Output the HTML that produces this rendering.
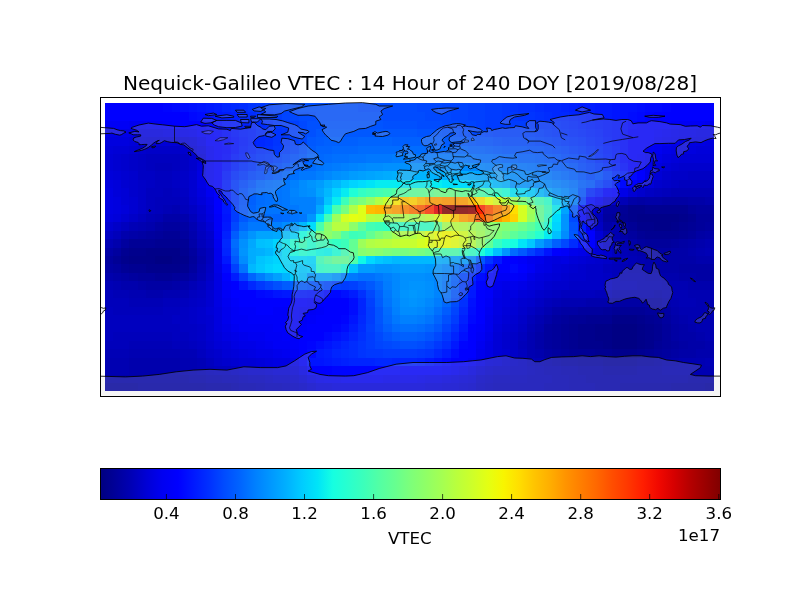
<!DOCTYPE html><html><head><meta charset="utf-8"><title>Nequick-Galileo VTEC</title>
<style>html,body{margin:0;padding:0;background:#fff}svg{display:block}text{font-family:"DejaVu Sans","Liberation Sans",sans-serif;fill:#000}</style></head><body>
<svg width="800" height="600" viewBox="0 0 800 600">
<rect width="800" height="600" fill="#fff"/>
<defs><clipPath id="ax"><rect x="100.5" y="97.5" width="620.0" height="299.0"/></clipPath></defs>
<g shape-rendering="crispEdges">
<rect x="105.00" y="103.00" width="58.00" height="9.00" fill="#0000ff"/>
<rect x="163.00" y="103.00" width="9.00" height="9.00" fill="#0004ff"/>
<rect x="172.00" y="103.00" width="8.00" height="9.00" fill="#0008ff"/>
<rect x="180.00" y="103.00" width="9.00" height="9.00" fill="#000cff"/>
<rect x="189.00" y="103.00" width="8.00" height="9.00" fill="#0010ff"/>
<rect x="197.00" y="103.00" width="9.00" height="9.00" fill="#0014ff"/>
<rect x="206.00" y="103.00" width="8.00" height="9.00" fill="#0018ff"/>
<rect x="214.00" y="103.00" width="8.00" height="9.00" fill="#001cff"/>
<rect x="222.00" y="103.00" width="9.00" height="9.00" fill="#0024ff"/>
<rect x="231.00" y="103.00" width="8.00" height="9.00" fill="#0028ff"/>
<rect x="239.00" y="103.00" width="9.00" height="9.00" fill="#002cff"/>
<rect x="248.00" y="103.00" width="8.00" height="9.00" fill="#0034ff"/>
<rect x="256.00" y="103.00" width="9.00" height="9.00" fill="#0038ff"/>
<rect x="265.00" y="103.00" width="8.00" height="9.00" fill="#0040ff"/>
<rect x="273.00" y="103.00" width="9.00" height="9.00" fill="#0044ff"/>
<rect x="282.00" y="103.00" width="8.00" height="9.00" fill="#0048ff"/>
<rect x="290.00" y="103.00" width="9.00" height="9.00" fill="#004cff"/>
<rect x="299.00" y="103.00" width="59.00" height="9.00" fill="#0050ff"/>
<rect x="358.00" y="103.00" width="59.00" height="9.00" fill="#004cff"/>
<rect x="417.00" y="103.00" width="25.00" height="9.00" fill="#0048ff"/>
<rect x="442.00" y="103.00" width="26.00" height="9.00" fill="#0044ff"/>
<rect x="468.00" y="103.00" width="17.00" height="9.00" fill="#0040ff"/>
<rect x="485.00" y="103.00" width="17.00" height="9.00" fill="#003cff"/>
<rect x="502.00" y="103.00" width="8.00" height="9.00" fill="#0038ff"/>
<rect x="510.00" y="103.00" width="8.00" height="9.00" fill="#0034ff"/>
<rect x="518.00" y="103.00" width="17.00" height="9.00" fill="#0030ff"/>
<rect x="535.00" y="103.00" width="9.00" height="9.00" fill="#002cff"/>
<rect x="544.00" y="103.00" width="17.00" height="9.00" fill="#0028ff"/>
<rect x="561.00" y="103.00" width="8.00" height="9.00" fill="#0024ff"/>
<rect x="569.00" y="103.00" width="9.00" height="9.00" fill="#0020ff"/>
<rect x="578.00" y="103.00" width="17.00" height="9.00" fill="#001cff"/>
<rect x="595.00" y="103.00" width="17.00" height="9.00" fill="#0018ff"/>
<rect x="612.00" y="103.00" width="8.00" height="9.00" fill="#0014ff"/>
<rect x="620.00" y="103.00" width="17.00" height="9.00" fill="#0010ff"/>
<rect x="637.00" y="103.00" width="8.00" height="9.00" fill="#000cff"/>
<rect x="645.00" y="103.00" width="17.00" height="9.00" fill="#0008ff"/>
<rect x="662.00" y="103.00" width="9.00" height="9.00" fill="#0004ff"/>
<rect x="671.00" y="103.00" width="43.00" height="9.00" fill="#0000ff"/>
<rect x="105.00" y="112.00" width="84.00" height="9.00" fill="#0000ff"/>
<rect x="189.00" y="112.00" width="8.00" height="9.00" fill="#0008ff"/>
<rect x="197.00" y="112.00" width="9.00" height="9.00" fill="#000cff"/>
<rect x="206.00" y="112.00" width="8.00" height="9.00" fill="#0010ff"/>
<rect x="214.00" y="112.00" width="8.00" height="9.00" fill="#0018ff"/>
<rect x="222.00" y="112.00" width="9.00" height="9.00" fill="#001cff"/>
<rect x="231.00" y="112.00" width="8.00" height="9.00" fill="#0020ff"/>
<rect x="239.00" y="112.00" width="9.00" height="9.00" fill="#0028ff"/>
<rect x="248.00" y="112.00" width="8.00" height="9.00" fill="#002cff"/>
<rect x="256.00" y="112.00" width="9.00" height="9.00" fill="#0034ff"/>
<rect x="265.00" y="112.00" width="8.00" height="9.00" fill="#0038ff"/>
<rect x="273.00" y="112.00" width="9.00" height="9.00" fill="#003cff"/>
<rect x="282.00" y="112.00" width="8.00" height="9.00" fill="#0044ff"/>
<rect x="290.00" y="112.00" width="9.00" height="9.00" fill="#0048ff"/>
<rect x="299.00" y="112.00" width="17.00" height="9.00" fill="#004cff"/>
<rect x="316.00" y="112.00" width="67.00" height="9.00" fill="#0050ff"/>
<rect x="383.00" y="112.00" width="42.00" height="9.00" fill="#004cff"/>
<rect x="425.00" y="112.00" width="26.00" height="9.00" fill="#0048ff"/>
<rect x="451.00" y="112.00" width="17.00" height="9.00" fill="#0044ff"/>
<rect x="468.00" y="112.00" width="17.00" height="9.00" fill="#0040ff"/>
<rect x="485.00" y="112.00" width="17.00" height="9.00" fill="#003cff"/>
<rect x="502.00" y="112.00" width="16.00" height="9.00" fill="#0038ff"/>
<rect x="518.00" y="112.00" width="17.00" height="9.00" fill="#0034ff"/>
<rect x="535.00" y="112.00" width="9.00" height="9.00" fill="#0030ff"/>
<rect x="544.00" y="112.00" width="8.00" height="9.00" fill="#002cff"/>
<rect x="552.00" y="112.00" width="17.00" height="9.00" fill="#0028ff"/>
<rect x="569.00" y="112.00" width="9.00" height="9.00" fill="#0024ff"/>
<rect x="578.00" y="112.00" width="8.00" height="9.00" fill="#0020ff"/>
<rect x="586.00" y="112.00" width="9.00" height="9.00" fill="#001cff"/>
<rect x="595.00" y="112.00" width="17.00" height="9.00" fill="#0018ff"/>
<rect x="612.00" y="112.00" width="8.00" height="9.00" fill="#0014ff"/>
<rect x="620.00" y="112.00" width="8.00" height="9.00" fill="#0010ff"/>
<rect x="628.00" y="112.00" width="9.00" height="9.00" fill="#000cff"/>
<rect x="637.00" y="112.00" width="8.00" height="9.00" fill="#0008ff"/>
<rect x="645.00" y="112.00" width="9.00" height="9.00" fill="#0004ff"/>
<rect x="654.00" y="112.00" width="60.00" height="9.00" fill="#0000ff"/>
<rect x="105.00" y="121.00" width="24.00" height="8.00" fill="#0000f6"/>
<rect x="129.00" y="121.00" width="17.00" height="8.00" fill="#0000f1"/>
<rect x="146.00" y="121.00" width="17.00" height="8.00" fill="#0000f6"/>
<rect x="163.00" y="121.00" width="9.00" height="8.00" fill="#0000fa"/>
<rect x="172.00" y="121.00" width="34.00" height="8.00" fill="#0000ff"/>
<rect x="206.00" y="121.00" width="8.00" height="8.00" fill="#0008ff"/>
<rect x="214.00" y="121.00" width="8.00" height="8.00" fill="#000cff"/>
<rect x="222.00" y="121.00" width="9.00" height="8.00" fill="#0014ff"/>
<rect x="231.00" y="121.00" width="8.00" height="8.00" fill="#0018ff"/>
<rect x="239.00" y="121.00" width="9.00" height="8.00" fill="#0020ff"/>
<rect x="248.00" y="121.00" width="8.00" height="8.00" fill="#0024ff"/>
<rect x="256.00" y="121.00" width="9.00" height="8.00" fill="#002cff"/>
<rect x="265.00" y="121.00" width="8.00" height="8.00" fill="#0030ff"/>
<rect x="273.00" y="121.00" width="9.00" height="8.00" fill="#0038ff"/>
<rect x="282.00" y="121.00" width="8.00" height="8.00" fill="#003cff"/>
<rect x="290.00" y="121.00" width="9.00" height="8.00" fill="#0040ff"/>
<rect x="299.00" y="121.00" width="8.00" height="8.00" fill="#0048ff"/>
<rect x="307.00" y="121.00" width="17.00" height="8.00" fill="#0050ff"/>
<rect x="324.00" y="121.00" width="59.00" height="8.00" fill="#0054ff"/>
<rect x="383.00" y="121.00" width="34.00" height="8.00" fill="#0050ff"/>
<rect x="417.00" y="121.00" width="25.00" height="8.00" fill="#004cff"/>
<rect x="442.00" y="121.00" width="17.00" height="8.00" fill="#0048ff"/>
<rect x="459.00" y="121.00" width="17.00" height="8.00" fill="#0044ff"/>
<rect x="476.00" y="121.00" width="9.00" height="8.00" fill="#0040ff"/>
<rect x="485.00" y="121.00" width="42.00" height="8.00" fill="#003cff"/>
<rect x="527.00" y="121.00" width="8.00" height="8.00" fill="#0038ff"/>
<rect x="535.00" y="121.00" width="17.00" height="8.00" fill="#0034ff"/>
<rect x="552.00" y="121.00" width="9.00" height="8.00" fill="#0030ff"/>
<rect x="561.00" y="121.00" width="8.00" height="8.00" fill="#002cff"/>
<rect x="569.00" y="121.00" width="9.00" height="8.00" fill="#0028ff"/>
<rect x="578.00" y="121.00" width="8.00" height="8.00" fill="#0024ff"/>
<rect x="586.00" y="121.00" width="9.00" height="8.00" fill="#0020ff"/>
<rect x="595.00" y="121.00" width="8.00" height="8.00" fill="#001cff"/>
<rect x="603.00" y="121.00" width="9.00" height="8.00" fill="#0018ff"/>
<rect x="612.00" y="121.00" width="8.00" height="8.00" fill="#0014ff"/>
<rect x="620.00" y="121.00" width="8.00" height="8.00" fill="#000cff"/>
<rect x="628.00" y="121.00" width="9.00" height="8.00" fill="#0004ff"/>
<rect x="637.00" y="121.00" width="34.00" height="8.00" fill="#0000ff"/>
<rect x="671.00" y="121.00" width="8.00" height="8.00" fill="#0000fa"/>
<rect x="679.00" y="121.00" width="26.00" height="8.00" fill="#0000f6"/>
<rect x="705.00" y="121.00" width="9.00" height="8.00" fill="#0000f1"/>
<rect x="105.00" y="129.00" width="33.00" height="8.00" fill="#0000e8"/>
<rect x="138.00" y="129.00" width="25.00" height="8.00" fill="#0000e3"/>
<rect x="163.00" y="129.00" width="17.00" height="8.00" fill="#0000e8"/>
<rect x="180.00" y="129.00" width="9.00" height="8.00" fill="#0000ed"/>
<rect x="189.00" y="129.00" width="8.00" height="8.00" fill="#0000f1"/>
<rect x="197.00" y="129.00" width="9.00" height="8.00" fill="#0000fa"/>
<rect x="206.00" y="129.00" width="8.00" height="8.00" fill="#0000ff"/>
<rect x="214.00" y="129.00" width="8.00" height="8.00" fill="#0004ff"/>
<rect x="222.00" y="129.00" width="9.00" height="8.00" fill="#000cff"/>
<rect x="231.00" y="129.00" width="8.00" height="8.00" fill="#0014ff"/>
<rect x="239.00" y="129.00" width="9.00" height="8.00" fill="#001cff"/>
<rect x="248.00" y="129.00" width="8.00" height="8.00" fill="#0020ff"/>
<rect x="256.00" y="129.00" width="9.00" height="8.00" fill="#0028ff"/>
<rect x="265.00" y="129.00" width="8.00" height="8.00" fill="#002cff"/>
<rect x="273.00" y="129.00" width="9.00" height="8.00" fill="#0034ff"/>
<rect x="282.00" y="129.00" width="8.00" height="8.00" fill="#0038ff"/>
<rect x="290.00" y="129.00" width="9.00" height="8.00" fill="#0040ff"/>
<rect x="299.00" y="129.00" width="8.00" height="8.00" fill="#0048ff"/>
<rect x="307.00" y="129.00" width="9.00" height="8.00" fill="#0050ff"/>
<rect x="316.00" y="129.00" width="101.00" height="8.00" fill="#0058ff"/>
<rect x="417.00" y="129.00" width="25.00" height="8.00" fill="#0054ff"/>
<rect x="442.00" y="129.00" width="17.00" height="8.00" fill="#0050ff"/>
<rect x="459.00" y="129.00" width="9.00" height="8.00" fill="#004cff"/>
<rect x="468.00" y="129.00" width="17.00" height="8.00" fill="#0048ff"/>
<rect x="485.00" y="129.00" width="8.00" height="8.00" fill="#0044ff"/>
<rect x="493.00" y="129.00" width="42.00" height="8.00" fill="#0040ff"/>
<rect x="535.00" y="129.00" width="9.00" height="8.00" fill="#003cff"/>
<rect x="544.00" y="129.00" width="8.00" height="8.00" fill="#0038ff"/>
<rect x="552.00" y="129.00" width="9.00" height="8.00" fill="#0034ff"/>
<rect x="561.00" y="129.00" width="8.00" height="8.00" fill="#0030ff"/>
<rect x="569.00" y="129.00" width="9.00" height="8.00" fill="#002cff"/>
<rect x="578.00" y="129.00" width="8.00" height="8.00" fill="#0028ff"/>
<rect x="586.00" y="129.00" width="9.00" height="8.00" fill="#0024ff"/>
<rect x="595.00" y="129.00" width="8.00" height="8.00" fill="#0020ff"/>
<rect x="603.00" y="129.00" width="9.00" height="8.00" fill="#0018ff"/>
<rect x="612.00" y="129.00" width="8.00" height="8.00" fill="#0014ff"/>
<rect x="620.00" y="129.00" width="8.00" height="8.00" fill="#000cff"/>
<rect x="628.00" y="129.00" width="26.00" height="8.00" fill="#0000ff"/>
<rect x="654.00" y="129.00" width="8.00" height="8.00" fill="#0000fa"/>
<rect x="662.00" y="129.00" width="9.00" height="8.00" fill="#0000f6"/>
<rect x="671.00" y="129.00" width="8.00" height="8.00" fill="#0000f1"/>
<rect x="679.00" y="129.00" width="17.00" height="8.00" fill="#0000ed"/>
<rect x="696.00" y="129.00" width="18.00" height="8.00" fill="#0000e8"/>
<rect x="105.00" y="137.00" width="24.00" height="9.00" fill="#0000df"/>
<rect x="129.00" y="137.00" width="17.00" height="9.00" fill="#0000da"/>
<rect x="146.00" y="137.00" width="34.00" height="9.00" fill="#0000d6"/>
<rect x="180.00" y="137.00" width="9.00" height="9.00" fill="#0000da"/>
<rect x="189.00" y="137.00" width="8.00" height="9.00" fill="#0000df"/>
<rect x="197.00" y="137.00" width="9.00" height="9.00" fill="#0000ed"/>
<rect x="206.00" y="137.00" width="16.00" height="9.00" fill="#0000ff"/>
<rect x="222.00" y="137.00" width="9.00" height="9.00" fill="#0008ff"/>
<rect x="231.00" y="137.00" width="8.00" height="9.00" fill="#0010ff"/>
<rect x="239.00" y="137.00" width="9.00" height="9.00" fill="#0018ff"/>
<rect x="248.00" y="137.00" width="8.00" height="9.00" fill="#0020ff"/>
<rect x="256.00" y="137.00" width="9.00" height="9.00" fill="#0028ff"/>
<rect x="265.00" y="137.00" width="8.00" height="9.00" fill="#002cff"/>
<rect x="273.00" y="137.00" width="9.00" height="9.00" fill="#0034ff"/>
<rect x="282.00" y="137.00" width="8.00" height="9.00" fill="#0038ff"/>
<rect x="290.00" y="137.00" width="9.00" height="9.00" fill="#0040ff"/>
<rect x="299.00" y="137.00" width="8.00" height="9.00" fill="#0048ff"/>
<rect x="307.00" y="137.00" width="9.00" height="9.00" fill="#0058ff"/>
<rect x="316.00" y="137.00" width="8.00" height="9.00" fill="#005cff"/>
<rect x="324.00" y="137.00" width="34.00" height="9.00" fill="#0060ff"/>
<rect x="358.00" y="137.00" width="34.00" height="9.00" fill="#0064ff"/>
<rect x="392.00" y="137.00" width="42.00" height="9.00" fill="#0060ff"/>
<rect x="434.00" y="137.00" width="17.00" height="9.00" fill="#005cff"/>
<rect x="451.00" y="137.00" width="17.00" height="9.00" fill="#0058ff"/>
<rect x="468.00" y="137.00" width="8.00" height="9.00" fill="#0054ff"/>
<rect x="476.00" y="137.00" width="17.00" height="9.00" fill="#0050ff"/>
<rect x="493.00" y="137.00" width="9.00" height="9.00" fill="#004cff"/>
<rect x="502.00" y="137.00" width="33.00" height="9.00" fill="#0048ff"/>
<rect x="535.00" y="137.00" width="9.00" height="9.00" fill="#0044ff"/>
<rect x="544.00" y="137.00" width="8.00" height="9.00" fill="#0040ff"/>
<rect x="552.00" y="137.00" width="9.00" height="9.00" fill="#003cff"/>
<rect x="561.00" y="137.00" width="8.00" height="9.00" fill="#0038ff"/>
<rect x="569.00" y="137.00" width="9.00" height="9.00" fill="#0034ff"/>
<rect x="578.00" y="137.00" width="8.00" height="9.00" fill="#0030ff"/>
<rect x="586.00" y="137.00" width="9.00" height="9.00" fill="#0028ff"/>
<rect x="595.00" y="137.00" width="8.00" height="9.00" fill="#0024ff"/>
<rect x="603.00" y="137.00" width="9.00" height="9.00" fill="#001cff"/>
<rect x="612.00" y="137.00" width="8.00" height="9.00" fill="#0014ff"/>
<rect x="620.00" y="137.00" width="8.00" height="9.00" fill="#000cff"/>
<rect x="628.00" y="137.00" width="26.00" height="9.00" fill="#0000ff"/>
<rect x="654.00" y="137.00" width="8.00" height="9.00" fill="#0000f6"/>
<rect x="662.00" y="137.00" width="9.00" height="9.00" fill="#0000f1"/>
<rect x="671.00" y="137.00" width="8.00" height="9.00" fill="#0000ed"/>
<rect x="679.00" y="137.00" width="9.00" height="9.00" fill="#0000e8"/>
<rect x="688.00" y="137.00" width="17.00" height="9.00" fill="#0000e3"/>
<rect x="705.00" y="137.00" width="9.00" height="9.00" fill="#0000df"/>
<rect x="105.00" y="146.00" width="8.00" height="8.00" fill="#0000da"/>
<rect x="113.00" y="146.00" width="16.00" height="8.00" fill="#0000d6"/>
<rect x="129.00" y="146.00" width="9.00" height="8.00" fill="#0000d1"/>
<rect x="138.00" y="146.00" width="8.00" height="8.00" fill="#0000cd"/>
<rect x="146.00" y="146.00" width="34.00" height="8.00" fill="#0000c8"/>
<rect x="180.00" y="146.00" width="9.00" height="8.00" fill="#0000cd"/>
<rect x="189.00" y="146.00" width="8.00" height="8.00" fill="#0000d6"/>
<rect x="197.00" y="146.00" width="9.00" height="8.00" fill="#0000e3"/>
<rect x="206.00" y="146.00" width="8.00" height="8.00" fill="#0000f6"/>
<rect x="214.00" y="146.00" width="8.00" height="8.00" fill="#0000ff"/>
<rect x="222.00" y="146.00" width="9.00" height="8.00" fill="#0004ff"/>
<rect x="231.00" y="146.00" width="8.00" height="8.00" fill="#0010ff"/>
<rect x="239.00" y="146.00" width="9.00" height="8.00" fill="#001cff"/>
<rect x="248.00" y="146.00" width="8.00" height="8.00" fill="#0024ff"/>
<rect x="256.00" y="146.00" width="9.00" height="8.00" fill="#002cff"/>
<rect x="265.00" y="146.00" width="8.00" height="8.00" fill="#0030ff"/>
<rect x="273.00" y="146.00" width="9.00" height="8.00" fill="#0038ff"/>
<rect x="282.00" y="146.00" width="8.00" height="8.00" fill="#003cff"/>
<rect x="290.00" y="146.00" width="9.00" height="8.00" fill="#0044ff"/>
<rect x="299.00" y="146.00" width="8.00" height="8.00" fill="#0050ff"/>
<rect x="307.00" y="146.00" width="9.00" height="8.00" fill="#005cff"/>
<rect x="316.00" y="146.00" width="16.00" height="8.00" fill="#0064ff"/>
<rect x="332.00" y="146.00" width="26.00" height="8.00" fill="#0068ff"/>
<rect x="358.00" y="146.00" width="67.00" height="8.00" fill="#006cff"/>
<rect x="425.00" y="146.00" width="26.00" height="8.00" fill="#0068ff"/>
<rect x="451.00" y="146.00" width="17.00" height="8.00" fill="#0064ff"/>
<rect x="468.00" y="146.00" width="17.00" height="8.00" fill="#0060ff"/>
<rect x="485.00" y="146.00" width="8.00" height="8.00" fill="#005cff"/>
<rect x="493.00" y="146.00" width="9.00" height="8.00" fill="#0058ff"/>
<rect x="502.00" y="146.00" width="25.00" height="8.00" fill="#0054ff"/>
<rect x="527.00" y="146.00" width="17.00" height="8.00" fill="#0050ff"/>
<rect x="544.00" y="146.00" width="8.00" height="8.00" fill="#004cff"/>
<rect x="552.00" y="146.00" width="9.00" height="8.00" fill="#0048ff"/>
<rect x="561.00" y="146.00" width="8.00" height="8.00" fill="#0044ff"/>
<rect x="569.00" y="146.00" width="9.00" height="8.00" fill="#003cff"/>
<rect x="578.00" y="146.00" width="8.00" height="8.00" fill="#0038ff"/>
<rect x="586.00" y="146.00" width="9.00" height="8.00" fill="#0030ff"/>
<rect x="595.00" y="146.00" width="8.00" height="8.00" fill="#0028ff"/>
<rect x="603.00" y="146.00" width="9.00" height="8.00" fill="#0020ff"/>
<rect x="612.00" y="146.00" width="8.00" height="8.00" fill="#0018ff"/>
<rect x="620.00" y="146.00" width="8.00" height="8.00" fill="#000cff"/>
<rect x="628.00" y="146.00" width="17.00" height="8.00" fill="#0000ff"/>
<rect x="645.00" y="146.00" width="9.00" height="8.00" fill="#0000f6"/>
<rect x="654.00" y="146.00" width="8.00" height="8.00" fill="#0000f1"/>
<rect x="662.00" y="146.00" width="9.00" height="8.00" fill="#0000e8"/>
<rect x="671.00" y="146.00" width="8.00" height="8.00" fill="#0000e3"/>
<rect x="679.00" y="146.00" width="17.00" height="8.00" fill="#0000df"/>
<rect x="696.00" y="146.00" width="18.00" height="8.00" fill="#0000da"/>
<rect x="105.00" y="154.00" width="8.00" height="9.00" fill="#0000d6"/>
<rect x="113.00" y="154.00" width="8.00" height="9.00" fill="#0000d1"/>
<rect x="121.00" y="154.00" width="8.00" height="9.00" fill="#0000cd"/>
<rect x="129.00" y="154.00" width="9.00" height="9.00" fill="#0000c8"/>
<rect x="138.00" y="154.00" width="8.00" height="9.00" fill="#0000c4"/>
<rect x="146.00" y="154.00" width="34.00" height="9.00" fill="#0000bf"/>
<rect x="180.00" y="154.00" width="9.00" height="9.00" fill="#0000c4"/>
<rect x="189.00" y="154.00" width="8.00" height="9.00" fill="#0000cd"/>
<rect x="197.00" y="154.00" width="9.00" height="9.00" fill="#0000da"/>
<rect x="206.00" y="154.00" width="8.00" height="9.00" fill="#0000f6"/>
<rect x="214.00" y="154.00" width="8.00" height="9.00" fill="#0000ff"/>
<rect x="222.00" y="154.00" width="9.00" height="9.00" fill="#0008ff"/>
<rect x="231.00" y="154.00" width="8.00" height="9.00" fill="#0018ff"/>
<rect x="239.00" y="154.00" width="9.00" height="9.00" fill="#0020ff"/>
<rect x="248.00" y="154.00" width="8.00" height="9.00" fill="#002cff"/>
<rect x="256.00" y="154.00" width="9.00" height="9.00" fill="#0034ff"/>
<rect x="265.00" y="154.00" width="8.00" height="9.00" fill="#0038ff"/>
<rect x="273.00" y="154.00" width="9.00" height="9.00" fill="#0040ff"/>
<rect x="282.00" y="154.00" width="8.00" height="9.00" fill="#0048ff"/>
<rect x="290.00" y="154.00" width="9.00" height="9.00" fill="#0050ff"/>
<rect x="299.00" y="154.00" width="8.00" height="9.00" fill="#0058ff"/>
<rect x="307.00" y="154.00" width="9.00" height="9.00" fill="#0064ff"/>
<rect x="316.00" y="154.00" width="8.00" height="9.00" fill="#0068ff"/>
<rect x="324.00" y="154.00" width="8.00" height="9.00" fill="#006cff"/>
<rect x="332.00" y="154.00" width="17.00" height="9.00" fill="#0070ff"/>
<rect x="349.00" y="154.00" width="17.00" height="9.00" fill="#0074ff"/>
<rect x="366.00" y="154.00" width="26.00" height="9.00" fill="#0078ff"/>
<rect x="392.00" y="154.00" width="25.00" height="9.00" fill="#007cff"/>
<rect x="417.00" y="154.00" width="34.00" height="9.00" fill="#0078ff"/>
<rect x="451.00" y="154.00" width="17.00" height="9.00" fill="#0074ff"/>
<rect x="468.00" y="154.00" width="8.00" height="9.00" fill="#0070ff"/>
<rect x="476.00" y="154.00" width="17.00" height="9.00" fill="#006cff"/>
<rect x="493.00" y="154.00" width="9.00" height="9.00" fill="#0068ff"/>
<rect x="502.00" y="154.00" width="16.00" height="9.00" fill="#0064ff"/>
<rect x="518.00" y="154.00" width="17.00" height="9.00" fill="#0060ff"/>
<rect x="535.00" y="154.00" width="9.00" height="9.00" fill="#005cff"/>
<rect x="544.00" y="154.00" width="8.00" height="9.00" fill="#0058ff"/>
<rect x="552.00" y="154.00" width="9.00" height="9.00" fill="#0054ff"/>
<rect x="561.00" y="154.00" width="8.00" height="9.00" fill="#004cff"/>
<rect x="569.00" y="154.00" width="9.00" height="9.00" fill="#0048ff"/>
<rect x="578.00" y="154.00" width="8.00" height="9.00" fill="#0040ff"/>
<rect x="586.00" y="154.00" width="9.00" height="9.00" fill="#0038ff"/>
<rect x="595.00" y="154.00" width="8.00" height="9.00" fill="#002cff"/>
<rect x="603.00" y="154.00" width="9.00" height="9.00" fill="#0024ff"/>
<rect x="612.00" y="154.00" width="8.00" height="9.00" fill="#0018ff"/>
<rect x="620.00" y="154.00" width="8.00" height="9.00" fill="#0008ff"/>
<rect x="628.00" y="154.00" width="9.00" height="9.00" fill="#0000ff"/>
<rect x="637.00" y="154.00" width="8.00" height="9.00" fill="#0000fa"/>
<rect x="645.00" y="154.00" width="9.00" height="9.00" fill="#0000f1"/>
<rect x="654.00" y="154.00" width="8.00" height="9.00" fill="#0000e8"/>
<rect x="662.00" y="154.00" width="9.00" height="9.00" fill="#0000df"/>
<rect x="671.00" y="154.00" width="8.00" height="9.00" fill="#0000da"/>
<rect x="679.00" y="154.00" width="35.00" height="9.00" fill="#0000d6"/>
<rect x="105.00" y="163.00" width="8.00" height="8.00" fill="#0000d6"/>
<rect x="113.00" y="163.00" width="8.00" height="8.00" fill="#0000d1"/>
<rect x="121.00" y="163.00" width="8.00" height="8.00" fill="#0000cd"/>
<rect x="129.00" y="163.00" width="9.00" height="8.00" fill="#0000c8"/>
<rect x="138.00" y="163.00" width="8.00" height="8.00" fill="#0000c4"/>
<rect x="146.00" y="163.00" width="9.00" height="8.00" fill="#0000bf"/>
<rect x="155.00" y="163.00" width="17.00" height="8.00" fill="#0000bb"/>
<rect x="172.00" y="163.00" width="8.00" height="8.00" fill="#0000bf"/>
<rect x="180.00" y="163.00" width="9.00" height="8.00" fill="#0000c4"/>
<rect x="189.00" y="163.00" width="8.00" height="8.00" fill="#0000cd"/>
<rect x="197.00" y="163.00" width="9.00" height="8.00" fill="#0000df"/>
<rect x="206.00" y="163.00" width="8.00" height="8.00" fill="#0000f6"/>
<rect x="214.00" y="163.00" width="8.00" height="8.00" fill="#0000ff"/>
<rect x="222.00" y="163.00" width="9.00" height="8.00" fill="#0010ff"/>
<rect x="231.00" y="163.00" width="8.00" height="8.00" fill="#0020ff"/>
<rect x="239.00" y="163.00" width="9.00" height="8.00" fill="#002cff"/>
<rect x="248.00" y="163.00" width="8.00" height="8.00" fill="#0034ff"/>
<rect x="256.00" y="163.00" width="9.00" height="8.00" fill="#0040ff"/>
<rect x="265.00" y="163.00" width="8.00" height="8.00" fill="#0044ff"/>
<rect x="273.00" y="163.00" width="9.00" height="8.00" fill="#004cff"/>
<rect x="282.00" y="163.00" width="8.00" height="8.00" fill="#0054ff"/>
<rect x="290.00" y="163.00" width="9.00" height="8.00" fill="#005cff"/>
<rect x="299.00" y="163.00" width="8.00" height="8.00" fill="#0064ff"/>
<rect x="307.00" y="163.00" width="9.00" height="8.00" fill="#006cff"/>
<rect x="316.00" y="163.00" width="8.00" height="8.00" fill="#0074ff"/>
<rect x="324.00" y="163.00" width="8.00" height="8.00" fill="#0078ff"/>
<rect x="332.00" y="163.00" width="9.00" height="8.00" fill="#007cff"/>
<rect x="341.00" y="163.00" width="8.00" height="8.00" fill="#0080ff"/>
<rect x="349.00" y="163.00" width="9.00" height="8.00" fill="#0084ff"/>
<rect x="358.00" y="163.00" width="8.00" height="8.00" fill="#0088ff"/>
<rect x="366.00" y="163.00" width="17.00" height="8.00" fill="#008cff"/>
<rect x="383.00" y="163.00" width="68.00" height="8.00" fill="#0090ff"/>
<rect x="451.00" y="163.00" width="17.00" height="8.00" fill="#008cff"/>
<rect x="468.00" y="163.00" width="8.00" height="8.00" fill="#0088ff"/>
<rect x="476.00" y="163.00" width="9.00" height="8.00" fill="#0084ff"/>
<rect x="485.00" y="163.00" width="8.00" height="8.00" fill="#0080ff"/>
<rect x="493.00" y="163.00" width="9.00" height="8.00" fill="#007cff"/>
<rect x="502.00" y="163.00" width="8.00" height="8.00" fill="#0078ff"/>
<rect x="510.00" y="163.00" width="17.00" height="8.00" fill="#0074ff"/>
<rect x="527.00" y="163.00" width="8.00" height="8.00" fill="#0070ff"/>
<rect x="535.00" y="163.00" width="9.00" height="8.00" fill="#006cff"/>
<rect x="544.00" y="163.00" width="8.00" height="8.00" fill="#0068ff"/>
<rect x="552.00" y="163.00" width="9.00" height="8.00" fill="#0060ff"/>
<rect x="561.00" y="163.00" width="8.00" height="8.00" fill="#005cff"/>
<rect x="569.00" y="163.00" width="9.00" height="8.00" fill="#0054ff"/>
<rect x="578.00" y="163.00" width="8.00" height="8.00" fill="#0048ff"/>
<rect x="586.00" y="163.00" width="9.00" height="8.00" fill="#0040ff"/>
<rect x="595.00" y="163.00" width="8.00" height="8.00" fill="#0038ff"/>
<rect x="603.00" y="163.00" width="9.00" height="8.00" fill="#002cff"/>
<rect x="612.00" y="163.00" width="8.00" height="8.00" fill="#0020ff"/>
<rect x="620.00" y="163.00" width="8.00" height="8.00" fill="#0010ff"/>
<rect x="628.00" y="163.00" width="9.00" height="8.00" fill="#0000ff"/>
<rect x="637.00" y="163.00" width="8.00" height="8.00" fill="#0000fa"/>
<rect x="645.00" y="163.00" width="9.00" height="8.00" fill="#0000e8"/>
<rect x="654.00" y="163.00" width="8.00" height="8.00" fill="#0000df"/>
<rect x="662.00" y="163.00" width="9.00" height="8.00" fill="#0000d6"/>
<rect x="671.00" y="163.00" width="8.00" height="8.00" fill="#0000d1"/>
<rect x="679.00" y="163.00" width="35.00" height="8.00" fill="#0000cd"/>
<rect x="105.00" y="171.00" width="8.00" height="9.00" fill="#0000da"/>
<rect x="113.00" y="171.00" width="8.00" height="9.00" fill="#0000d6"/>
<rect x="121.00" y="171.00" width="8.00" height="9.00" fill="#0000d1"/>
<rect x="129.00" y="171.00" width="9.00" height="9.00" fill="#0000cd"/>
<rect x="138.00" y="171.00" width="17.00" height="9.00" fill="#0000c4"/>
<rect x="155.00" y="171.00" width="17.00" height="9.00" fill="#0000bf"/>
<rect x="172.00" y="171.00" width="8.00" height="9.00" fill="#0000c4"/>
<rect x="180.00" y="171.00" width="9.00" height="9.00" fill="#0000c8"/>
<rect x="189.00" y="171.00" width="8.00" height="9.00" fill="#0000d1"/>
<rect x="197.00" y="171.00" width="9.00" height="9.00" fill="#0000e3"/>
<rect x="206.00" y="171.00" width="8.00" height="9.00" fill="#0000f6"/>
<rect x="214.00" y="171.00" width="8.00" height="9.00" fill="#0000ff"/>
<rect x="222.00" y="171.00" width="9.00" height="9.00" fill="#0018ff"/>
<rect x="231.00" y="171.00" width="8.00" height="9.00" fill="#002cff"/>
<rect x="239.00" y="171.00" width="9.00" height="9.00" fill="#0038ff"/>
<rect x="248.00" y="171.00" width="8.00" height="9.00" fill="#0044ff"/>
<rect x="256.00" y="171.00" width="9.00" height="9.00" fill="#004cff"/>
<rect x="265.00" y="171.00" width="8.00" height="9.00" fill="#0054ff"/>
<rect x="273.00" y="171.00" width="9.00" height="9.00" fill="#005cff"/>
<rect x="282.00" y="171.00" width="8.00" height="9.00" fill="#0064ff"/>
<rect x="290.00" y="171.00" width="9.00" height="9.00" fill="#0070ff"/>
<rect x="299.00" y="171.00" width="17.00" height="9.00" fill="#0078ff"/>
<rect x="316.00" y="171.00" width="8.00" height="9.00" fill="#0080ff"/>
<rect x="324.00" y="171.00" width="8.00" height="9.00" fill="#0088ff"/>
<rect x="332.00" y="171.00" width="9.00" height="9.00" fill="#0090ff"/>
<rect x="341.00" y="171.00" width="8.00" height="9.00" fill="#0094ff"/>
<rect x="349.00" y="171.00" width="9.00" height="9.00" fill="#009cff"/>
<rect x="358.00" y="171.00" width="8.00" height="9.00" fill="#00a0ff"/>
<rect x="366.00" y="171.00" width="9.00" height="9.00" fill="#00a4ff"/>
<rect x="375.00" y="171.00" width="8.00" height="9.00" fill="#00a8ff"/>
<rect x="383.00" y="171.00" width="9.00" height="9.00" fill="#00acff"/>
<rect x="392.00" y="171.00" width="25.00" height="9.00" fill="#00b0ff"/>
<rect x="417.00" y="171.00" width="17.00" height="9.00" fill="#00b4ff"/>
<rect x="434.00" y="171.00" width="25.00" height="9.00" fill="#00b0ff"/>
<rect x="459.00" y="171.00" width="9.00" height="9.00" fill="#00acff"/>
<rect x="468.00" y="171.00" width="8.00" height="9.00" fill="#00a8ff"/>
<rect x="476.00" y="171.00" width="9.00" height="9.00" fill="#00a4ff"/>
<rect x="485.00" y="171.00" width="8.00" height="9.00" fill="#00a0ff"/>
<rect x="493.00" y="171.00" width="9.00" height="9.00" fill="#009cff"/>
<rect x="502.00" y="171.00" width="8.00" height="9.00" fill="#0094ff"/>
<rect x="510.00" y="171.00" width="8.00" height="9.00" fill="#008cff"/>
<rect x="518.00" y="171.00" width="9.00" height="9.00" fill="#0088ff"/>
<rect x="527.00" y="171.00" width="8.00" height="9.00" fill="#0084ff"/>
<rect x="535.00" y="171.00" width="9.00" height="9.00" fill="#007cff"/>
<rect x="544.00" y="171.00" width="8.00" height="9.00" fill="#0078ff"/>
<rect x="552.00" y="171.00" width="9.00" height="9.00" fill="#0070ff"/>
<rect x="561.00" y="171.00" width="8.00" height="9.00" fill="#0068ff"/>
<rect x="569.00" y="171.00" width="9.00" height="9.00" fill="#0060ff"/>
<rect x="578.00" y="171.00" width="8.00" height="9.00" fill="#0054ff"/>
<rect x="586.00" y="171.00" width="9.00" height="9.00" fill="#0048ff"/>
<rect x="595.00" y="171.00" width="8.00" height="9.00" fill="#0050ff"/>
<rect x="603.00" y="171.00" width="9.00" height="9.00" fill="#0040ff"/>
<rect x="612.00" y="171.00" width="8.00" height="9.00" fill="#002cff"/>
<rect x="620.00" y="171.00" width="8.00" height="9.00" fill="#001cff"/>
<rect x="628.00" y="171.00" width="9.00" height="9.00" fill="#0008ff"/>
<rect x="637.00" y="171.00" width="8.00" height="9.00" fill="#0000ff"/>
<rect x="645.00" y="171.00" width="9.00" height="9.00" fill="#0000e8"/>
<rect x="654.00" y="171.00" width="8.00" height="9.00" fill="#0000d6"/>
<rect x="662.00" y="171.00" width="9.00" height="9.00" fill="#0000cd"/>
<rect x="671.00" y="171.00" width="17.00" height="9.00" fill="#0000c8"/>
<rect x="688.00" y="171.00" width="26.00" height="9.00" fill="#0000c4"/>
<rect x="105.00" y="180.00" width="8.00" height="8.00" fill="#0000df"/>
<rect x="113.00" y="180.00" width="8.00" height="8.00" fill="#0000da"/>
<rect x="121.00" y="180.00" width="8.00" height="8.00" fill="#0000d1"/>
<rect x="129.00" y="180.00" width="9.00" height="8.00" fill="#0000cd"/>
<rect x="138.00" y="180.00" width="8.00" height="8.00" fill="#0000c8"/>
<rect x="146.00" y="180.00" width="9.00" height="8.00" fill="#0000c4"/>
<rect x="155.00" y="180.00" width="17.00" height="8.00" fill="#0000bf"/>
<rect x="172.00" y="180.00" width="8.00" height="8.00" fill="#0000c4"/>
<rect x="180.00" y="180.00" width="9.00" height="8.00" fill="#0000c8"/>
<rect x="189.00" y="180.00" width="8.00" height="8.00" fill="#0000d1"/>
<rect x="197.00" y="180.00" width="9.00" height="8.00" fill="#0000e3"/>
<rect x="206.00" y="180.00" width="8.00" height="8.00" fill="#0000f6"/>
<rect x="214.00" y="180.00" width="8.00" height="8.00" fill="#0000ff"/>
<rect x="222.00" y="180.00" width="9.00" height="8.00" fill="#001cff"/>
<rect x="231.00" y="180.00" width="8.00" height="8.00" fill="#0038ff"/>
<rect x="239.00" y="180.00" width="9.00" height="8.00" fill="#0048ff"/>
<rect x="248.00" y="180.00" width="8.00" height="8.00" fill="#0054ff"/>
<rect x="256.00" y="180.00" width="9.00" height="8.00" fill="#0064ff"/>
<rect x="265.00" y="180.00" width="8.00" height="8.00" fill="#006cff"/>
<rect x="273.00" y="180.00" width="9.00" height="8.00" fill="#0070ff"/>
<rect x="282.00" y="180.00" width="8.00" height="8.00" fill="#0078ff"/>
<rect x="290.00" y="180.00" width="9.00" height="8.00" fill="#0080ff"/>
<rect x="299.00" y="180.00" width="8.00" height="8.00" fill="#008cff"/>
<rect x="307.00" y="180.00" width="9.00" height="8.00" fill="#0094ff"/>
<rect x="316.00" y="180.00" width="8.00" height="8.00" fill="#009cff"/>
<rect x="324.00" y="180.00" width="8.00" height="8.00" fill="#00acff"/>
<rect x="332.00" y="180.00" width="9.00" height="8.00" fill="#00b8ff"/>
<rect x="341.00" y="180.00" width="8.00" height="8.00" fill="#00c8ff"/>
<rect x="349.00" y="180.00" width="9.00" height="8.00" fill="#00d4ff"/>
<rect x="358.00" y="180.00" width="8.00" height="8.00" fill="#00dcfe"/>
<rect x="366.00" y="180.00" width="9.00" height="8.00" fill="#00e4f8"/>
<rect x="375.00" y="180.00" width="67.00" height="8.00" fill="#06ecf1"/>
<rect x="442.00" y="180.00" width="9.00" height="8.00" fill="#00e4f8"/>
<rect x="451.00" y="180.00" width="8.00" height="8.00" fill="#00e0fb"/>
<rect x="459.00" y="180.00" width="9.00" height="8.00" fill="#00dcfe"/>
<rect x="468.00" y="180.00" width="8.00" height="8.00" fill="#00d4ff"/>
<rect x="476.00" y="180.00" width="9.00" height="8.00" fill="#00ccff"/>
<rect x="485.00" y="180.00" width="8.00" height="8.00" fill="#00c4ff"/>
<rect x="493.00" y="180.00" width="9.00" height="8.00" fill="#00b8ff"/>
<rect x="502.00" y="180.00" width="8.00" height="8.00" fill="#00b0ff"/>
<rect x="510.00" y="180.00" width="17.00" height="8.00" fill="#0094ff"/>
<rect x="527.00" y="180.00" width="8.00" height="8.00" fill="#0090ff"/>
<rect x="535.00" y="180.00" width="9.00" height="8.00" fill="#008cff"/>
<rect x="544.00" y="180.00" width="8.00" height="8.00" fill="#0088ff"/>
<rect x="552.00" y="180.00" width="9.00" height="8.00" fill="#0080ff"/>
<rect x="561.00" y="180.00" width="8.00" height="8.00" fill="#0078ff"/>
<rect x="569.00" y="180.00" width="9.00" height="8.00" fill="#0070ff"/>
<rect x="578.00" y="180.00" width="8.00" height="8.00" fill="#0060ff"/>
<rect x="586.00" y="180.00" width="9.00" height="8.00" fill="#0058ff"/>
<rect x="595.00" y="180.00" width="8.00" height="8.00" fill="#0040ff"/>
<rect x="603.00" y="180.00" width="9.00" height="8.00" fill="#0030ff"/>
<rect x="612.00" y="180.00" width="8.00" height="8.00" fill="#001cff"/>
<rect x="620.00" y="180.00" width="8.00" height="8.00" fill="#0008ff"/>
<rect x="628.00" y="180.00" width="9.00" height="8.00" fill="#0000ff"/>
<rect x="637.00" y="180.00" width="8.00" height="8.00" fill="#0000f1"/>
<rect x="645.00" y="180.00" width="9.00" height="8.00" fill="#0000da"/>
<rect x="654.00" y="180.00" width="8.00" height="8.00" fill="#0000cd"/>
<rect x="662.00" y="180.00" width="9.00" height="8.00" fill="#0000c8"/>
<rect x="671.00" y="180.00" width="8.00" height="8.00" fill="#0000c4"/>
<rect x="679.00" y="180.00" width="35.00" height="8.00" fill="#0000bf"/>
<rect x="105.00" y="188.00" width="8.00" height="9.00" fill="#0000e3"/>
<rect x="113.00" y="188.00" width="8.00" height="9.00" fill="#0000da"/>
<rect x="121.00" y="188.00" width="8.00" height="9.00" fill="#0000d6"/>
<rect x="129.00" y="188.00" width="9.00" height="9.00" fill="#0000cd"/>
<rect x="138.00" y="188.00" width="8.00" height="9.00" fill="#0000c8"/>
<rect x="146.00" y="188.00" width="17.00" height="9.00" fill="#0000bf"/>
<rect x="163.00" y="188.00" width="9.00" height="9.00" fill="#0000bb"/>
<rect x="172.00" y="188.00" width="8.00" height="9.00" fill="#0000bf"/>
<rect x="180.00" y="188.00" width="9.00" height="9.00" fill="#0000c4"/>
<rect x="189.00" y="188.00" width="8.00" height="9.00" fill="#0000d1"/>
<rect x="197.00" y="188.00" width="9.00" height="9.00" fill="#0000df"/>
<rect x="206.00" y="188.00" width="8.00" height="9.00" fill="#0000f1"/>
<rect x="214.00" y="188.00" width="8.00" height="9.00" fill="#0000ff"/>
<rect x="222.00" y="188.00" width="9.00" height="9.00" fill="#001cff"/>
<rect x="231.00" y="188.00" width="8.00" height="9.00" fill="#0038ff"/>
<rect x="239.00" y="188.00" width="9.00" height="9.00" fill="#0050ff"/>
<rect x="248.00" y="188.00" width="8.00" height="9.00" fill="#0060ff"/>
<rect x="256.00" y="188.00" width="9.00" height="9.00" fill="#006cff"/>
<rect x="265.00" y="188.00" width="8.00" height="9.00" fill="#0070ff"/>
<rect x="273.00" y="188.00" width="9.00" height="9.00" fill="#0074ff"/>
<rect x="282.00" y="188.00" width="8.00" height="9.00" fill="#0078ff"/>
<rect x="290.00" y="188.00" width="9.00" height="9.00" fill="#0084ff"/>
<rect x="299.00" y="188.00" width="8.00" height="9.00" fill="#008cff"/>
<rect x="307.00" y="188.00" width="9.00" height="9.00" fill="#0090ff"/>
<rect x="316.00" y="188.00" width="8.00" height="9.00" fill="#00a4ff"/>
<rect x="324.00" y="188.00" width="8.00" height="9.00" fill="#00b8ff"/>
<rect x="332.00" y="188.00" width="9.00" height="9.00" fill="#00d4ff"/>
<rect x="341.00" y="188.00" width="8.00" height="9.00" fill="#06ecf1"/>
<rect x="349.00" y="188.00" width="9.00" height="9.00" fill="#1fffd7"/>
<rect x="358.00" y="188.00" width="8.00" height="9.00" fill="#33ffc4"/>
<rect x="366.00" y="188.00" width="9.00" height="9.00" fill="#3cffba"/>
<rect x="375.00" y="188.00" width="8.00" height="9.00" fill="#43ffb4"/>
<rect x="383.00" y="188.00" width="9.00" height="9.00" fill="#49ffad"/>
<rect x="392.00" y="188.00" width="17.00" height="9.00" fill="#53ffa4"/>
<rect x="409.00" y="188.00" width="8.00" height="9.00" fill="#5dff9a"/>
<rect x="417.00" y="188.00" width="8.00" height="9.00" fill="#60ff97"/>
<rect x="425.00" y="188.00" width="9.00" height="9.00" fill="#63ff94"/>
<rect x="434.00" y="188.00" width="25.00" height="9.00" fill="#6dff8a"/>
<rect x="459.00" y="188.00" width="9.00" height="9.00" fill="#63ff94"/>
<rect x="468.00" y="188.00" width="8.00" height="9.00" fill="#5dff9a"/>
<rect x="476.00" y="188.00" width="9.00" height="9.00" fill="#4dffaa"/>
<rect x="485.00" y="188.00" width="8.00" height="9.00" fill="#3cffba"/>
<rect x="493.00" y="188.00" width="9.00" height="9.00" fill="#2cffca"/>
<rect x="502.00" y="188.00" width="8.00" height="9.00" fill="#1fffd7"/>
<rect x="510.00" y="188.00" width="8.00" height="9.00" fill="#00e4f8"/>
<rect x="518.00" y="188.00" width="9.00" height="9.00" fill="#00dcfe"/>
<rect x="527.00" y="188.00" width="8.00" height="9.00" fill="#00ccff"/>
<rect x="535.00" y="188.00" width="9.00" height="9.00" fill="#00b8ff"/>
<rect x="544.00" y="188.00" width="8.00" height="9.00" fill="#00a4ff"/>
<rect x="552.00" y="188.00" width="9.00" height="9.00" fill="#0094ff"/>
<rect x="561.00" y="188.00" width="8.00" height="9.00" fill="#0088ff"/>
<rect x="569.00" y="188.00" width="9.00" height="9.00" fill="#0078ff"/>
<rect x="578.00" y="188.00" width="8.00" height="9.00" fill="#0054ff"/>
<rect x="586.00" y="188.00" width="9.00" height="9.00" fill="#0028ff"/>
<rect x="595.00" y="188.00" width="8.00" height="9.00" fill="#0018ff"/>
<rect x="603.00" y="188.00" width="9.00" height="9.00" fill="#0004ff"/>
<rect x="612.00" y="188.00" width="8.00" height="9.00" fill="#0000ff"/>
<rect x="620.00" y="188.00" width="8.00" height="9.00" fill="#0000e8"/>
<rect x="628.00" y="188.00" width="9.00" height="9.00" fill="#0000d6"/>
<rect x="637.00" y="188.00" width="8.00" height="9.00" fill="#0000cd"/>
<rect x="645.00" y="188.00" width="9.00" height="9.00" fill="#0000c4"/>
<rect x="654.00" y="188.00" width="8.00" height="9.00" fill="#0000bf"/>
<rect x="662.00" y="188.00" width="9.00" height="9.00" fill="#0000bb"/>
<rect x="671.00" y="188.00" width="43.00" height="9.00" fill="#0000b6"/>
<rect x="105.00" y="197.00" width="8.00" height="8.00" fill="#0000e3"/>
<rect x="113.00" y="197.00" width="8.00" height="8.00" fill="#0000df"/>
<rect x="121.00" y="197.00" width="8.00" height="8.00" fill="#0000d6"/>
<rect x="129.00" y="197.00" width="9.00" height="8.00" fill="#0000d1"/>
<rect x="138.00" y="197.00" width="8.00" height="8.00" fill="#0000c8"/>
<rect x="146.00" y="197.00" width="9.00" height="8.00" fill="#0000bf"/>
<rect x="155.00" y="197.00" width="25.00" height="8.00" fill="#0000bb"/>
<rect x="180.00" y="197.00" width="9.00" height="8.00" fill="#0000bf"/>
<rect x="189.00" y="197.00" width="8.00" height="8.00" fill="#0000cd"/>
<rect x="197.00" y="197.00" width="9.00" height="8.00" fill="#0000da"/>
<rect x="206.00" y="197.00" width="8.00" height="8.00" fill="#0000e8"/>
<rect x="214.00" y="197.00" width="8.00" height="8.00" fill="#0000ff"/>
<rect x="222.00" y="197.00" width="9.00" height="8.00" fill="#0018ff"/>
<rect x="231.00" y="197.00" width="8.00" height="8.00" fill="#0038ff"/>
<rect x="239.00" y="197.00" width="9.00" height="8.00" fill="#0050ff"/>
<rect x="248.00" y="197.00" width="8.00" height="8.00" fill="#0060ff"/>
<rect x="256.00" y="197.00" width="9.00" height="8.00" fill="#006cff"/>
<rect x="265.00" y="197.00" width="8.00" height="8.00" fill="#0070ff"/>
<rect x="273.00" y="197.00" width="9.00" height="8.00" fill="#0074ff"/>
<rect x="282.00" y="197.00" width="8.00" height="8.00" fill="#0078ff"/>
<rect x="290.00" y="197.00" width="26.00" height="8.00" fill="#0080ff"/>
<rect x="316.00" y="197.00" width="8.00" height="8.00" fill="#0094ff"/>
<rect x="324.00" y="197.00" width="8.00" height="8.00" fill="#00c4ff"/>
<rect x="332.00" y="197.00" width="9.00" height="8.00" fill="#06ecf1"/>
<rect x="341.00" y="197.00" width="8.00" height="8.00" fill="#3cffba"/>
<rect x="349.00" y="197.00" width="9.00" height="8.00" fill="#6dff8a"/>
<rect x="358.00" y="197.00" width="8.00" height="8.00" fill="#7dff7a"/>
<rect x="366.00" y="197.00" width="9.00" height="8.00" fill="#94ff63"/>
<rect x="375.00" y="197.00" width="8.00" height="8.00" fill="#b1ff46"/>
<rect x="383.00" y="197.00" width="9.00" height="8.00" fill="#c7ff30"/>
<rect x="392.00" y="197.00" width="8.00" height="8.00" fill="#ffea00"/>
<rect x="400.00" y="197.00" width="9.00" height="8.00" fill="#ffc400"/>
<rect x="409.00" y="197.00" width="8.00" height="8.00" fill="#ffd000"/>
<rect x="417.00" y="197.00" width="8.00" height="8.00" fill="#ffb600"/>
<rect x="425.00" y="197.00" width="9.00" height="8.00" fill="#ff9f00"/>
<rect x="434.00" y="197.00" width="8.00" height="8.00" fill="#ff9c00"/>
<rect x="442.00" y="197.00" width="17.00" height="8.00" fill="#ff9400"/>
<rect x="459.00" y="197.00" width="9.00" height="8.00" fill="#ff9c00"/>
<rect x="468.00" y="197.00" width="8.00" height="8.00" fill="#ffb600"/>
<rect x="476.00" y="197.00" width="9.00" height="8.00" fill="#ffde00"/>
<rect x="485.00" y="197.00" width="8.00" height="8.00" fill="#ebff0c"/>
<rect x="493.00" y="197.00" width="9.00" height="8.00" fill="#d4ff23"/>
<rect x="502.00" y="197.00" width="8.00" height="8.00" fill="#baff3c"/>
<rect x="510.00" y="197.00" width="8.00" height="8.00" fill="#a0ff56"/>
<rect x="518.00" y="197.00" width="9.00" height="8.00" fill="#7dff7a"/>
<rect x="527.00" y="197.00" width="8.00" height="8.00" fill="#5dff9a"/>
<rect x="535.00" y="197.00" width="9.00" height="8.00" fill="#43ffb4"/>
<rect x="544.00" y="197.00" width="8.00" height="8.00" fill="#2cffca"/>
<rect x="552.00" y="197.00" width="9.00" height="8.00" fill="#00ccff"/>
<rect x="561.00" y="197.00" width="8.00" height="8.00" fill="#00acff"/>
<rect x="569.00" y="197.00" width="9.00" height="8.00" fill="#0080ff"/>
<rect x="578.00" y="197.00" width="8.00" height="8.00" fill="#0040ff"/>
<rect x="586.00" y="197.00" width="9.00" height="8.00" fill="#0008ff"/>
<rect x="595.00" y="197.00" width="8.00" height="8.00" fill="#0000f6"/>
<rect x="603.00" y="197.00" width="9.00" height="8.00" fill="#0000df"/>
<rect x="612.00" y="197.00" width="8.00" height="8.00" fill="#0000cd"/>
<rect x="620.00" y="197.00" width="8.00" height="8.00" fill="#0000b6"/>
<rect x="628.00" y="197.00" width="9.00" height="8.00" fill="#0000a8"/>
<rect x="637.00" y="197.00" width="8.00" height="8.00" fill="#0000a4"/>
<rect x="645.00" y="197.00" width="17.00" height="8.00" fill="#0000a8"/>
<rect x="662.00" y="197.00" width="26.00" height="8.00" fill="#0000a4"/>
<rect x="688.00" y="197.00" width="17.00" height="8.00" fill="#0000a8"/>
<rect x="705.00" y="197.00" width="9.00" height="8.00" fill="#0000ad"/>
<rect x="105.00" y="205.00" width="8.00" height="9.00" fill="#0000e3"/>
<rect x="113.00" y="205.00" width="8.00" height="9.00" fill="#0000df"/>
<rect x="121.00" y="205.00" width="8.00" height="9.00" fill="#0000da"/>
<rect x="129.00" y="205.00" width="9.00" height="9.00" fill="#0000d1"/>
<rect x="138.00" y="205.00" width="8.00" height="9.00" fill="#0000c8"/>
<rect x="146.00" y="205.00" width="9.00" height="9.00" fill="#0000bf"/>
<rect x="155.00" y="205.00" width="8.00" height="9.00" fill="#0000bb"/>
<rect x="163.00" y="205.00" width="9.00" height="9.00" fill="#0000b6"/>
<rect x="172.00" y="205.00" width="8.00" height="9.00" fill="#0000b2"/>
<rect x="180.00" y="205.00" width="9.00" height="9.00" fill="#0000bb"/>
<rect x="189.00" y="205.00" width="8.00" height="9.00" fill="#0000c4"/>
<rect x="197.00" y="205.00" width="9.00" height="9.00" fill="#0000d1"/>
<rect x="206.00" y="205.00" width="8.00" height="9.00" fill="#0000e3"/>
<rect x="214.00" y="205.00" width="8.00" height="9.00" fill="#0000ff"/>
<rect x="222.00" y="205.00" width="9.00" height="9.00" fill="#0018ff"/>
<rect x="231.00" y="205.00" width="8.00" height="9.00" fill="#003cff"/>
<rect x="239.00" y="205.00" width="9.00" height="9.00" fill="#0054ff"/>
<rect x="248.00" y="205.00" width="8.00" height="9.00" fill="#0064ff"/>
<rect x="256.00" y="205.00" width="9.00" height="9.00" fill="#0070ff"/>
<rect x="265.00" y="205.00" width="17.00" height="9.00" fill="#0074ff"/>
<rect x="282.00" y="205.00" width="17.00" height="9.00" fill="#0078ff"/>
<rect x="299.00" y="205.00" width="17.00" height="9.00" fill="#0080ff"/>
<rect x="316.00" y="205.00" width="8.00" height="9.00" fill="#00a8ff"/>
<rect x="324.00" y="205.00" width="8.00" height="9.00" fill="#00e4f8"/>
<rect x="332.00" y="205.00" width="9.00" height="9.00" fill="#49ffad"/>
<rect x="341.00" y="205.00" width="8.00" height="9.00" fill="#77ff80"/>
<rect x="349.00" y="205.00" width="9.00" height="9.00" fill="#b1ff46"/>
<rect x="358.00" y="205.00" width="8.00" height="9.00" fill="#deff19"/>
<rect x="366.00" y="205.00" width="9.00" height="9.00" fill="#ffbd00"/>
<rect x="375.00" y="205.00" width="8.00" height="9.00" fill="#ffb600"/>
<rect x="383.00" y="205.00" width="9.00" height="9.00" fill="#ffa700"/>
<rect x="392.00" y="205.00" width="8.00" height="9.00" fill="#ff9c00"/>
<rect x="400.00" y="205.00" width="9.00" height="9.00" fill="#ff8200"/>
<rect x="409.00" y="205.00" width="8.00" height="9.00" fill="#ff6f00"/>
<rect x="417.00" y="205.00" width="8.00" height="9.00" fill="#ff5900"/>
<rect x="425.00" y="205.00" width="9.00" height="9.00" fill="#ff3000"/>
<rect x="434.00" y="205.00" width="8.00" height="9.00" fill="#e40000"/>
<rect x="442.00" y="205.00" width="9.00" height="9.00" fill="#840000"/>
<rect x="451.00" y="205.00" width="8.00" height="9.00" fill="#800000"/>
<rect x="459.00" y="205.00" width="9.00" height="9.00" fill="#840000"/>
<rect x="468.00" y="205.00" width="8.00" height="9.00" fill="#920000"/>
<rect x="476.00" y="205.00" width="9.00" height="9.00" fill="#ff2500"/>
<rect x="485.00" y="205.00" width="8.00" height="9.00" fill="#ff5200"/>
<rect x="493.00" y="205.00" width="9.00" height="9.00" fill="#ff7a00"/>
<rect x="502.00" y="205.00" width="8.00" height="9.00" fill="#ff9f00"/>
<rect x="510.00" y="205.00" width="8.00" height="9.00" fill="#ffde00"/>
<rect x="518.00" y="205.00" width="9.00" height="9.00" fill="#d4ff23"/>
<rect x="527.00" y="205.00" width="8.00" height="9.00" fill="#a0ff56"/>
<rect x="535.00" y="205.00" width="9.00" height="9.00" fill="#63ff94"/>
<rect x="544.00" y="205.00" width="8.00" height="9.00" fill="#3cffba"/>
<rect x="552.00" y="205.00" width="9.00" height="9.00" fill="#06ecf1"/>
<rect x="561.00" y="205.00" width="8.00" height="9.00" fill="#00a4ff"/>
<rect x="569.00" y="205.00" width="9.00" height="9.00" fill="#0058ff"/>
<rect x="578.00" y="205.00" width="8.00" height="9.00" fill="#0008ff"/>
<rect x="586.00" y="205.00" width="9.00" height="9.00" fill="#0000df"/>
<rect x="595.00" y="205.00" width="8.00" height="9.00" fill="#0000c8"/>
<rect x="603.00" y="205.00" width="17.00" height="9.00" fill="#0000a4"/>
<rect x="620.00" y="205.00" width="8.00" height="9.00" fill="#000096"/>
<rect x="628.00" y="205.00" width="17.00" height="9.00" fill="#00008d"/>
<rect x="645.00" y="205.00" width="43.00" height="9.00" fill="#000092"/>
<rect x="688.00" y="205.00" width="8.00" height="9.00" fill="#00009b"/>
<rect x="696.00" y="205.00" width="18.00" height="9.00" fill="#00009f"/>
<rect x="105.00" y="214.00" width="8.00" height="8.00" fill="#0000df"/>
<rect x="113.00" y="214.00" width="8.00" height="8.00" fill="#0000da"/>
<rect x="121.00" y="214.00" width="8.00" height="8.00" fill="#0000d1"/>
<rect x="129.00" y="214.00" width="9.00" height="8.00" fill="#0000c8"/>
<rect x="138.00" y="214.00" width="8.00" height="8.00" fill="#0000bf"/>
<rect x="146.00" y="214.00" width="9.00" height="8.00" fill="#0000b6"/>
<rect x="155.00" y="214.00" width="8.00" height="8.00" fill="#0000b2"/>
<rect x="163.00" y="214.00" width="17.00" height="8.00" fill="#0000a8"/>
<rect x="180.00" y="214.00" width="9.00" height="8.00" fill="#0000ad"/>
<rect x="189.00" y="214.00" width="8.00" height="8.00" fill="#0000bb"/>
<rect x="197.00" y="214.00" width="9.00" height="8.00" fill="#0000cd"/>
<rect x="206.00" y="214.00" width="8.00" height="8.00" fill="#0000df"/>
<rect x="214.00" y="214.00" width="8.00" height="8.00" fill="#0000fa"/>
<rect x="222.00" y="214.00" width="9.00" height="8.00" fill="#0014ff"/>
<rect x="231.00" y="214.00" width="8.00" height="8.00" fill="#003cff"/>
<rect x="239.00" y="214.00" width="9.00" height="8.00" fill="#0058ff"/>
<rect x="248.00" y="214.00" width="17.00" height="8.00" fill="#0068ff"/>
<rect x="265.00" y="214.00" width="8.00" height="8.00" fill="#006cff"/>
<rect x="273.00" y="214.00" width="9.00" height="8.00" fill="#0068ff"/>
<rect x="282.00" y="214.00" width="8.00" height="8.00" fill="#006cff"/>
<rect x="290.00" y="214.00" width="9.00" height="8.00" fill="#0074ff"/>
<rect x="299.00" y="214.00" width="8.00" height="8.00" fill="#0078ff"/>
<rect x="307.00" y="214.00" width="9.00" height="8.00" fill="#0094ff"/>
<rect x="316.00" y="214.00" width="8.00" height="8.00" fill="#00e0fb"/>
<rect x="324.00" y="214.00" width="8.00" height="8.00" fill="#43ffb4"/>
<rect x="332.00" y="214.00" width="9.00" height="8.00" fill="#9dff5a"/>
<rect x="341.00" y="214.00" width="8.00" height="8.00" fill="#d4ff23"/>
<rect x="349.00" y="214.00" width="9.00" height="8.00" fill="#e4ff13"/>
<rect x="358.00" y="214.00" width="8.00" height="8.00" fill="#deff19"/>
<rect x="366.00" y="214.00" width="9.00" height="8.00" fill="#b7ff40"/>
<rect x="375.00" y="214.00" width="8.00" height="8.00" fill="#b1ff46"/>
<rect x="383.00" y="214.00" width="17.00" height="8.00" fill="#a4ff53"/>
<rect x="400.00" y="214.00" width="9.00" height="8.00" fill="#b1ff46"/>
<rect x="409.00" y="214.00" width="8.00" height="8.00" fill="#a0ff56"/>
<rect x="417.00" y="214.00" width="8.00" height="8.00" fill="#b1ff46"/>
<rect x="425.00" y="214.00" width="9.00" height="8.00" fill="#c1ff36"/>
<rect x="434.00" y="214.00" width="8.00" height="8.00" fill="#deff19"/>
<rect x="442.00" y="214.00" width="9.00" height="8.00" fill="#ffea00"/>
<rect x="451.00" y="214.00" width="8.00" height="8.00" fill="#ffc400"/>
<rect x="459.00" y="214.00" width="9.00" height="8.00" fill="#ff9f00"/>
<rect x="468.00" y="214.00" width="8.00" height="8.00" fill="#ff8d00"/>
<rect x="476.00" y="214.00" width="9.00" height="8.00" fill="#ff5900"/>
<rect x="485.00" y="214.00" width="8.00" height="8.00" fill="#ff7300"/>
<rect x="493.00" y="214.00" width="9.00" height="8.00" fill="#ff9c00"/>
<rect x="502.00" y="214.00" width="8.00" height="8.00" fill="#ffb600"/>
<rect x="510.00" y="214.00" width="8.00" height="8.00" fill="#ffd000"/>
<rect x="518.00" y="214.00" width="9.00" height="8.00" fill="#d4ff23"/>
<rect x="527.00" y="214.00" width="8.00" height="8.00" fill="#9aff5d"/>
<rect x="535.00" y="214.00" width="9.00" height="8.00" fill="#63ff94"/>
<rect x="544.00" y="214.00" width="8.00" height="8.00" fill="#33ffc4"/>
<rect x="552.00" y="214.00" width="9.00" height="8.00" fill="#00dcfe"/>
<rect x="561.00" y="214.00" width="8.00" height="8.00" fill="#0094ff"/>
<rect x="569.00" y="214.00" width="9.00" height="8.00" fill="#0048ff"/>
<rect x="578.00" y="214.00" width="8.00" height="8.00" fill="#0000ff"/>
<rect x="586.00" y="214.00" width="9.00" height="8.00" fill="#0000d6"/>
<rect x="595.00" y="214.00" width="8.00" height="8.00" fill="#0000bb"/>
<rect x="603.00" y="214.00" width="9.00" height="8.00" fill="#00009f"/>
<rect x="612.00" y="214.00" width="8.00" height="8.00" fill="#00009b"/>
<rect x="620.00" y="214.00" width="8.00" height="8.00" fill="#000092"/>
<rect x="628.00" y="214.00" width="9.00" height="8.00" fill="#00008d"/>
<rect x="637.00" y="214.00" width="42.00" height="8.00" fill="#000089"/>
<rect x="679.00" y="214.00" width="9.00" height="8.00" fill="#00008d"/>
<rect x="688.00" y="214.00" width="8.00" height="8.00" fill="#000092"/>
<rect x="696.00" y="214.00" width="18.00" height="8.00" fill="#00009b"/>
<rect x="105.00" y="222.00" width="8.00" height="9.00" fill="#0000d1"/>
<rect x="113.00" y="222.00" width="8.00" height="9.00" fill="#0000c8"/>
<rect x="121.00" y="222.00" width="8.00" height="9.00" fill="#0000bf"/>
<rect x="129.00" y="222.00" width="9.00" height="9.00" fill="#0000b6"/>
<rect x="138.00" y="222.00" width="8.00" height="9.00" fill="#0000b2"/>
<rect x="146.00" y="222.00" width="9.00" height="9.00" fill="#0000ad"/>
<rect x="155.00" y="222.00" width="8.00" height="9.00" fill="#0000a4"/>
<rect x="163.00" y="222.00" width="17.00" height="9.00" fill="#00009f"/>
<rect x="180.00" y="222.00" width="9.00" height="9.00" fill="#0000a4"/>
<rect x="189.00" y="222.00" width="8.00" height="9.00" fill="#0000b2"/>
<rect x="197.00" y="222.00" width="9.00" height="9.00" fill="#0000c4"/>
<rect x="206.00" y="222.00" width="8.00" height="9.00" fill="#0000d6"/>
<rect x="214.00" y="222.00" width="8.00" height="9.00" fill="#0000fa"/>
<rect x="222.00" y="222.00" width="9.00" height="9.00" fill="#0018ff"/>
<rect x="231.00" y="222.00" width="8.00" height="9.00" fill="#0048ff"/>
<rect x="239.00" y="222.00" width="9.00" height="9.00" fill="#0068ff"/>
<rect x="248.00" y="222.00" width="25.00" height="9.00" fill="#0078ff"/>
<rect x="273.00" y="222.00" width="9.00" height="9.00" fill="#0080ff"/>
<rect x="282.00" y="222.00" width="8.00" height="9.00" fill="#008cff"/>
<rect x="290.00" y="222.00" width="9.00" height="9.00" fill="#009cff"/>
<rect x="299.00" y="222.00" width="8.00" height="9.00" fill="#00b8ff"/>
<rect x="307.00" y="222.00" width="9.00" height="9.00" fill="#00dcfe"/>
<rect x="316.00" y="222.00" width="8.00" height="9.00" fill="#49ffad"/>
<rect x="324.00" y="222.00" width="8.00" height="9.00" fill="#8dff6a"/>
<rect x="332.00" y="222.00" width="17.00" height="9.00" fill="#b7ff40"/>
<rect x="349.00" y="222.00" width="9.00" height="9.00" fill="#8dff6a"/>
<rect x="358.00" y="222.00" width="8.00" height="9.00" fill="#63ff94"/>
<rect x="366.00" y="222.00" width="9.00" height="9.00" fill="#43ffb4"/>
<rect x="375.00" y="222.00" width="8.00" height="9.00" fill="#3cffba"/>
<rect x="383.00" y="222.00" width="26.00" height="9.00" fill="#33ffc4"/>
<rect x="409.00" y="222.00" width="8.00" height="9.00" fill="#36ffc1"/>
<rect x="417.00" y="222.00" width="17.00" height="9.00" fill="#33ffc4"/>
<rect x="434.00" y="222.00" width="8.00" height="9.00" fill="#5dff9a"/>
<rect x="442.00" y="222.00" width="9.00" height="9.00" fill="#a4ff53"/>
<rect x="451.00" y="222.00" width="8.00" height="9.00" fill="#b7ff40"/>
<rect x="459.00" y="222.00" width="9.00" height="9.00" fill="#b1ff46"/>
<rect x="468.00" y="222.00" width="8.00" height="9.00" fill="#a4ff53"/>
<rect x="476.00" y="222.00" width="9.00" height="9.00" fill="#9aff5d"/>
<rect x="485.00" y="222.00" width="8.00" height="9.00" fill="#8dff6a"/>
<rect x="493.00" y="222.00" width="9.00" height="9.00" fill="#8aff6d"/>
<rect x="502.00" y="222.00" width="8.00" height="9.00" fill="#83ff73"/>
<rect x="510.00" y="222.00" width="8.00" height="9.00" fill="#7dff7a"/>
<rect x="518.00" y="222.00" width="9.00" height="9.00" fill="#70ff87"/>
<rect x="527.00" y="222.00" width="8.00" height="9.00" fill="#5dff9a"/>
<rect x="535.00" y="222.00" width="9.00" height="9.00" fill="#43ffb4"/>
<rect x="544.00" y="222.00" width="8.00" height="9.00" fill="#1fffd7"/>
<rect x="552.00" y="222.00" width="9.00" height="9.00" fill="#00d4ff"/>
<rect x="561.00" y="222.00" width="8.00" height="9.00" fill="#0094ff"/>
<rect x="569.00" y="222.00" width="9.00" height="9.00" fill="#0054ff"/>
<rect x="578.00" y="222.00" width="8.00" height="9.00" fill="#001cff"/>
<rect x="586.00" y="222.00" width="9.00" height="9.00" fill="#0000ed"/>
<rect x="595.00" y="222.00" width="8.00" height="9.00" fill="#0000c4"/>
<rect x="603.00" y="222.00" width="9.00" height="9.00" fill="#0000a8"/>
<rect x="612.00" y="222.00" width="8.00" height="9.00" fill="#0000b2"/>
<rect x="620.00" y="222.00" width="8.00" height="9.00" fill="#00009f"/>
<rect x="628.00" y="222.00" width="9.00" height="9.00" fill="#000096"/>
<rect x="637.00" y="222.00" width="17.00" height="9.00" fill="#00008d"/>
<rect x="654.00" y="222.00" width="17.00" height="9.00" fill="#000089"/>
<rect x="671.00" y="222.00" width="8.00" height="9.00" fill="#00008d"/>
<rect x="679.00" y="222.00" width="9.00" height="9.00" fill="#000092"/>
<rect x="688.00" y="222.00" width="8.00" height="9.00" fill="#000096"/>
<rect x="696.00" y="222.00" width="9.00" height="9.00" fill="#00009b"/>
<rect x="705.00" y="222.00" width="9.00" height="9.00" fill="#00009f"/>
<rect x="105.00" y="231.00" width="8.00" height="8.00" fill="#0000c4"/>
<rect x="113.00" y="231.00" width="8.00" height="8.00" fill="#0000bb"/>
<rect x="121.00" y="231.00" width="8.00" height="8.00" fill="#0000ad"/>
<rect x="129.00" y="231.00" width="9.00" height="8.00" fill="#0000a8"/>
<rect x="138.00" y="231.00" width="8.00" height="8.00" fill="#0000a4"/>
<rect x="146.00" y="231.00" width="9.00" height="8.00" fill="#00009f"/>
<rect x="155.00" y="231.00" width="8.00" height="8.00" fill="#00009b"/>
<rect x="163.00" y="231.00" width="17.00" height="8.00" fill="#000096"/>
<rect x="180.00" y="231.00" width="9.00" height="8.00" fill="#00009f"/>
<rect x="189.00" y="231.00" width="8.00" height="8.00" fill="#0000ad"/>
<rect x="197.00" y="231.00" width="9.00" height="8.00" fill="#0000bf"/>
<rect x="206.00" y="231.00" width="8.00" height="8.00" fill="#0000cd"/>
<rect x="214.00" y="231.00" width="8.00" height="8.00" fill="#0000f6"/>
<rect x="222.00" y="231.00" width="9.00" height="8.00" fill="#0020ff"/>
<rect x="231.00" y="231.00" width="8.00" height="8.00" fill="#005cff"/>
<rect x="239.00" y="231.00" width="9.00" height="8.00" fill="#0080ff"/>
<rect x="248.00" y="231.00" width="8.00" height="8.00" fill="#0094ff"/>
<rect x="256.00" y="231.00" width="17.00" height="8.00" fill="#00a4ff"/>
<rect x="273.00" y="231.00" width="9.00" height="8.00" fill="#00a8ff"/>
<rect x="282.00" y="231.00" width="8.00" height="8.00" fill="#00c0ff"/>
<rect x="290.00" y="231.00" width="9.00" height="8.00" fill="#00d4ff"/>
<rect x="299.00" y="231.00" width="8.00" height="8.00" fill="#16ffe1"/>
<rect x="307.00" y="231.00" width="9.00" height="8.00" fill="#33ffc4"/>
<rect x="316.00" y="231.00" width="8.00" height="8.00" fill="#77ff80"/>
<rect x="324.00" y="231.00" width="8.00" height="8.00" fill="#8dff6a"/>
<rect x="332.00" y="231.00" width="9.00" height="8.00" fill="#7dff7a"/>
<rect x="341.00" y="231.00" width="8.00" height="8.00" fill="#53ffa4"/>
<rect x="349.00" y="231.00" width="9.00" height="8.00" fill="#3cffba"/>
<rect x="358.00" y="231.00" width="8.00" height="8.00" fill="#43ffb4"/>
<rect x="366.00" y="231.00" width="9.00" height="8.00" fill="#63ff94"/>
<rect x="375.00" y="231.00" width="8.00" height="8.00" fill="#7dff7a"/>
<rect x="383.00" y="231.00" width="9.00" height="8.00" fill="#8dff6a"/>
<rect x="392.00" y="231.00" width="8.00" height="8.00" fill="#a4ff53"/>
<rect x="400.00" y="231.00" width="17.00" height="8.00" fill="#b1ff46"/>
<rect x="417.00" y="231.00" width="8.00" height="8.00" fill="#c1ff36"/>
<rect x="425.00" y="231.00" width="9.00" height="8.00" fill="#d7ff1f"/>
<rect x="434.00" y="231.00" width="8.00" height="8.00" fill="#ebff0c"/>
<rect x="442.00" y="231.00" width="9.00" height="8.00" fill="#f4f802"/>
<rect x="451.00" y="231.00" width="8.00" height="8.00" fill="#ebff0c"/>
<rect x="459.00" y="231.00" width="9.00" height="8.00" fill="#d4ff23"/>
<rect x="468.00" y="231.00" width="8.00" height="8.00" fill="#b7ff40"/>
<rect x="476.00" y="231.00" width="9.00" height="8.00" fill="#a0ff56"/>
<rect x="485.00" y="231.00" width="8.00" height="8.00" fill="#8aff6d"/>
<rect x="493.00" y="231.00" width="9.00" height="8.00" fill="#7dff7a"/>
<rect x="502.00" y="231.00" width="8.00" height="8.00" fill="#70ff87"/>
<rect x="510.00" y="231.00" width="8.00" height="8.00" fill="#5dff9a"/>
<rect x="518.00" y="231.00" width="9.00" height="8.00" fill="#4dffaa"/>
<rect x="527.00" y="231.00" width="8.00" height="8.00" fill="#3cffba"/>
<rect x="535.00" y="231.00" width="9.00" height="8.00" fill="#26ffd1"/>
<rect x="544.00" y="231.00" width="8.00" height="8.00" fill="#06ecf1"/>
<rect x="552.00" y="231.00" width="9.00" height="8.00" fill="#00c0ff"/>
<rect x="561.00" y="231.00" width="8.00" height="8.00" fill="#008cff"/>
<rect x="569.00" y="231.00" width="9.00" height="8.00" fill="#0058ff"/>
<rect x="578.00" y="231.00" width="8.00" height="8.00" fill="#0028ff"/>
<rect x="586.00" y="231.00" width="9.00" height="8.00" fill="#0000ff"/>
<rect x="595.00" y="231.00" width="8.00" height="8.00" fill="#0000d6"/>
<rect x="603.00" y="231.00" width="9.00" height="8.00" fill="#0000bb"/>
<rect x="612.00" y="231.00" width="8.00" height="8.00" fill="#0000b2"/>
<rect x="620.00" y="231.00" width="8.00" height="8.00" fill="#0000a8"/>
<rect x="628.00" y="231.00" width="9.00" height="8.00" fill="#00009f"/>
<rect x="637.00" y="231.00" width="8.00" height="8.00" fill="#000096"/>
<rect x="645.00" y="231.00" width="34.00" height="8.00" fill="#000092"/>
<rect x="679.00" y="231.00" width="9.00" height="8.00" fill="#000096"/>
<rect x="688.00" y="231.00" width="8.00" height="8.00" fill="#00009b"/>
<rect x="696.00" y="231.00" width="9.00" height="8.00" fill="#0000a4"/>
<rect x="705.00" y="231.00" width="9.00" height="8.00" fill="#0000a8"/>
<rect x="105.00" y="239.00" width="8.00" height="9.00" fill="#0000b6"/>
<rect x="113.00" y="239.00" width="8.00" height="9.00" fill="#0000ad"/>
<rect x="121.00" y="239.00" width="8.00" height="9.00" fill="#00009f"/>
<rect x="129.00" y="239.00" width="26.00" height="9.00" fill="#000096"/>
<rect x="155.00" y="239.00" width="25.00" height="9.00" fill="#000092"/>
<rect x="180.00" y="239.00" width="9.00" height="9.00" fill="#000096"/>
<rect x="189.00" y="239.00" width="8.00" height="9.00" fill="#0000a8"/>
<rect x="197.00" y="239.00" width="9.00" height="9.00" fill="#0000bb"/>
<rect x="206.00" y="239.00" width="8.00" height="9.00" fill="#0000c8"/>
<rect x="214.00" y="239.00" width="8.00" height="9.00" fill="#0000f1"/>
<rect x="222.00" y="239.00" width="9.00" height="9.00" fill="#0028ff"/>
<rect x="231.00" y="239.00" width="8.00" height="9.00" fill="#006cff"/>
<rect x="239.00" y="239.00" width="9.00" height="9.00" fill="#0090ff"/>
<rect x="248.00" y="239.00" width="8.00" height="9.00" fill="#00a8ff"/>
<rect x="256.00" y="239.00" width="9.00" height="9.00" fill="#00c0ff"/>
<rect x="265.00" y="239.00" width="8.00" height="9.00" fill="#00c4ff"/>
<rect x="273.00" y="239.00" width="9.00" height="9.00" fill="#00d4ff"/>
<rect x="282.00" y="239.00" width="8.00" height="9.00" fill="#06ecf1"/>
<rect x="290.00" y="239.00" width="9.00" height="9.00" fill="#26ffd1"/>
<rect x="299.00" y="239.00" width="8.00" height="9.00" fill="#3cffba"/>
<rect x="307.00" y="239.00" width="9.00" height="9.00" fill="#26ffd1"/>
<rect x="316.00" y="239.00" width="16.00" height="9.00" fill="#3cffba"/>
<rect x="332.00" y="239.00" width="9.00" height="9.00" fill="#33ffc4"/>
<rect x="341.00" y="239.00" width="8.00" height="9.00" fill="#3cffba"/>
<rect x="349.00" y="239.00" width="9.00" height="9.00" fill="#63ff94"/>
<rect x="358.00" y="239.00" width="8.00" height="9.00" fill="#9dff5a"/>
<rect x="366.00" y="239.00" width="9.00" height="9.00" fill="#b1ff46"/>
<rect x="375.00" y="239.00" width="8.00" height="9.00" fill="#b7ff40"/>
<rect x="383.00" y="239.00" width="9.00" height="9.00" fill="#baff3c"/>
<rect x="392.00" y="239.00" width="8.00" height="9.00" fill="#c1ff36"/>
<rect x="400.00" y="239.00" width="17.00" height="9.00" fill="#c7ff30"/>
<rect x="417.00" y="239.00" width="8.00" height="9.00" fill="#d4ff23"/>
<rect x="425.00" y="239.00" width="9.00" height="9.00" fill="#deff19"/>
<rect x="434.00" y="239.00" width="8.00" height="9.00" fill="#ebff0c"/>
<rect x="442.00" y="239.00" width="9.00" height="9.00" fill="#eeff09"/>
<rect x="451.00" y="239.00" width="8.00" height="9.00" fill="#e4ff13"/>
<rect x="459.00" y="239.00" width="9.00" height="9.00" fill="#d4ff23"/>
<rect x="468.00" y="239.00" width="8.00" height="9.00" fill="#b7ff40"/>
<rect x="476.00" y="239.00" width="9.00" height="9.00" fill="#94ff63"/>
<rect x="485.00" y="239.00" width="8.00" height="9.00" fill="#63ff94"/>
<rect x="493.00" y="239.00" width="9.00" height="9.00" fill="#36ffc1"/>
<rect x="502.00" y="239.00" width="8.00" height="9.00" fill="#1fffd7"/>
<rect x="510.00" y="239.00" width="8.00" height="9.00" fill="#16ffe1"/>
<rect x="518.00" y="239.00" width="9.00" height="9.00" fill="#00e4f8"/>
<rect x="527.00" y="239.00" width="8.00" height="9.00" fill="#00c8ff"/>
<rect x="535.00" y="239.00" width="9.00" height="9.00" fill="#009cff"/>
<rect x="544.00" y="239.00" width="8.00" height="9.00" fill="#0080ff"/>
<rect x="552.00" y="239.00" width="9.00" height="9.00" fill="#0060ff"/>
<rect x="561.00" y="239.00" width="8.00" height="9.00" fill="#0048ff"/>
<rect x="569.00" y="239.00" width="9.00" height="9.00" fill="#002cff"/>
<rect x="578.00" y="239.00" width="8.00" height="9.00" fill="#0010ff"/>
<rect x="586.00" y="239.00" width="9.00" height="9.00" fill="#0000ff"/>
<rect x="595.00" y="239.00" width="8.00" height="9.00" fill="#0000df"/>
<rect x="603.00" y="239.00" width="9.00" height="9.00" fill="#0000c8"/>
<rect x="612.00" y="239.00" width="8.00" height="9.00" fill="#0000bb"/>
<rect x="620.00" y="239.00" width="8.00" height="9.00" fill="#0000b2"/>
<rect x="628.00" y="239.00" width="9.00" height="9.00" fill="#0000a8"/>
<rect x="637.00" y="239.00" width="8.00" height="9.00" fill="#00009f"/>
<rect x="645.00" y="239.00" width="26.00" height="9.00" fill="#00009b"/>
<rect x="671.00" y="239.00" width="8.00" height="9.00" fill="#00009f"/>
<rect x="679.00" y="239.00" width="9.00" height="9.00" fill="#0000a4"/>
<rect x="688.00" y="239.00" width="8.00" height="9.00" fill="#0000a8"/>
<rect x="696.00" y="239.00" width="9.00" height="9.00" fill="#0000ad"/>
<rect x="705.00" y="239.00" width="9.00" height="9.00" fill="#0000b2"/>
<rect x="105.00" y="248.00" width="8.00" height="8.00" fill="#0000a8"/>
<rect x="113.00" y="248.00" width="8.00" height="8.00" fill="#00009f"/>
<rect x="121.00" y="248.00" width="8.00" height="8.00" fill="#000092"/>
<rect x="129.00" y="248.00" width="17.00" height="8.00" fill="#00008d"/>
<rect x="146.00" y="248.00" width="34.00" height="8.00" fill="#000089"/>
<rect x="180.00" y="248.00" width="9.00" height="8.00" fill="#000092"/>
<rect x="189.00" y="248.00" width="8.00" height="8.00" fill="#00009f"/>
<rect x="197.00" y="248.00" width="9.00" height="8.00" fill="#0000b2"/>
<rect x="206.00" y="248.00" width="8.00" height="8.00" fill="#0000bf"/>
<rect x="214.00" y="248.00" width="8.00" height="8.00" fill="#0000ed"/>
<rect x="222.00" y="248.00" width="9.00" height="8.00" fill="#0024ff"/>
<rect x="231.00" y="248.00" width="8.00" height="8.00" fill="#0064ff"/>
<rect x="239.00" y="248.00" width="9.00" height="8.00" fill="#0094ff"/>
<rect x="248.00" y="248.00" width="8.00" height="8.00" fill="#00acff"/>
<rect x="256.00" y="248.00" width="9.00" height="8.00" fill="#00b0ff"/>
<rect x="265.00" y="248.00" width="8.00" height="8.00" fill="#00b8ff"/>
<rect x="273.00" y="248.00" width="9.00" height="8.00" fill="#00c8ff"/>
<rect x="282.00" y="248.00" width="8.00" height="8.00" fill="#00e0fb"/>
<rect x="290.00" y="248.00" width="9.00" height="8.00" fill="#16ffe1"/>
<rect x="299.00" y="248.00" width="8.00" height="8.00" fill="#26ffd1"/>
<rect x="307.00" y="248.00" width="9.00" height="8.00" fill="#1cffdb"/>
<rect x="316.00" y="248.00" width="8.00" height="8.00" fill="#0ff8e7"/>
<rect x="324.00" y="248.00" width="8.00" height="8.00" fill="#0cf4eb"/>
<rect x="332.00" y="248.00" width="9.00" height="8.00" fill="#1fffd7"/>
<rect x="341.00" y="248.00" width="8.00" height="8.00" fill="#43ffb4"/>
<rect x="349.00" y="248.00" width="9.00" height="8.00" fill="#63ff94"/>
<rect x="358.00" y="248.00" width="8.00" height="8.00" fill="#87ff70"/>
<rect x="366.00" y="248.00" width="9.00" height="8.00" fill="#8dff6a"/>
<rect x="375.00" y="248.00" width="8.00" height="8.00" fill="#87ff70"/>
<rect x="383.00" y="248.00" width="9.00" height="8.00" fill="#7dff7a"/>
<rect x="392.00" y="248.00" width="17.00" height="8.00" fill="#77ff80"/>
<rect x="409.00" y="248.00" width="8.00" height="8.00" fill="#7dff7a"/>
<rect x="417.00" y="248.00" width="8.00" height="8.00" fill="#77ff80"/>
<rect x="425.00" y="248.00" width="9.00" height="8.00" fill="#6dff8a"/>
<rect x="434.00" y="248.00" width="8.00" height="8.00" fill="#53ffa4"/>
<rect x="442.00" y="248.00" width="17.00" height="8.00" fill="#49ffad"/>
<rect x="459.00" y="248.00" width="9.00" height="8.00" fill="#3cffba"/>
<rect x="468.00" y="248.00" width="8.00" height="8.00" fill="#33ffc4"/>
<rect x="476.00" y="248.00" width="9.00" height="8.00" fill="#1fffd7"/>
<rect x="485.00" y="248.00" width="8.00" height="8.00" fill="#06ecf1"/>
<rect x="493.00" y="248.00" width="9.00" height="8.00" fill="#00c0ff"/>
<rect x="502.00" y="248.00" width="8.00" height="8.00" fill="#0094ff"/>
<rect x="510.00" y="248.00" width="8.00" height="8.00" fill="#006cff"/>
<rect x="518.00" y="248.00" width="9.00" height="8.00" fill="#0058ff"/>
<rect x="527.00" y="248.00" width="8.00" height="8.00" fill="#0040ff"/>
<rect x="535.00" y="248.00" width="9.00" height="8.00" fill="#002cff"/>
<rect x="544.00" y="248.00" width="8.00" height="8.00" fill="#0014ff"/>
<rect x="552.00" y="248.00" width="9.00" height="8.00" fill="#0000ff"/>
<rect x="561.00" y="248.00" width="8.00" height="8.00" fill="#0000fa"/>
<rect x="569.00" y="248.00" width="9.00" height="8.00" fill="#0000ed"/>
<rect x="578.00" y="248.00" width="8.00" height="8.00" fill="#0000e8"/>
<rect x="586.00" y="248.00" width="9.00" height="8.00" fill="#0000e3"/>
<rect x="595.00" y="248.00" width="8.00" height="8.00" fill="#0000d6"/>
<rect x="603.00" y="248.00" width="9.00" height="8.00" fill="#0000cd"/>
<rect x="612.00" y="248.00" width="8.00" height="8.00" fill="#0000bf"/>
<rect x="620.00" y="248.00" width="8.00" height="8.00" fill="#0000b6"/>
<rect x="628.00" y="248.00" width="9.00" height="8.00" fill="#0000b2"/>
<rect x="637.00" y="248.00" width="8.00" height="8.00" fill="#0000ad"/>
<rect x="645.00" y="248.00" width="9.00" height="8.00" fill="#0000a8"/>
<rect x="654.00" y="248.00" width="17.00" height="8.00" fill="#0000a4"/>
<rect x="671.00" y="248.00" width="17.00" height="8.00" fill="#0000a8"/>
<rect x="688.00" y="248.00" width="8.00" height="8.00" fill="#0000ad"/>
<rect x="696.00" y="248.00" width="9.00" height="8.00" fill="#0000b2"/>
<rect x="705.00" y="248.00" width="9.00" height="8.00" fill="#0000b6"/>
<rect x="105.00" y="256.00" width="8.00" height="8.00" fill="#00009f"/>
<rect x="113.00" y="256.00" width="8.00" height="8.00" fill="#000096"/>
<rect x="121.00" y="256.00" width="8.00" height="8.00" fill="#00008d"/>
<rect x="129.00" y="256.00" width="26.00" height="8.00" fill="#000089"/>
<rect x="155.00" y="256.00" width="17.00" height="8.00" fill="#000084"/>
<rect x="172.00" y="256.00" width="8.00" height="8.00" fill="#000089"/>
<rect x="180.00" y="256.00" width="9.00" height="8.00" fill="#00008d"/>
<rect x="189.00" y="256.00" width="8.00" height="8.00" fill="#00009b"/>
<rect x="197.00" y="256.00" width="9.00" height="8.00" fill="#0000ad"/>
<rect x="206.00" y="256.00" width="8.00" height="8.00" fill="#0000bf"/>
<rect x="214.00" y="256.00" width="8.00" height="8.00" fill="#0000ed"/>
<rect x="222.00" y="256.00" width="9.00" height="8.00" fill="#0018ff"/>
<rect x="231.00" y="256.00" width="8.00" height="8.00" fill="#0058ff"/>
<rect x="239.00" y="256.00" width="9.00" height="8.00" fill="#008cff"/>
<rect x="248.00" y="256.00" width="8.00" height="8.00" fill="#00acff"/>
<rect x="256.00" y="256.00" width="9.00" height="8.00" fill="#00c4ff"/>
<rect x="265.00" y="256.00" width="8.00" height="8.00" fill="#00ccff"/>
<rect x="273.00" y="256.00" width="9.00" height="8.00" fill="#00d4ff"/>
<rect x="282.00" y="256.00" width="25.00" height="8.00" fill="#00dcfe"/>
<rect x="307.00" y="256.00" width="9.00" height="8.00" fill="#00d8ff"/>
<rect x="316.00" y="256.00" width="8.00" height="8.00" fill="#3cffba"/>
<rect x="324.00" y="256.00" width="8.00" height="8.00" fill="#53ffa4"/>
<rect x="332.00" y="256.00" width="17.00" height="8.00" fill="#63ff94"/>
<rect x="349.00" y="256.00" width="9.00" height="8.00" fill="#4dffaa"/>
<rect x="358.00" y="256.00" width="8.00" height="8.00" fill="#0ff8e7"/>
<rect x="366.00" y="256.00" width="9.00" height="8.00" fill="#00d8ff"/>
<rect x="375.00" y="256.00" width="8.00" height="8.00" fill="#00c8ff"/>
<rect x="383.00" y="256.00" width="9.00" height="8.00" fill="#00c0ff"/>
<rect x="392.00" y="256.00" width="42.00" height="8.00" fill="#00b8ff"/>
<rect x="434.00" y="256.00" width="8.00" height="8.00" fill="#00b0ff"/>
<rect x="442.00" y="256.00" width="9.00" height="8.00" fill="#00acff"/>
<rect x="451.00" y="256.00" width="8.00" height="8.00" fill="#00a4ff"/>
<rect x="459.00" y="256.00" width="9.00" height="8.00" fill="#009cff"/>
<rect x="468.00" y="256.00" width="8.00" height="8.00" fill="#008cff"/>
<rect x="476.00" y="256.00" width="9.00" height="8.00" fill="#0058ff"/>
<rect x="485.00" y="256.00" width="8.00" height="8.00" fill="#0034ff"/>
<rect x="493.00" y="256.00" width="9.00" height="8.00" fill="#0018ff"/>
<rect x="502.00" y="256.00" width="16.00" height="8.00" fill="#0000ff"/>
<rect x="518.00" y="256.00" width="9.00" height="8.00" fill="#0000fa"/>
<rect x="527.00" y="256.00" width="8.00" height="8.00" fill="#0000f1"/>
<rect x="535.00" y="256.00" width="9.00" height="8.00" fill="#0000ed"/>
<rect x="544.00" y="256.00" width="8.00" height="8.00" fill="#0000e3"/>
<rect x="552.00" y="256.00" width="9.00" height="8.00" fill="#0000df"/>
<rect x="561.00" y="256.00" width="8.00" height="8.00" fill="#0000e3"/>
<rect x="569.00" y="256.00" width="9.00" height="8.00" fill="#0000da"/>
<rect x="578.00" y="256.00" width="8.00" height="8.00" fill="#0000d6"/>
<rect x="586.00" y="256.00" width="9.00" height="8.00" fill="#0000d1"/>
<rect x="595.00" y="256.00" width="8.00" height="8.00" fill="#0000cd"/>
<rect x="603.00" y="256.00" width="9.00" height="8.00" fill="#0000c8"/>
<rect x="612.00" y="256.00" width="8.00" height="8.00" fill="#0000bf"/>
<rect x="620.00" y="256.00" width="8.00" height="8.00" fill="#0000bb"/>
<rect x="628.00" y="256.00" width="9.00" height="8.00" fill="#0000b6"/>
<rect x="637.00" y="256.00" width="8.00" height="8.00" fill="#0000b2"/>
<rect x="645.00" y="256.00" width="17.00" height="8.00" fill="#0000ad"/>
<rect x="662.00" y="256.00" width="34.00" height="8.00" fill="#0000a8"/>
<rect x="696.00" y="256.00" width="18.00" height="8.00" fill="#0000ad"/>
<rect x="105.00" y="264.00" width="8.00" height="9.00" fill="#0000a4"/>
<rect x="113.00" y="264.00" width="8.00" height="9.00" fill="#00009f"/>
<rect x="121.00" y="264.00" width="8.00" height="9.00" fill="#000096"/>
<rect x="129.00" y="264.00" width="17.00" height="9.00" fill="#000092"/>
<rect x="146.00" y="264.00" width="34.00" height="9.00" fill="#00008d"/>
<rect x="180.00" y="264.00" width="9.00" height="9.00" fill="#000092"/>
<rect x="189.00" y="264.00" width="8.00" height="9.00" fill="#00009f"/>
<rect x="197.00" y="264.00" width="9.00" height="9.00" fill="#0000b2"/>
<rect x="206.00" y="264.00" width="8.00" height="9.00" fill="#0000c4"/>
<rect x="214.00" y="264.00" width="8.00" height="9.00" fill="#0000e8"/>
<rect x="222.00" y="264.00" width="9.00" height="9.00" fill="#0008ff"/>
<rect x="231.00" y="264.00" width="8.00" height="9.00" fill="#0040ff"/>
<rect x="239.00" y="264.00" width="9.00" height="9.00" fill="#0074ff"/>
<rect x="248.00" y="264.00" width="8.00" height="9.00" fill="#00b8ff"/>
<rect x="256.00" y="264.00" width="9.00" height="9.00" fill="#00c8ff"/>
<rect x="265.00" y="264.00" width="8.00" height="9.00" fill="#00d4ff"/>
<rect x="273.00" y="264.00" width="9.00" height="9.00" fill="#00dcfe"/>
<rect x="282.00" y="264.00" width="8.00" height="9.00" fill="#00d8ff"/>
<rect x="290.00" y="264.00" width="9.00" height="9.00" fill="#00d0ff"/>
<rect x="299.00" y="264.00" width="8.00" height="9.00" fill="#00c8ff"/>
<rect x="307.00" y="264.00" width="9.00" height="9.00" fill="#00d0ff"/>
<rect x="316.00" y="264.00" width="8.00" height="9.00" fill="#2cffca"/>
<rect x="324.00" y="264.00" width="17.00" height="9.00" fill="#33ffc4"/>
<rect x="341.00" y="264.00" width="8.00" height="9.00" fill="#1fffd7"/>
<rect x="349.00" y="264.00" width="9.00" height="9.00" fill="#00c4ff"/>
<rect x="358.00" y="264.00" width="17.00" height="9.00" fill="#009cff"/>
<rect x="375.00" y="264.00" width="17.00" height="9.00" fill="#0094ff"/>
<rect x="392.00" y="264.00" width="8.00" height="9.00" fill="#0098ff"/>
<rect x="400.00" y="264.00" width="25.00" height="9.00" fill="#009cff"/>
<rect x="425.00" y="264.00" width="9.00" height="9.00" fill="#0098ff"/>
<rect x="434.00" y="264.00" width="8.00" height="9.00" fill="#0094ff"/>
<rect x="442.00" y="264.00" width="9.00" height="9.00" fill="#0088ff"/>
<rect x="451.00" y="264.00" width="8.00" height="9.00" fill="#0078ff"/>
<rect x="459.00" y="264.00" width="9.00" height="9.00" fill="#0064ff"/>
<rect x="468.00" y="264.00" width="8.00" height="9.00" fill="#0048ff"/>
<rect x="476.00" y="264.00" width="9.00" height="9.00" fill="#002cff"/>
<rect x="485.00" y="264.00" width="8.00" height="9.00" fill="#0014ff"/>
<rect x="493.00" y="264.00" width="17.00" height="9.00" fill="#0000ff"/>
<rect x="510.00" y="264.00" width="8.00" height="9.00" fill="#0008ff"/>
<rect x="518.00" y="264.00" width="9.00" height="9.00" fill="#0000ff"/>
<rect x="527.00" y="264.00" width="8.00" height="9.00" fill="#0000f6"/>
<rect x="535.00" y="264.00" width="9.00" height="9.00" fill="#0000e8"/>
<rect x="544.00" y="264.00" width="8.00" height="9.00" fill="#0000e3"/>
<rect x="552.00" y="264.00" width="9.00" height="9.00" fill="#0000da"/>
<rect x="561.00" y="264.00" width="8.00" height="9.00" fill="#0000d6"/>
<rect x="569.00" y="264.00" width="9.00" height="9.00" fill="#0000d1"/>
<rect x="578.00" y="264.00" width="8.00" height="9.00" fill="#0000cd"/>
<rect x="586.00" y="264.00" width="17.00" height="9.00" fill="#0000c8"/>
<rect x="603.00" y="264.00" width="9.00" height="9.00" fill="#0000bf"/>
<rect x="612.00" y="264.00" width="8.00" height="9.00" fill="#0000bb"/>
<rect x="620.00" y="264.00" width="8.00" height="9.00" fill="#0000b6"/>
<rect x="628.00" y="264.00" width="17.00" height="9.00" fill="#0000b2"/>
<rect x="645.00" y="264.00" width="9.00" height="9.00" fill="#0000ad"/>
<rect x="654.00" y="264.00" width="25.00" height="9.00" fill="#0000a8"/>
<rect x="679.00" y="264.00" width="35.00" height="9.00" fill="#0000a4"/>
<rect x="105.00" y="273.00" width="8.00" height="8.00" fill="#0000ad"/>
<rect x="113.00" y="273.00" width="8.00" height="8.00" fill="#0000a8"/>
<rect x="121.00" y="273.00" width="8.00" height="8.00" fill="#0000a4"/>
<rect x="129.00" y="273.00" width="9.00" height="8.00" fill="#00009f"/>
<rect x="138.00" y="273.00" width="17.00" height="8.00" fill="#00009b"/>
<rect x="155.00" y="273.00" width="17.00" height="8.00" fill="#000096"/>
<rect x="172.00" y="273.00" width="8.00" height="8.00" fill="#00009b"/>
<rect x="180.00" y="273.00" width="9.00" height="8.00" fill="#00009f"/>
<rect x="189.00" y="273.00" width="8.00" height="8.00" fill="#0000a8"/>
<rect x="197.00" y="273.00" width="9.00" height="8.00" fill="#0000b6"/>
<rect x="206.00" y="273.00" width="8.00" height="8.00" fill="#0000c8"/>
<rect x="214.00" y="273.00" width="8.00" height="8.00" fill="#0000e3"/>
<rect x="222.00" y="273.00" width="9.00" height="8.00" fill="#0000ff"/>
<rect x="231.00" y="273.00" width="8.00" height="8.00" fill="#001cff"/>
<rect x="239.00" y="273.00" width="9.00" height="8.00" fill="#0040ff"/>
<rect x="248.00" y="273.00" width="8.00" height="8.00" fill="#0064ff"/>
<rect x="256.00" y="273.00" width="9.00" height="8.00" fill="#007cff"/>
<rect x="265.00" y="273.00" width="8.00" height="8.00" fill="#0090ff"/>
<rect x="273.00" y="273.00" width="9.00" height="8.00" fill="#00a0ff"/>
<rect x="282.00" y="273.00" width="8.00" height="8.00" fill="#00b4ff"/>
<rect x="290.00" y="273.00" width="9.00" height="8.00" fill="#00ccff"/>
<rect x="299.00" y="273.00" width="8.00" height="8.00" fill="#00c0ff"/>
<rect x="307.00" y="273.00" width="9.00" height="8.00" fill="#0094ff"/>
<rect x="316.00" y="273.00" width="16.00" height="8.00" fill="#00a0ff"/>
<rect x="332.00" y="273.00" width="9.00" height="8.00" fill="#0094ff"/>
<rect x="341.00" y="273.00" width="8.00" height="8.00" fill="#007cff"/>
<rect x="349.00" y="273.00" width="9.00" height="8.00" fill="#0078ff"/>
<rect x="358.00" y="273.00" width="17.00" height="8.00" fill="#0070ff"/>
<rect x="375.00" y="273.00" width="8.00" height="8.00" fill="#0078ff"/>
<rect x="383.00" y="273.00" width="9.00" height="8.00" fill="#0080ff"/>
<rect x="392.00" y="273.00" width="8.00" height="8.00" fill="#0088ff"/>
<rect x="400.00" y="273.00" width="25.00" height="8.00" fill="#0090ff"/>
<rect x="425.00" y="273.00" width="9.00" height="8.00" fill="#008cff"/>
<rect x="434.00" y="273.00" width="8.00" height="8.00" fill="#0084ff"/>
<rect x="442.00" y="273.00" width="9.00" height="8.00" fill="#0078ff"/>
<rect x="451.00" y="273.00" width="8.00" height="8.00" fill="#0060ff"/>
<rect x="459.00" y="273.00" width="9.00" height="8.00" fill="#0044ff"/>
<rect x="468.00" y="273.00" width="8.00" height="8.00" fill="#0028ff"/>
<rect x="476.00" y="273.00" width="9.00" height="8.00" fill="#000cff"/>
<rect x="485.00" y="273.00" width="8.00" height="8.00" fill="#0000ff"/>
<rect x="493.00" y="273.00" width="17.00" height="8.00" fill="#0000f6"/>
<rect x="510.00" y="273.00" width="8.00" height="8.00" fill="#0000fa"/>
<rect x="518.00" y="273.00" width="9.00" height="8.00" fill="#0000f6"/>
<rect x="527.00" y="273.00" width="8.00" height="8.00" fill="#0000e8"/>
<rect x="535.00" y="273.00" width="9.00" height="8.00" fill="#0000df"/>
<rect x="544.00" y="273.00" width="8.00" height="8.00" fill="#0000da"/>
<rect x="552.00" y="273.00" width="9.00" height="8.00" fill="#0000d6"/>
<rect x="561.00" y="273.00" width="8.00" height="8.00" fill="#0000d1"/>
<rect x="569.00" y="273.00" width="17.00" height="8.00" fill="#0000cd"/>
<rect x="586.00" y="273.00" width="17.00" height="8.00" fill="#0000c8"/>
<rect x="603.00" y="273.00" width="9.00" height="8.00" fill="#0000c4"/>
<rect x="612.00" y="273.00" width="8.00" height="8.00" fill="#0000bb"/>
<rect x="620.00" y="273.00" width="25.00" height="8.00" fill="#0000b6"/>
<rect x="645.00" y="273.00" width="17.00" height="8.00" fill="#0000b2"/>
<rect x="662.00" y="273.00" width="17.00" height="8.00" fill="#0000ad"/>
<rect x="679.00" y="273.00" width="17.00" height="8.00" fill="#0000a8"/>
<rect x="696.00" y="273.00" width="18.00" height="8.00" fill="#0000a4"/>
<rect x="105.00" y="281.00" width="8.00" height="9.00" fill="#0000b6"/>
<rect x="113.00" y="281.00" width="8.00" height="9.00" fill="#0000b2"/>
<rect x="121.00" y="281.00" width="17.00" height="9.00" fill="#0000ad"/>
<rect x="138.00" y="281.00" width="8.00" height="9.00" fill="#0000a8"/>
<rect x="146.00" y="281.00" width="26.00" height="9.00" fill="#0000a4"/>
<rect x="172.00" y="281.00" width="8.00" height="9.00" fill="#0000a8"/>
<rect x="180.00" y="281.00" width="9.00" height="9.00" fill="#0000ad"/>
<rect x="189.00" y="281.00" width="8.00" height="9.00" fill="#0000b6"/>
<rect x="197.00" y="281.00" width="9.00" height="9.00" fill="#0000bf"/>
<rect x="206.00" y="281.00" width="8.00" height="9.00" fill="#0000cd"/>
<rect x="214.00" y="281.00" width="8.00" height="9.00" fill="#0000e3"/>
<rect x="222.00" y="281.00" width="9.00" height="9.00" fill="#0000fa"/>
<rect x="231.00" y="281.00" width="8.00" height="9.00" fill="#0000ff"/>
<rect x="239.00" y="281.00" width="9.00" height="9.00" fill="#0014ff"/>
<rect x="248.00" y="281.00" width="8.00" height="9.00" fill="#0028ff"/>
<rect x="256.00" y="281.00" width="9.00" height="9.00" fill="#0038ff"/>
<rect x="265.00" y="281.00" width="8.00" height="9.00" fill="#0044ff"/>
<rect x="273.00" y="281.00" width="9.00" height="9.00" fill="#0050ff"/>
<rect x="282.00" y="281.00" width="8.00" height="9.00" fill="#005cff"/>
<rect x="290.00" y="281.00" width="9.00" height="9.00" fill="#0060ff"/>
<rect x="299.00" y="281.00" width="8.00" height="9.00" fill="#005cff"/>
<rect x="307.00" y="281.00" width="9.00" height="9.00" fill="#0054ff"/>
<rect x="316.00" y="281.00" width="8.00" height="9.00" fill="#0050ff"/>
<rect x="324.00" y="281.00" width="8.00" height="9.00" fill="#0048ff"/>
<rect x="332.00" y="281.00" width="9.00" height="9.00" fill="#0040ff"/>
<rect x="341.00" y="281.00" width="8.00" height="9.00" fill="#003cff"/>
<rect x="349.00" y="281.00" width="9.00" height="9.00" fill="#0040ff"/>
<rect x="358.00" y="281.00" width="8.00" height="9.00" fill="#004cff"/>
<rect x="366.00" y="281.00" width="9.00" height="9.00" fill="#0058ff"/>
<rect x="375.00" y="281.00" width="8.00" height="9.00" fill="#0068ff"/>
<rect x="383.00" y="281.00" width="9.00" height="9.00" fill="#007cff"/>
<rect x="392.00" y="281.00" width="8.00" height="9.00" fill="#0088ff"/>
<rect x="400.00" y="281.00" width="9.00" height="9.00" fill="#0090ff"/>
<rect x="409.00" y="281.00" width="16.00" height="9.00" fill="#0094ff"/>
<rect x="425.00" y="281.00" width="9.00" height="9.00" fill="#0090ff"/>
<rect x="434.00" y="281.00" width="8.00" height="9.00" fill="#0084ff"/>
<rect x="442.00" y="281.00" width="9.00" height="9.00" fill="#0074ff"/>
<rect x="451.00" y="281.00" width="8.00" height="9.00" fill="#005cff"/>
<rect x="459.00" y="281.00" width="9.00" height="9.00" fill="#003cff"/>
<rect x="468.00" y="281.00" width="8.00" height="9.00" fill="#001cff"/>
<rect x="476.00" y="281.00" width="9.00" height="9.00" fill="#0004ff"/>
<rect x="485.00" y="281.00" width="8.00" height="9.00" fill="#0000ff"/>
<rect x="493.00" y="281.00" width="9.00" height="9.00" fill="#0000ed"/>
<rect x="502.00" y="281.00" width="8.00" height="9.00" fill="#0000e8"/>
<rect x="510.00" y="281.00" width="8.00" height="9.00" fill="#0000ed"/>
<rect x="518.00" y="281.00" width="9.00" height="9.00" fill="#0000e8"/>
<rect x="527.00" y="281.00" width="8.00" height="9.00" fill="#0000df"/>
<rect x="535.00" y="281.00" width="9.00" height="9.00" fill="#0000da"/>
<rect x="544.00" y="281.00" width="8.00" height="9.00" fill="#0000d1"/>
<rect x="552.00" y="281.00" width="17.00" height="9.00" fill="#0000cd"/>
<rect x="569.00" y="281.00" width="34.00" height="9.00" fill="#0000c8"/>
<rect x="603.00" y="281.00" width="9.00" height="9.00" fill="#0000c4"/>
<rect x="612.00" y="281.00" width="25.00" height="9.00" fill="#0000bb"/>
<rect x="637.00" y="281.00" width="25.00" height="9.00" fill="#0000b6"/>
<rect x="662.00" y="281.00" width="26.00" height="9.00" fill="#0000b2"/>
<rect x="688.00" y="281.00" width="26.00" height="9.00" fill="#0000ad"/>
<rect x="105.00" y="290.00" width="8.00" height="8.00" fill="#0000bb"/>
<rect x="113.00" y="290.00" width="16.00" height="8.00" fill="#0000b6"/>
<rect x="129.00" y="290.00" width="17.00" height="8.00" fill="#0000b2"/>
<rect x="146.00" y="290.00" width="17.00" height="8.00" fill="#0000ad"/>
<rect x="163.00" y="290.00" width="17.00" height="8.00" fill="#0000b2"/>
<rect x="180.00" y="290.00" width="9.00" height="8.00" fill="#0000b6"/>
<rect x="189.00" y="290.00" width="8.00" height="8.00" fill="#0000bf"/>
<rect x="197.00" y="290.00" width="9.00" height="8.00" fill="#0000c4"/>
<rect x="206.00" y="290.00" width="8.00" height="8.00" fill="#0000d1"/>
<rect x="214.00" y="290.00" width="8.00" height="8.00" fill="#0000e3"/>
<rect x="222.00" y="290.00" width="9.00" height="8.00" fill="#0000f6"/>
<rect x="231.00" y="290.00" width="25.00" height="8.00" fill="#0000ff"/>
<rect x="256.00" y="290.00" width="9.00" height="8.00" fill="#0008ff"/>
<rect x="265.00" y="290.00" width="8.00" height="8.00" fill="#000cff"/>
<rect x="273.00" y="290.00" width="9.00" height="8.00" fill="#0014ff"/>
<rect x="282.00" y="290.00" width="25.00" height="8.00" fill="#0018ff"/>
<rect x="307.00" y="290.00" width="17.00" height="8.00" fill="#0014ff"/>
<rect x="324.00" y="290.00" width="17.00" height="8.00" fill="#0008ff"/>
<rect x="341.00" y="290.00" width="8.00" height="8.00" fill="#0010ff"/>
<rect x="349.00" y="290.00" width="9.00" height="8.00" fill="#001cff"/>
<rect x="358.00" y="290.00" width="8.00" height="8.00" fill="#0030ff"/>
<rect x="366.00" y="290.00" width="9.00" height="8.00" fill="#0048ff"/>
<rect x="375.00" y="290.00" width="8.00" height="8.00" fill="#0060ff"/>
<rect x="383.00" y="290.00" width="9.00" height="8.00" fill="#0078ff"/>
<rect x="392.00" y="290.00" width="8.00" height="8.00" fill="#0088ff"/>
<rect x="400.00" y="290.00" width="9.00" height="8.00" fill="#0094ff"/>
<rect x="409.00" y="290.00" width="8.00" height="8.00" fill="#0098ff"/>
<rect x="417.00" y="290.00" width="8.00" height="8.00" fill="#0094ff"/>
<rect x="425.00" y="290.00" width="9.00" height="8.00" fill="#0090ff"/>
<rect x="434.00" y="290.00" width="8.00" height="8.00" fill="#0084ff"/>
<rect x="442.00" y="290.00" width="9.00" height="8.00" fill="#0070ff"/>
<rect x="451.00" y="290.00" width="8.00" height="8.00" fill="#0054ff"/>
<rect x="459.00" y="290.00" width="9.00" height="8.00" fill="#0038ff"/>
<rect x="468.00" y="290.00" width="8.00" height="8.00" fill="#0018ff"/>
<rect x="476.00" y="290.00" width="9.00" height="8.00" fill="#0000ff"/>
<rect x="485.00" y="290.00" width="8.00" height="8.00" fill="#0000fa"/>
<rect x="493.00" y="290.00" width="9.00" height="8.00" fill="#0000e8"/>
<rect x="502.00" y="290.00" width="8.00" height="8.00" fill="#0000df"/>
<rect x="510.00" y="290.00" width="8.00" height="8.00" fill="#0000e3"/>
<rect x="518.00" y="290.00" width="9.00" height="8.00" fill="#0000da"/>
<rect x="527.00" y="290.00" width="8.00" height="8.00" fill="#0000d6"/>
<rect x="535.00" y="290.00" width="9.00" height="8.00" fill="#0000cd"/>
<rect x="544.00" y="290.00" width="8.00" height="8.00" fill="#0000c8"/>
<rect x="552.00" y="290.00" width="9.00" height="8.00" fill="#0000c4"/>
<rect x="561.00" y="290.00" width="34.00" height="8.00" fill="#0000bf"/>
<rect x="595.00" y="290.00" width="17.00" height="8.00" fill="#0000bb"/>
<rect x="612.00" y="290.00" width="42.00" height="8.00" fill="#0000b2"/>
<rect x="654.00" y="290.00" width="8.00" height="8.00" fill="#0000ad"/>
<rect x="662.00" y="290.00" width="9.00" height="8.00" fill="#0000b2"/>
<rect x="671.00" y="290.00" width="17.00" height="8.00" fill="#0000b6"/>
<rect x="688.00" y="290.00" width="26.00" height="8.00" fill="#0000b2"/>
<rect x="105.00" y="298.00" width="24.00" height="9.00" fill="#0000bb"/>
<rect x="129.00" y="298.00" width="34.00" height="9.00" fill="#0000b6"/>
<rect x="163.00" y="298.00" width="17.00" height="9.00" fill="#0000bb"/>
<rect x="180.00" y="298.00" width="9.00" height="9.00" fill="#0000bf"/>
<rect x="189.00" y="298.00" width="8.00" height="9.00" fill="#0000c4"/>
<rect x="197.00" y="298.00" width="9.00" height="9.00" fill="#0000c8"/>
<rect x="206.00" y="298.00" width="8.00" height="9.00" fill="#0000d1"/>
<rect x="214.00" y="298.00" width="8.00" height="9.00" fill="#0000e3"/>
<rect x="222.00" y="298.00" width="9.00" height="9.00" fill="#0000f1"/>
<rect x="231.00" y="298.00" width="8.00" height="9.00" fill="#0000fa"/>
<rect x="239.00" y="298.00" width="68.00" height="9.00" fill="#0000ff"/>
<rect x="307.00" y="298.00" width="9.00" height="9.00" fill="#0000fa"/>
<rect x="316.00" y="298.00" width="33.00" height="9.00" fill="#0000ff"/>
<rect x="349.00" y="298.00" width="9.00" height="9.00" fill="#000cff"/>
<rect x="358.00" y="298.00" width="8.00" height="9.00" fill="#0024ff"/>
<rect x="366.00" y="298.00" width="9.00" height="9.00" fill="#0040ff"/>
<rect x="375.00" y="298.00" width="8.00" height="9.00" fill="#005cff"/>
<rect x="383.00" y="298.00" width="9.00" height="9.00" fill="#0074ff"/>
<rect x="392.00" y="298.00" width="8.00" height="9.00" fill="#0084ff"/>
<rect x="400.00" y="298.00" width="9.00" height="9.00" fill="#0090ff"/>
<rect x="409.00" y="298.00" width="8.00" height="9.00" fill="#0094ff"/>
<rect x="417.00" y="298.00" width="8.00" height="9.00" fill="#0090ff"/>
<rect x="425.00" y="298.00" width="9.00" height="9.00" fill="#0088ff"/>
<rect x="434.00" y="298.00" width="8.00" height="9.00" fill="#007cff"/>
<rect x="442.00" y="298.00" width="9.00" height="9.00" fill="#0068ff"/>
<rect x="451.00" y="298.00" width="8.00" height="9.00" fill="#004cff"/>
<rect x="459.00" y="298.00" width="9.00" height="9.00" fill="#0030ff"/>
<rect x="468.00" y="298.00" width="8.00" height="9.00" fill="#0010ff"/>
<rect x="476.00" y="298.00" width="9.00" height="9.00" fill="#0000ff"/>
<rect x="485.00" y="298.00" width="8.00" height="9.00" fill="#0000f6"/>
<rect x="493.00" y="298.00" width="9.00" height="9.00" fill="#0000e3"/>
<rect x="502.00" y="298.00" width="8.00" height="9.00" fill="#0000df"/>
<rect x="510.00" y="298.00" width="8.00" height="9.00" fill="#0000da"/>
<rect x="518.00" y="298.00" width="9.00" height="9.00" fill="#0000d1"/>
<rect x="527.00" y="298.00" width="8.00" height="9.00" fill="#0000cd"/>
<rect x="535.00" y="298.00" width="9.00" height="9.00" fill="#0000c4"/>
<rect x="544.00" y="298.00" width="8.00" height="9.00" fill="#0000bb"/>
<rect x="552.00" y="298.00" width="9.00" height="9.00" fill="#0000b6"/>
<rect x="561.00" y="298.00" width="25.00" height="9.00" fill="#0000b2"/>
<rect x="586.00" y="298.00" width="26.00" height="9.00" fill="#0000ad"/>
<rect x="612.00" y="298.00" width="50.00" height="9.00" fill="#0000a4"/>
<rect x="662.00" y="298.00" width="9.00" height="9.00" fill="#0000ad"/>
<rect x="671.00" y="298.00" width="8.00" height="9.00" fill="#0000b2"/>
<rect x="679.00" y="298.00" width="17.00" height="9.00" fill="#0000b6"/>
<rect x="696.00" y="298.00" width="18.00" height="9.00" fill="#0000b2"/>
<rect x="105.00" y="307.00" width="8.00" height="8.00" fill="#0000bf"/>
<rect x="113.00" y="307.00" width="50.00" height="8.00" fill="#0000bb"/>
<rect x="163.00" y="307.00" width="17.00" height="8.00" fill="#0000bf"/>
<rect x="180.00" y="307.00" width="9.00" height="8.00" fill="#0000c4"/>
<rect x="189.00" y="307.00" width="8.00" height="8.00" fill="#0000c8"/>
<rect x="197.00" y="307.00" width="9.00" height="8.00" fill="#0000cd"/>
<rect x="206.00" y="307.00" width="8.00" height="8.00" fill="#0000d6"/>
<rect x="214.00" y="307.00" width="8.00" height="8.00" fill="#0000df"/>
<rect x="222.00" y="307.00" width="9.00" height="8.00" fill="#0000ed"/>
<rect x="231.00" y="307.00" width="8.00" height="8.00" fill="#0000f6"/>
<rect x="239.00" y="307.00" width="17.00" height="8.00" fill="#0000fa"/>
<rect x="256.00" y="307.00" width="17.00" height="8.00" fill="#0000ff"/>
<rect x="273.00" y="307.00" width="26.00" height="8.00" fill="#0000fa"/>
<rect x="299.00" y="307.00" width="17.00" height="8.00" fill="#0000f6"/>
<rect x="316.00" y="307.00" width="8.00" height="8.00" fill="#0000fa"/>
<rect x="324.00" y="307.00" width="25.00" height="8.00" fill="#0000ff"/>
<rect x="349.00" y="307.00" width="9.00" height="8.00" fill="#000cff"/>
<rect x="358.00" y="307.00" width="8.00" height="8.00" fill="#0024ff"/>
<rect x="366.00" y="307.00" width="9.00" height="8.00" fill="#003cff"/>
<rect x="375.00" y="307.00" width="8.00" height="8.00" fill="#0054ff"/>
<rect x="383.00" y="307.00" width="9.00" height="8.00" fill="#006cff"/>
<rect x="392.00" y="307.00" width="8.00" height="8.00" fill="#0080ff"/>
<rect x="400.00" y="307.00" width="17.00" height="8.00" fill="#008cff"/>
<rect x="417.00" y="307.00" width="8.00" height="8.00" fill="#0088ff"/>
<rect x="425.00" y="307.00" width="9.00" height="8.00" fill="#0080ff"/>
<rect x="434.00" y="307.00" width="8.00" height="8.00" fill="#0070ff"/>
<rect x="442.00" y="307.00" width="9.00" height="8.00" fill="#005cff"/>
<rect x="451.00" y="307.00" width="8.00" height="8.00" fill="#0044ff"/>
<rect x="459.00" y="307.00" width="9.00" height="8.00" fill="#0028ff"/>
<rect x="468.00" y="307.00" width="8.00" height="8.00" fill="#000cff"/>
<rect x="476.00" y="307.00" width="9.00" height="8.00" fill="#0000ff"/>
<rect x="485.00" y="307.00" width="8.00" height="8.00" fill="#0000f1"/>
<rect x="493.00" y="307.00" width="9.00" height="8.00" fill="#0000e3"/>
<rect x="502.00" y="307.00" width="8.00" height="8.00" fill="#0000da"/>
<rect x="510.00" y="307.00" width="8.00" height="8.00" fill="#0000d6"/>
<rect x="518.00" y="307.00" width="9.00" height="8.00" fill="#0000cd"/>
<rect x="527.00" y="307.00" width="8.00" height="8.00" fill="#0000c4"/>
<rect x="535.00" y="307.00" width="9.00" height="8.00" fill="#0000bb"/>
<rect x="544.00" y="307.00" width="8.00" height="8.00" fill="#0000b2"/>
<rect x="552.00" y="307.00" width="9.00" height="8.00" fill="#0000a8"/>
<rect x="561.00" y="307.00" width="17.00" height="8.00" fill="#0000a4"/>
<rect x="578.00" y="307.00" width="25.00" height="8.00" fill="#00009f"/>
<rect x="603.00" y="307.00" width="9.00" height="8.00" fill="#00009b"/>
<rect x="612.00" y="307.00" width="33.00" height="8.00" fill="#000096"/>
<rect x="645.00" y="307.00" width="17.00" height="8.00" fill="#00009b"/>
<rect x="662.00" y="307.00" width="9.00" height="8.00" fill="#0000a4"/>
<rect x="671.00" y="307.00" width="8.00" height="8.00" fill="#0000ad"/>
<rect x="679.00" y="307.00" width="26.00" height="8.00" fill="#0000b2"/>
<rect x="705.00" y="307.00" width="9.00" height="8.00" fill="#0000b6"/>
<rect x="105.00" y="315.00" width="67.00" height="9.00" fill="#0000bf"/>
<rect x="172.00" y="315.00" width="17.00" height="9.00" fill="#0000c4"/>
<rect x="189.00" y="315.00" width="8.00" height="9.00" fill="#0000c8"/>
<rect x="197.00" y="315.00" width="9.00" height="9.00" fill="#0000cd"/>
<rect x="206.00" y="315.00" width="8.00" height="9.00" fill="#0000d1"/>
<rect x="214.00" y="315.00" width="8.00" height="9.00" fill="#0000df"/>
<rect x="222.00" y="315.00" width="9.00" height="9.00" fill="#0000ed"/>
<rect x="231.00" y="315.00" width="17.00" height="9.00" fill="#0000f6"/>
<rect x="248.00" y="315.00" width="51.00" height="9.00" fill="#0000fa"/>
<rect x="299.00" y="315.00" width="8.00" height="9.00" fill="#0000f6"/>
<rect x="307.00" y="315.00" width="9.00" height="9.00" fill="#0000fa"/>
<rect x="316.00" y="315.00" width="25.00" height="9.00" fill="#0000ff"/>
<rect x="341.00" y="315.00" width="8.00" height="9.00" fill="#0004ff"/>
<rect x="349.00" y="315.00" width="9.00" height="9.00" fill="#0014ff"/>
<rect x="358.00" y="315.00" width="8.00" height="9.00" fill="#0028ff"/>
<rect x="366.00" y="315.00" width="9.00" height="9.00" fill="#003cff"/>
<rect x="375.00" y="315.00" width="8.00" height="9.00" fill="#0054ff"/>
<rect x="383.00" y="315.00" width="9.00" height="9.00" fill="#0068ff"/>
<rect x="392.00" y="315.00" width="8.00" height="9.00" fill="#0078ff"/>
<rect x="400.00" y="315.00" width="17.00" height="9.00" fill="#0080ff"/>
<rect x="417.00" y="315.00" width="8.00" height="9.00" fill="#007cff"/>
<rect x="425.00" y="315.00" width="9.00" height="9.00" fill="#0074ff"/>
<rect x="434.00" y="315.00" width="8.00" height="9.00" fill="#0064ff"/>
<rect x="442.00" y="315.00" width="9.00" height="9.00" fill="#0050ff"/>
<rect x="451.00" y="315.00" width="8.00" height="9.00" fill="#003cff"/>
<rect x="459.00" y="315.00" width="9.00" height="9.00" fill="#0020ff"/>
<rect x="468.00" y="315.00" width="8.00" height="9.00" fill="#0008ff"/>
<rect x="476.00" y="315.00" width="9.00" height="9.00" fill="#0000ff"/>
<rect x="485.00" y="315.00" width="8.00" height="9.00" fill="#0000ed"/>
<rect x="493.00" y="315.00" width="9.00" height="9.00" fill="#0000df"/>
<rect x="502.00" y="315.00" width="8.00" height="9.00" fill="#0000d6"/>
<rect x="510.00" y="315.00" width="8.00" height="9.00" fill="#0000d1"/>
<rect x="518.00" y="315.00" width="9.00" height="9.00" fill="#0000c8"/>
<rect x="527.00" y="315.00" width="8.00" height="9.00" fill="#0000bb"/>
<rect x="535.00" y="315.00" width="9.00" height="9.00" fill="#0000b2"/>
<rect x="544.00" y="315.00" width="8.00" height="9.00" fill="#0000a8"/>
<rect x="552.00" y="315.00" width="9.00" height="9.00" fill="#00009f"/>
<rect x="561.00" y="315.00" width="8.00" height="9.00" fill="#00009b"/>
<rect x="569.00" y="315.00" width="17.00" height="9.00" fill="#000096"/>
<rect x="586.00" y="315.00" width="26.00" height="9.00" fill="#000092"/>
<rect x="612.00" y="315.00" width="25.00" height="9.00" fill="#000089"/>
<rect x="637.00" y="315.00" width="8.00" height="9.00" fill="#00008d"/>
<rect x="645.00" y="315.00" width="9.00" height="9.00" fill="#000092"/>
<rect x="654.00" y="315.00" width="8.00" height="9.00" fill="#000096"/>
<rect x="662.00" y="315.00" width="9.00" height="9.00" fill="#00009f"/>
<rect x="671.00" y="315.00" width="8.00" height="9.00" fill="#0000a8"/>
<rect x="679.00" y="315.00" width="9.00" height="9.00" fill="#0000ad"/>
<rect x="688.00" y="315.00" width="26.00" height="9.00" fill="#0000b2"/>
<rect x="105.00" y="324.00" width="75.00" height="8.00" fill="#0000bf"/>
<rect x="180.00" y="324.00" width="17.00" height="8.00" fill="#0000c4"/>
<rect x="197.00" y="324.00" width="9.00" height="8.00" fill="#0000c8"/>
<rect x="206.00" y="324.00" width="8.00" height="8.00" fill="#0000d1"/>
<rect x="214.00" y="324.00" width="8.00" height="8.00" fill="#0000df"/>
<rect x="222.00" y="324.00" width="9.00" height="8.00" fill="#0000e8"/>
<rect x="231.00" y="324.00" width="8.00" height="8.00" fill="#0000f1"/>
<rect x="239.00" y="324.00" width="34.00" height="8.00" fill="#0000f6"/>
<rect x="273.00" y="324.00" width="34.00" height="8.00" fill="#0000fa"/>
<rect x="307.00" y="324.00" width="25.00" height="8.00" fill="#0000ff"/>
<rect x="332.00" y="324.00" width="9.00" height="8.00" fill="#0004ff"/>
<rect x="341.00" y="324.00" width="8.00" height="8.00" fill="#000cff"/>
<rect x="349.00" y="324.00" width="9.00" height="8.00" fill="#001cff"/>
<rect x="358.00" y="324.00" width="8.00" height="8.00" fill="#002cff"/>
<rect x="366.00" y="324.00" width="9.00" height="8.00" fill="#0040ff"/>
<rect x="375.00" y="324.00" width="8.00" height="8.00" fill="#0050ff"/>
<rect x="383.00" y="324.00" width="9.00" height="8.00" fill="#0060ff"/>
<rect x="392.00" y="324.00" width="8.00" height="8.00" fill="#006cff"/>
<rect x="400.00" y="324.00" width="17.00" height="8.00" fill="#0070ff"/>
<rect x="417.00" y="324.00" width="8.00" height="8.00" fill="#006cff"/>
<rect x="425.00" y="324.00" width="9.00" height="8.00" fill="#0064ff"/>
<rect x="434.00" y="324.00" width="8.00" height="8.00" fill="#0058ff"/>
<rect x="442.00" y="324.00" width="9.00" height="8.00" fill="#0044ff"/>
<rect x="451.00" y="324.00" width="8.00" height="8.00" fill="#0030ff"/>
<rect x="459.00" y="324.00" width="9.00" height="8.00" fill="#0018ff"/>
<rect x="468.00" y="324.00" width="8.00" height="8.00" fill="#0000ff"/>
<rect x="476.00" y="324.00" width="9.00" height="8.00" fill="#0000fa"/>
<rect x="485.00" y="324.00" width="8.00" height="8.00" fill="#0000ed"/>
<rect x="493.00" y="324.00" width="9.00" height="8.00" fill="#0000da"/>
<rect x="502.00" y="324.00" width="8.00" height="8.00" fill="#0000d1"/>
<rect x="510.00" y="324.00" width="8.00" height="8.00" fill="#0000cd"/>
<rect x="518.00" y="324.00" width="9.00" height="8.00" fill="#0000c4"/>
<rect x="527.00" y="324.00" width="8.00" height="8.00" fill="#0000b6"/>
<rect x="535.00" y="324.00" width="9.00" height="8.00" fill="#0000ad"/>
<rect x="544.00" y="324.00" width="8.00" height="8.00" fill="#00009f"/>
<rect x="552.00" y="324.00" width="9.00" height="8.00" fill="#00009b"/>
<rect x="561.00" y="324.00" width="8.00" height="8.00" fill="#000096"/>
<rect x="569.00" y="324.00" width="9.00" height="8.00" fill="#000092"/>
<rect x="578.00" y="324.00" width="17.00" height="8.00" fill="#00008d"/>
<rect x="595.00" y="324.00" width="17.00" height="8.00" fill="#000089"/>
<rect x="612.00" y="324.00" width="25.00" height="8.00" fill="#000084"/>
<rect x="637.00" y="324.00" width="8.00" height="8.00" fill="#000089"/>
<rect x="645.00" y="324.00" width="9.00" height="8.00" fill="#00008d"/>
<rect x="654.00" y="324.00" width="8.00" height="8.00" fill="#000092"/>
<rect x="662.00" y="324.00" width="9.00" height="8.00" fill="#00009b"/>
<rect x="671.00" y="324.00" width="8.00" height="8.00" fill="#0000a4"/>
<rect x="679.00" y="324.00" width="9.00" height="8.00" fill="#0000a8"/>
<rect x="688.00" y="324.00" width="8.00" height="8.00" fill="#0000ad"/>
<rect x="696.00" y="324.00" width="18.00" height="8.00" fill="#0000b2"/>
<rect x="105.00" y="332.00" width="8.00" height="9.00" fill="#0000bf"/>
<rect x="113.00" y="332.00" width="59.00" height="9.00" fill="#0000bb"/>
<rect x="172.00" y="332.00" width="17.00" height="9.00" fill="#0000bf"/>
<rect x="189.00" y="332.00" width="8.00" height="9.00" fill="#0000c4"/>
<rect x="197.00" y="332.00" width="9.00" height="9.00" fill="#0000c8"/>
<rect x="206.00" y="332.00" width="8.00" height="9.00" fill="#0000d1"/>
<rect x="214.00" y="332.00" width="8.00" height="9.00" fill="#0000da"/>
<rect x="222.00" y="332.00" width="9.00" height="9.00" fill="#0000e3"/>
<rect x="231.00" y="332.00" width="8.00" height="9.00" fill="#0000e8"/>
<rect x="239.00" y="332.00" width="9.00" height="9.00" fill="#0000ed"/>
<rect x="248.00" y="332.00" width="17.00" height="9.00" fill="#0000f1"/>
<rect x="265.00" y="332.00" width="17.00" height="9.00" fill="#0000f6"/>
<rect x="282.00" y="332.00" width="17.00" height="9.00" fill="#0000fa"/>
<rect x="299.00" y="332.00" width="25.00" height="9.00" fill="#0000ff"/>
<rect x="324.00" y="332.00" width="8.00" height="9.00" fill="#0008ff"/>
<rect x="332.00" y="332.00" width="9.00" height="9.00" fill="#0010ff"/>
<rect x="341.00" y="332.00" width="8.00" height="9.00" fill="#0018ff"/>
<rect x="349.00" y="332.00" width="9.00" height="9.00" fill="#0024ff"/>
<rect x="358.00" y="332.00" width="8.00" height="9.00" fill="#0030ff"/>
<rect x="366.00" y="332.00" width="9.00" height="9.00" fill="#003cff"/>
<rect x="375.00" y="332.00" width="8.00" height="9.00" fill="#0048ff"/>
<rect x="383.00" y="332.00" width="9.00" height="9.00" fill="#0054ff"/>
<rect x="392.00" y="332.00" width="8.00" height="9.00" fill="#005cff"/>
<rect x="400.00" y="332.00" width="17.00" height="9.00" fill="#0060ff"/>
<rect x="417.00" y="332.00" width="8.00" height="9.00" fill="#005cff"/>
<rect x="425.00" y="332.00" width="9.00" height="9.00" fill="#0054ff"/>
<rect x="434.00" y="332.00" width="8.00" height="9.00" fill="#0048ff"/>
<rect x="442.00" y="332.00" width="9.00" height="9.00" fill="#0038ff"/>
<rect x="451.00" y="332.00" width="8.00" height="9.00" fill="#0024ff"/>
<rect x="459.00" y="332.00" width="9.00" height="9.00" fill="#0010ff"/>
<rect x="468.00" y="332.00" width="8.00" height="9.00" fill="#0000ff"/>
<rect x="476.00" y="332.00" width="9.00" height="9.00" fill="#0000f6"/>
<rect x="485.00" y="332.00" width="8.00" height="9.00" fill="#0000e8"/>
<rect x="493.00" y="332.00" width="9.00" height="9.00" fill="#0000d6"/>
<rect x="502.00" y="332.00" width="8.00" height="9.00" fill="#0000cd"/>
<rect x="510.00" y="332.00" width="8.00" height="9.00" fill="#0000c8"/>
<rect x="518.00" y="332.00" width="9.00" height="9.00" fill="#0000bf"/>
<rect x="527.00" y="332.00" width="8.00" height="9.00" fill="#0000b2"/>
<rect x="535.00" y="332.00" width="9.00" height="9.00" fill="#0000a8"/>
<rect x="544.00" y="332.00" width="8.00" height="9.00" fill="#00009f"/>
<rect x="552.00" y="332.00" width="9.00" height="9.00" fill="#00009b"/>
<rect x="561.00" y="332.00" width="8.00" height="9.00" fill="#000096"/>
<rect x="569.00" y="332.00" width="9.00" height="9.00" fill="#000092"/>
<rect x="578.00" y="332.00" width="17.00" height="9.00" fill="#00008d"/>
<rect x="595.00" y="332.00" width="17.00" height="9.00" fill="#000089"/>
<rect x="612.00" y="332.00" width="25.00" height="9.00" fill="#000084"/>
<rect x="637.00" y="332.00" width="8.00" height="9.00" fill="#000089"/>
<rect x="645.00" y="332.00" width="9.00" height="9.00" fill="#00008d"/>
<rect x="654.00" y="332.00" width="8.00" height="9.00" fill="#000092"/>
<rect x="662.00" y="332.00" width="9.00" height="9.00" fill="#00009b"/>
<rect x="671.00" y="332.00" width="8.00" height="9.00" fill="#0000a4"/>
<rect x="679.00" y="332.00" width="17.00" height="9.00" fill="#0000a8"/>
<rect x="696.00" y="332.00" width="9.00" height="9.00" fill="#0000ad"/>
<rect x="705.00" y="332.00" width="9.00" height="9.00" fill="#0000b2"/>
<rect x="105.00" y="341.00" width="24.00" height="8.00" fill="#0000bb"/>
<rect x="129.00" y="341.00" width="43.00" height="8.00" fill="#0000b6"/>
<rect x="172.00" y="341.00" width="17.00" height="8.00" fill="#0000bb"/>
<rect x="189.00" y="341.00" width="8.00" height="8.00" fill="#0000bf"/>
<rect x="197.00" y="341.00" width="9.00" height="8.00" fill="#0000c4"/>
<rect x="206.00" y="341.00" width="8.00" height="8.00" fill="#0000cd"/>
<rect x="214.00" y="341.00" width="8.00" height="8.00" fill="#0000d6"/>
<rect x="222.00" y="341.00" width="9.00" height="8.00" fill="#0000da"/>
<rect x="231.00" y="341.00" width="8.00" height="8.00" fill="#0000e3"/>
<rect x="239.00" y="341.00" width="17.00" height="8.00" fill="#0000e8"/>
<rect x="256.00" y="341.00" width="9.00" height="8.00" fill="#0000ed"/>
<rect x="265.00" y="341.00" width="8.00" height="8.00" fill="#0000f1"/>
<rect x="273.00" y="341.00" width="17.00" height="8.00" fill="#0000f6"/>
<rect x="290.00" y="341.00" width="9.00" height="8.00" fill="#0000fa"/>
<rect x="299.00" y="341.00" width="8.00" height="8.00" fill="#0000ff"/>
<rect x="307.00" y="341.00" width="9.00" height="8.00" fill="#0004ff"/>
<rect x="316.00" y="341.00" width="8.00" height="8.00" fill="#000cff"/>
<rect x="324.00" y="341.00" width="8.00" height="8.00" fill="#0014ff"/>
<rect x="332.00" y="341.00" width="9.00" height="8.00" fill="#001cff"/>
<rect x="341.00" y="341.00" width="8.00" height="8.00" fill="#0024ff"/>
<rect x="349.00" y="341.00" width="9.00" height="8.00" fill="#002cff"/>
<rect x="358.00" y="341.00" width="8.00" height="8.00" fill="#0034ff"/>
<rect x="366.00" y="341.00" width="9.00" height="8.00" fill="#003cff"/>
<rect x="375.00" y="341.00" width="8.00" height="8.00" fill="#0044ff"/>
<rect x="383.00" y="341.00" width="9.00" height="8.00" fill="#0048ff"/>
<rect x="392.00" y="341.00" width="8.00" height="8.00" fill="#004cff"/>
<rect x="400.00" y="341.00" width="17.00" height="8.00" fill="#0050ff"/>
<rect x="417.00" y="341.00" width="8.00" height="8.00" fill="#004cff"/>
<rect x="425.00" y="341.00" width="9.00" height="8.00" fill="#0044ff"/>
<rect x="434.00" y="341.00" width="8.00" height="8.00" fill="#0038ff"/>
<rect x="442.00" y="341.00" width="9.00" height="8.00" fill="#002cff"/>
<rect x="451.00" y="341.00" width="8.00" height="8.00" fill="#0018ff"/>
<rect x="459.00" y="341.00" width="9.00" height="8.00" fill="#0004ff"/>
<rect x="468.00" y="341.00" width="8.00" height="8.00" fill="#0000ff"/>
<rect x="476.00" y="341.00" width="9.00" height="8.00" fill="#0000f1"/>
<rect x="485.00" y="341.00" width="8.00" height="8.00" fill="#0000e3"/>
<rect x="493.00" y="341.00" width="9.00" height="8.00" fill="#0000d6"/>
<rect x="502.00" y="341.00" width="8.00" height="8.00" fill="#0000cd"/>
<rect x="510.00" y="341.00" width="8.00" height="8.00" fill="#0000c8"/>
<rect x="518.00" y="341.00" width="9.00" height="8.00" fill="#0000bb"/>
<rect x="527.00" y="341.00" width="8.00" height="8.00" fill="#0000b2"/>
<rect x="535.00" y="341.00" width="9.00" height="8.00" fill="#0000a8"/>
<rect x="544.00" y="341.00" width="8.00" height="8.00" fill="#00009f"/>
<rect x="552.00" y="341.00" width="9.00" height="8.00" fill="#00009b"/>
<rect x="561.00" y="341.00" width="8.00" height="8.00" fill="#000096"/>
<rect x="569.00" y="341.00" width="9.00" height="8.00" fill="#000092"/>
<rect x="578.00" y="341.00" width="25.00" height="8.00" fill="#00008d"/>
<rect x="603.00" y="341.00" width="9.00" height="8.00" fill="#000089"/>
<rect x="612.00" y="341.00" width="25.00" height="8.00" fill="#000084"/>
<rect x="637.00" y="341.00" width="8.00" height="8.00" fill="#000089"/>
<rect x="645.00" y="341.00" width="9.00" height="8.00" fill="#00008d"/>
<rect x="654.00" y="341.00" width="8.00" height="8.00" fill="#000096"/>
<rect x="662.00" y="341.00" width="9.00" height="8.00" fill="#00009b"/>
<rect x="671.00" y="341.00" width="8.00" height="8.00" fill="#00009f"/>
<rect x="679.00" y="341.00" width="9.00" height="8.00" fill="#0000a4"/>
<rect x="688.00" y="341.00" width="17.00" height="8.00" fill="#0000a8"/>
<rect x="705.00" y="341.00" width="9.00" height="8.00" fill="#0000ad"/>
<rect x="105.00" y="349.00" width="24.00" height="9.00" fill="#0000b6"/>
<rect x="129.00" y="349.00" width="51.00" height="9.00" fill="#0000b2"/>
<rect x="180.00" y="349.00" width="17.00" height="9.00" fill="#0000b6"/>
<rect x="197.00" y="349.00" width="9.00" height="9.00" fill="#0000bf"/>
<rect x="206.00" y="349.00" width="8.00" height="9.00" fill="#0000c8"/>
<rect x="214.00" y="349.00" width="8.00" height="9.00" fill="#0000cd"/>
<rect x="222.00" y="349.00" width="9.00" height="9.00" fill="#0000d6"/>
<rect x="231.00" y="349.00" width="8.00" height="9.00" fill="#0000da"/>
<rect x="239.00" y="349.00" width="9.00" height="9.00" fill="#0000df"/>
<rect x="248.00" y="349.00" width="8.00" height="9.00" fill="#0000e3"/>
<rect x="256.00" y="349.00" width="17.00" height="9.00" fill="#0000e8"/>
<rect x="273.00" y="349.00" width="9.00" height="9.00" fill="#0000ed"/>
<rect x="282.00" y="349.00" width="8.00" height="9.00" fill="#0000f1"/>
<rect x="290.00" y="349.00" width="9.00" height="9.00" fill="#0000f6"/>
<rect x="299.00" y="349.00" width="8.00" height="9.00" fill="#0000ff"/>
<rect x="307.00" y="349.00" width="9.00" height="9.00" fill="#0008ff"/>
<rect x="316.00" y="349.00" width="8.00" height="9.00" fill="#0018ff"/>
<rect x="324.00" y="349.00" width="8.00" height="9.00" fill="#001cff"/>
<rect x="332.00" y="349.00" width="9.00" height="9.00" fill="#0024ff"/>
<rect x="341.00" y="349.00" width="8.00" height="9.00" fill="#0028ff"/>
<rect x="349.00" y="349.00" width="9.00" height="9.00" fill="#002cff"/>
<rect x="358.00" y="349.00" width="8.00" height="9.00" fill="#0034ff"/>
<rect x="366.00" y="349.00" width="17.00" height="9.00" fill="#0038ff"/>
<rect x="383.00" y="349.00" width="34.00" height="9.00" fill="#003cff"/>
<rect x="417.00" y="349.00" width="8.00" height="9.00" fill="#0038ff"/>
<rect x="425.00" y="349.00" width="9.00" height="9.00" fill="#0034ff"/>
<rect x="434.00" y="349.00" width="8.00" height="9.00" fill="#0028ff"/>
<rect x="442.00" y="349.00" width="9.00" height="9.00" fill="#001cff"/>
<rect x="451.00" y="349.00" width="8.00" height="9.00" fill="#000cff"/>
<rect x="459.00" y="349.00" width="17.00" height="9.00" fill="#0000ff"/>
<rect x="476.00" y="349.00" width="9.00" height="9.00" fill="#0000ed"/>
<rect x="485.00" y="349.00" width="8.00" height="9.00" fill="#0000e3"/>
<rect x="493.00" y="349.00" width="9.00" height="9.00" fill="#0000d6"/>
<rect x="502.00" y="349.00" width="8.00" height="9.00" fill="#0000d1"/>
<rect x="510.00" y="349.00" width="8.00" height="9.00" fill="#0000c8"/>
<rect x="518.00" y="349.00" width="9.00" height="9.00" fill="#0000bf"/>
<rect x="527.00" y="349.00" width="8.00" height="9.00" fill="#0000b2"/>
<rect x="535.00" y="349.00" width="9.00" height="9.00" fill="#0000ad"/>
<rect x="544.00" y="349.00" width="8.00" height="9.00" fill="#0000a4"/>
<rect x="552.00" y="349.00" width="9.00" height="9.00" fill="#00009f"/>
<rect x="561.00" y="349.00" width="8.00" height="9.00" fill="#00009b"/>
<rect x="569.00" y="349.00" width="26.00" height="9.00" fill="#000096"/>
<rect x="595.00" y="349.00" width="17.00" height="9.00" fill="#000092"/>
<rect x="612.00" y="349.00" width="25.00" height="9.00" fill="#00008d"/>
<rect x="637.00" y="349.00" width="8.00" height="9.00" fill="#000092"/>
<rect x="645.00" y="349.00" width="9.00" height="9.00" fill="#000096"/>
<rect x="654.00" y="349.00" width="8.00" height="9.00" fill="#00009b"/>
<rect x="662.00" y="349.00" width="9.00" height="9.00" fill="#00009f"/>
<rect x="671.00" y="349.00" width="8.00" height="9.00" fill="#0000a4"/>
<rect x="679.00" y="349.00" width="17.00" height="9.00" fill="#0000a8"/>
<rect x="696.00" y="349.00" width="18.00" height="9.00" fill="#0000ad"/>
<rect x="105.00" y="358.00" width="24.00" height="8.00" fill="#0000b2"/>
<rect x="129.00" y="358.00" width="51.00" height="8.00" fill="#0000ad"/>
<rect x="180.00" y="358.00" width="17.00" height="8.00" fill="#0000b2"/>
<rect x="197.00" y="358.00" width="9.00" height="8.00" fill="#0000b6"/>
<rect x="206.00" y="358.00" width="8.00" height="8.00" fill="#0000bf"/>
<rect x="214.00" y="358.00" width="8.00" height="8.00" fill="#0000c8"/>
<rect x="222.00" y="358.00" width="9.00" height="8.00" fill="#0000cd"/>
<rect x="231.00" y="358.00" width="8.00" height="8.00" fill="#0000d1"/>
<rect x="239.00" y="358.00" width="17.00" height="8.00" fill="#0000d6"/>
<rect x="256.00" y="358.00" width="9.00" height="8.00" fill="#0000da"/>
<rect x="265.00" y="358.00" width="8.00" height="8.00" fill="#0000df"/>
<rect x="273.00" y="358.00" width="17.00" height="8.00" fill="#0000e3"/>
<rect x="290.00" y="358.00" width="9.00" height="8.00" fill="#0000e8"/>
<rect x="299.00" y="358.00" width="8.00" height="8.00" fill="#0000fa"/>
<rect x="307.00" y="358.00" width="17.00" height="8.00" fill="#0014ff"/>
<rect x="324.00" y="358.00" width="8.00" height="8.00" fill="#0018ff"/>
<rect x="332.00" y="358.00" width="9.00" height="8.00" fill="#001cff"/>
<rect x="341.00" y="358.00" width="8.00" height="8.00" fill="#0020ff"/>
<rect x="349.00" y="358.00" width="26.00" height="8.00" fill="#0024ff"/>
<rect x="375.00" y="358.00" width="17.00" height="8.00" fill="#0028ff"/>
<rect x="392.00" y="358.00" width="25.00" height="8.00" fill="#0024ff"/>
<rect x="417.00" y="358.00" width="8.00" height="8.00" fill="#0020ff"/>
<rect x="425.00" y="358.00" width="9.00" height="8.00" fill="#0018ff"/>
<rect x="434.00" y="358.00" width="8.00" height="8.00" fill="#0010ff"/>
<rect x="442.00" y="358.00" width="9.00" height="8.00" fill="#0008ff"/>
<rect x="451.00" y="358.00" width="17.00" height="8.00" fill="#0000ff"/>
<rect x="468.00" y="358.00" width="8.00" height="8.00" fill="#0000f6"/>
<rect x="476.00" y="358.00" width="9.00" height="8.00" fill="#0000e8"/>
<rect x="485.00" y="358.00" width="8.00" height="8.00" fill="#0000da"/>
<rect x="493.00" y="358.00" width="9.00" height="8.00" fill="#0000d6"/>
<rect x="502.00" y="358.00" width="8.00" height="8.00" fill="#0000cd"/>
<rect x="510.00" y="358.00" width="8.00" height="8.00" fill="#0000c8"/>
<rect x="518.00" y="358.00" width="9.00" height="8.00" fill="#0000c4"/>
<rect x="527.00" y="358.00" width="8.00" height="8.00" fill="#0000bb"/>
<rect x="535.00" y="358.00" width="9.00" height="8.00" fill="#0000b6"/>
<rect x="544.00" y="358.00" width="8.00" height="8.00" fill="#0000b2"/>
<rect x="552.00" y="358.00" width="9.00" height="8.00" fill="#0000ad"/>
<rect x="561.00" y="358.00" width="17.00" height="8.00" fill="#0000a8"/>
<rect x="578.00" y="358.00" width="25.00" height="8.00" fill="#0000a4"/>
<rect x="603.00" y="358.00" width="34.00" height="8.00" fill="#00009f"/>
<rect x="637.00" y="358.00" width="17.00" height="8.00" fill="#0000a4"/>
<rect x="654.00" y="358.00" width="8.00" height="8.00" fill="#0000a8"/>
<rect x="662.00" y="358.00" width="17.00" height="8.00" fill="#0000ad"/>
<rect x="679.00" y="358.00" width="26.00" height="8.00" fill="#0000b2"/>
<rect x="705.00" y="358.00" width="9.00" height="8.00" fill="#0000b6"/>
<rect x="105.00" y="366.00" width="24.00" height="9.00" fill="#0000b2"/>
<rect x="129.00" y="366.00" width="51.00" height="9.00" fill="#0000ad"/>
<rect x="180.00" y="366.00" width="17.00" height="9.00" fill="#0000b2"/>
<rect x="197.00" y="366.00" width="9.00" height="9.00" fill="#0000b6"/>
<rect x="206.00" y="366.00" width="8.00" height="9.00" fill="#0000bb"/>
<rect x="214.00" y="366.00" width="17.00" height="9.00" fill="#0000bf"/>
<rect x="231.00" y="366.00" width="8.00" height="9.00" fill="#0000c4"/>
<rect x="239.00" y="366.00" width="9.00" height="9.00" fill="#0000c8"/>
<rect x="248.00" y="366.00" width="17.00" height="9.00" fill="#0000cd"/>
<rect x="265.00" y="366.00" width="8.00" height="9.00" fill="#0000d1"/>
<rect x="273.00" y="366.00" width="17.00" height="9.00" fill="#0000d6"/>
<rect x="290.00" y="366.00" width="9.00" height="9.00" fill="#0000da"/>
<rect x="299.00" y="366.00" width="8.00" height="9.00" fill="#0000e8"/>
<rect x="307.00" y="366.00" width="25.00" height="9.00" fill="#0000ff"/>
<rect x="332.00" y="366.00" width="68.00" height="9.00" fill="#0004ff"/>
<rect x="400.00" y="366.00" width="42.00" height="9.00" fill="#0000ff"/>
<rect x="442.00" y="366.00" width="9.00" height="9.00" fill="#0000fa"/>
<rect x="451.00" y="366.00" width="8.00" height="9.00" fill="#0000f6"/>
<rect x="459.00" y="366.00" width="9.00" height="9.00" fill="#0000ed"/>
<rect x="468.00" y="366.00" width="8.00" height="9.00" fill="#0000e3"/>
<rect x="476.00" y="366.00" width="9.00" height="9.00" fill="#0000d6"/>
<rect x="485.00" y="366.00" width="8.00" height="9.00" fill="#0000cd"/>
<rect x="493.00" y="366.00" width="17.00" height="9.00" fill="#0000c8"/>
<rect x="510.00" y="366.00" width="17.00" height="9.00" fill="#0000c4"/>
<rect x="527.00" y="366.00" width="8.00" height="9.00" fill="#0000bf"/>
<rect x="535.00" y="366.00" width="9.00" height="9.00" fill="#0000bb"/>
<rect x="544.00" y="366.00" width="17.00" height="9.00" fill="#0000b6"/>
<rect x="561.00" y="366.00" width="17.00" height="9.00" fill="#0000b2"/>
<rect x="578.00" y="366.00" width="25.00" height="9.00" fill="#0000ad"/>
<rect x="603.00" y="366.00" width="34.00" height="9.00" fill="#0000a8"/>
<rect x="637.00" y="366.00" width="25.00" height="9.00" fill="#0000ad"/>
<rect x="662.00" y="366.00" width="52.00" height="9.00" fill="#0000b2"/>
<rect x="105.00" y="375.00" width="84.00" height="8.00" fill="#0000a8"/>
<rect x="189.00" y="375.00" width="17.00" height="8.00" fill="#0000ad"/>
<rect x="206.00" y="375.00" width="16.00" height="8.00" fill="#0000b2"/>
<rect x="222.00" y="375.00" width="17.00" height="8.00" fill="#0000b6"/>
<rect x="239.00" y="375.00" width="9.00" height="8.00" fill="#0000bb"/>
<rect x="248.00" y="375.00" width="17.00" height="8.00" fill="#0000bf"/>
<rect x="265.00" y="375.00" width="8.00" height="8.00" fill="#0000c4"/>
<rect x="273.00" y="375.00" width="17.00" height="8.00" fill="#0000c8"/>
<rect x="290.00" y="375.00" width="9.00" height="8.00" fill="#0000cd"/>
<rect x="299.00" y="375.00" width="8.00" height="8.00" fill="#0000d6"/>
<rect x="307.00" y="375.00" width="9.00" height="8.00" fill="#0000e3"/>
<rect x="316.00" y="375.00" width="8.00" height="8.00" fill="#0000ed"/>
<rect x="324.00" y="375.00" width="17.00" height="8.00" fill="#0000f1"/>
<rect x="341.00" y="375.00" width="42.00" height="8.00" fill="#0000f6"/>
<rect x="383.00" y="375.00" width="34.00" height="8.00" fill="#0000f1"/>
<rect x="417.00" y="375.00" width="8.00" height="8.00" fill="#0000ed"/>
<rect x="425.00" y="375.00" width="17.00" height="8.00" fill="#0000e8"/>
<rect x="442.00" y="375.00" width="9.00" height="8.00" fill="#0000e3"/>
<rect x="451.00" y="375.00" width="8.00" height="8.00" fill="#0000df"/>
<rect x="459.00" y="375.00" width="9.00" height="8.00" fill="#0000da"/>
<rect x="468.00" y="375.00" width="8.00" height="8.00" fill="#0000d6"/>
<rect x="476.00" y="375.00" width="9.00" height="8.00" fill="#0000c8"/>
<rect x="485.00" y="375.00" width="8.00" height="8.00" fill="#0000c4"/>
<rect x="493.00" y="375.00" width="34.00" height="8.00" fill="#0000bf"/>
<rect x="527.00" y="375.00" width="25.00" height="8.00" fill="#0000bb"/>
<rect x="552.00" y="375.00" width="17.00" height="8.00" fill="#0000b6"/>
<rect x="569.00" y="375.00" width="17.00" height="8.00" fill="#0000b2"/>
<rect x="586.00" y="375.00" width="102.00" height="8.00" fill="#0000ad"/>
<rect x="688.00" y="375.00" width="26.00" height="8.00" fill="#0000a8"/>
<rect x="105.00" y="383.00" width="33.00" height="8.00" fill="#00009f"/>
<rect x="138.00" y="383.00" width="68.00" height="8.00" fill="#0000a4"/>
<rect x="206.00" y="383.00" width="25.00" height="8.00" fill="#0000a8"/>
<rect x="231.00" y="383.00" width="8.00" height="8.00" fill="#0000ad"/>
<rect x="239.00" y="383.00" width="17.00" height="8.00" fill="#0000b2"/>
<rect x="256.00" y="383.00" width="9.00" height="8.00" fill="#0000b6"/>
<rect x="265.00" y="383.00" width="17.00" height="8.00" fill="#0000bb"/>
<rect x="282.00" y="383.00" width="8.00" height="8.00" fill="#0000bf"/>
<rect x="290.00" y="383.00" width="9.00" height="8.00" fill="#0000c4"/>
<rect x="299.00" y="383.00" width="8.00" height="8.00" fill="#0000c8"/>
<rect x="307.00" y="383.00" width="9.00" height="8.00" fill="#0000d1"/>
<rect x="316.00" y="383.00" width="16.00" height="8.00" fill="#0000da"/>
<rect x="332.00" y="383.00" width="93.00" height="8.00" fill="#0000df"/>
<rect x="425.00" y="383.00" width="17.00" height="8.00" fill="#0000da"/>
<rect x="442.00" y="383.00" width="17.00" height="8.00" fill="#0000d6"/>
<rect x="459.00" y="383.00" width="9.00" height="8.00" fill="#0000d1"/>
<rect x="468.00" y="383.00" width="8.00" height="8.00" fill="#0000cd"/>
<rect x="476.00" y="383.00" width="9.00" height="8.00" fill="#0000c4"/>
<rect x="485.00" y="383.00" width="8.00" height="8.00" fill="#0000bf"/>
<rect x="493.00" y="383.00" width="51.00" height="8.00" fill="#0000bb"/>
<rect x="544.00" y="383.00" width="25.00" height="8.00" fill="#0000b6"/>
<rect x="569.00" y="383.00" width="26.00" height="8.00" fill="#0000b2"/>
<rect x="595.00" y="383.00" width="25.00" height="8.00" fill="#0000ad"/>
<rect x="620.00" y="383.00" width="51.00" height="8.00" fill="#0000a8"/>
<rect x="671.00" y="383.00" width="34.00" height="8.00" fill="#0000a4"/>
<rect x="705.00" y="383.00" width="9.00" height="8.00" fill="#00009f"/>
</g>
<g clip-path="url(#ax)">
<path d="M128.8 132.9 L134.8 131.4 L139.0 131.9 L136.5 130.2 L130.9 128.4 L132.2 127.3 L139.0 125.0 L148.3 123.1 L155.9 124.1 L162.7 124.8 L174.5 126.2 L184.7 126.7 L188.0 126.2 L196.5 124.6 L201.6 126.2 L208.3 125.8 L218.5 128.9 L226.9 129.2 L230.3 130.6 L231.2 128.4 L240.5 129.2 L247.2 128.0 L250.6 127.2 L251.5 122.9 L254.0 122.1 L257.4 125.5 L260.8 127.2 L262.5 128.9 L265.8 129.7 L269.2 126.3 L274.3 125.8 L275.2 128.9 L272.6 131.4 L267.5 131.4 L265.8 133.9 L264.2 135.6 L259.1 136.5 L255.7 139.0 L253.2 142.4 L254.0 144.4 L256.5 147.5 L262.5 147.8 L269.2 150.0 L273.8 150.5 L274.3 154.3 L276.8 157.1 L279.4 156.8 L279.4 152.6 L282.8 149.2 L283.6 145.8 L281.1 142.4 L281.9 138.2 L287.8 138.7 L294.6 140.7 L295.4 144.1 L298.0 144.9 L301.4 144.1 L303.1 141.9 L308.1 146.6 L311.5 150.0 L315.7 152.6 L318.3 155.1 L317.4 156.8 L313.2 158.8 L308.1 159.0 L301.4 159.0 L298.8 160.5 L294.6 163.6 L292.9 164.8 L296.3 162.7 L301.4 160.7 L304.2 161.4 L303.1 162.7 L303.9 164.4 L304.8 166.1 L309.8 166.6 L311.5 164.8 L311.9 166.1 L309.8 167.5 L305.6 168.5 L302.2 170.3 L301.0 169.5 L303.9 167.3 L301.4 167.5 L299.7 168.1 L296.3 169.5 L293.8 170.7 L293.4 172.9 L294.6 173.4 L292.9 173.7 L290.4 174.2 L287.8 175.3 L287.8 177.1 L286.1 178.3 L285.3 180.0 L283.9 178.0 L283.9 181.4 L285.3 184.4 L282.8 185.6 L281.1 186.6 L279.4 187.8 L276.8 189.8 L275.5 191.5 L275.5 193.2 L276.8 196.6 L277.7 199.1 L277.2 201.3 L275.7 201.3 L274.6 199.5 L273.1 196.9 L273.1 194.9 L270.9 193.2 L268.4 193.5 L266.7 192.5 L264.2 192.7 L261.6 192.9 L262.1 194.7 L259.9 194.6 L257.4 193.9 L254.0 193.9 L252.3 194.9 L248.9 196.6 L248.4 200.0 L247.8 203.4 L247.6 206.2 L250.6 211.5 L253.2 213.2 L257.4 212.5 L259.1 211.8 L259.9 208.4 L264.2 207.4 L265.8 207.6 L265.0 211.0 L264.2 213.5 L263.6 216.1 L262.8 217.2 L267.5 217.1 L270.9 217.2 L272.3 218.6 L271.6 222.0 L271.4 225.4 L272.6 227.1 L274.3 228.8 L276.0 229.1 L278.0 228.1 L280.2 228.1 L282.1 229.3 L283.1 230.5 L285.3 226.2 L286.5 225.4 L289.5 224.9 L291.7 223.0 L292.4 224.5 L291.6 225.7 L292.6 225.7 L294.6 223.3 L297.1 225.4 L301.4 226.1 L303.9 226.7 L308.1 225.9 L309.8 228.8 L311.5 229.6 L314.1 232.1 L316.6 233.8 L320.0 233.8 L324.2 235.5 L325.9 236.9 L328.4 241.5 L327.6 244.0 L331.0 244.8 L333.5 245.2 L337.7 247.4 L338.6 248.7 L342.0 248.7 L345.3 248.7 L347.9 250.3 L350.4 252.1 L353.3 252.8 L354.1 257.5 L353.0 260.1 L350.4 262.6 L347.9 266.0 L347.0 269.4 L346.7 273.6 L345.3 277.9 L342.0 282.9 L339.9 282.9 L334.7 284.6 L331.8 286.8 L330.8 289.7 L330.5 292.3 L328.4 294.8 L326.7 297.0 L324.9 298.4 L322.5 301.6 L320.0 303.3 L317.9 303.1 L314.9 301.6 L314.2 302.6 L316.3 304.1 L316.6 305.8 L315.7 308.3 L313.2 309.5 L308.1 310.0 L307.6 312.6 L303.1 313.4 L305.3 316.0 L303.1 316.8 L302.2 320.2 L298.8 321.9 L301.4 324.4 L298.8 327.0 L296.3 329.5 L297.1 332.6 L297.1 333.7 L298.8 335.4 L302.7 336.6 L300.5 337.5 L299.2 338.8 L296.3 338.0 L292.9 336.3 L290.4 334.6 L287.8 332.9 L286.1 329.5 L285.3 326.1 L287.0 323.6 L285.3 322.7 L287.8 320.2 L288.7 316.8 L287.8 315.1 L288.3 311.7 L288.7 308.3 L289.5 306.6 L291.2 303.3 L292.1 299.9 L292.1 294.8 L292.9 291.4 L293.8 286.3 L294.1 281.3 L294.3 276.2 L294.1 275.2 L291.2 272.8 L287.8 271.1 L284.5 267.7 L282.8 264.7 L280.2 260.1 L278.0 255.9 L276.0 254.2 L275.5 252.0 L277.2 249.8 L277.7 248.2 L276.0 247.7 L276.8 244.8 L277.7 242.6 L279.4 241.8 L280.2 239.8 L282.3 237.6 L281.9 233.8 L281.9 232.1 L281.1 230.8 L280.4 229.8 L278.5 228.8 L277.2 229.9 L276.8 231.6 L275.2 231.0 L273.0 230.1 L271.4 229.4 L269.6 227.4 L267.9 226.7 L267.9 225.2 L266.2 223.3 L264.8 222.0 L262.5 221.3 L259.1 220.5 L256.9 219.3 L254.0 216.7 L252.3 216.7 L249.8 217.4 L246.4 216.2 L243.9 215.2 L240.5 213.5 L237.1 211.8 L234.4 209.5 L234.9 207.6 L233.0 204.7 L230.3 201.7 L227.8 199.1 L226.1 196.9 L222.7 194.1 L221.5 191.5 L218.8 190.2 L219.0 192.4 L221.0 194.9 L222.7 197.4 L224.7 200.0 L225.9 202.5 L227.8 204.7 L226.9 205.2 L223.6 202.0 L223.1 200.0 L220.2 198.3 L218.5 196.9 L219.8 195.7 L217.1 193.2 L215.6 190.2 L214.8 188.8 L212.6 186.4 L209.2 185.6 L206.8 182.0 L205.8 180.0 L203.6 177.1 L202.6 175.6 L202.9 172.9 L203.1 169.5 L203.3 165.8 L202.1 162.0 L205.8 163.6 L205.3 161.0 L204.6 160.5 L201.6 158.8 L197.3 156.8 L196.5 155.1 L193.1 152.1 L190.6 150.0 L187.2 147.5 L183.8 144.9 L180.4 144.4 L177.0 142.7 L171.1 142.4 L167.7 141.7 L164.4 140.7 L161.8 142.4 L159.3 143.6 L156.2 143.6 L157.6 140.7 L159.3 140.4 L155.9 141.6 L153.4 143.3 L151.7 144.9 L148.3 147.5 L144.9 149.2 L141.5 150.4 L137.3 151.2 L134.3 151.6 L138.1 150.0 L142.4 148.3 L145.8 146.1 L147.1 144.4 L144.9 144.4 L141.5 144.6 L139.0 144.8 L139.0 143.3 L138.1 142.4 L134.8 141.6 L133.1 139.9 L133.9 137.8 L136.5 137.0 L140.7 136.1 L140.7 134.8 L137.3 134.8 L133.1 134.8 L131.4 133.9Z M403.5 183.0 L402.3 182.2 L400.5 181.0 L397.8 181.4 L396.9 178.5 L398.1 174.6 L397.3 171.2 L399.5 170.0 L402.9 170.2 L406.6 170.3 L410.0 170.5 L411.0 168.3 L411.1 166.1 L409.3 164.1 L405.7 163.1 L404.9 162.0 L407.9 161.4 L410.3 161.7 L409.8 159.8 L411.0 160.4 L413.3 160.2 L415.5 159.2 L416.0 157.8 L418.9 157.0 L420.1 156.0 L421.1 154.3 L423.1 153.6 L424.8 153.6 L427.4 153.2 L427.5 150.9 L426.7 148.3 L427.5 147.3 L430.9 146.3 L430.4 148.3 L429.9 150.0 L429.4 151.2 L430.3 151.9 L431.6 152.6 L434.1 151.9 L437.0 152.7 L440.1 152.1 L444.3 151.4 L445.1 151.9 L446.8 151.0 L448.5 150.0 L448.5 147.5 L451.1 146.3 L453.6 147.5 L454.3 145.3 L452.7 143.8 L455.3 143.3 L460.4 143.3 L463.7 142.6 L461.2 141.6 L455.3 142.1 L451.9 142.6 L450.2 141.7 L449.0 139.9 L449.4 137.3 L453.6 134.8 L456.0 133.6 L454.4 132.6 L450.2 133.1 L448.5 135.1 L445.1 137.0 L442.6 139.0 L442.1 140.7 L444.3 142.4 L444.3 143.6 L441.8 144.8 L440.9 146.6 L440.1 148.8 L437.2 150.0 L435.0 150.2 L434.5 149.2 L433.3 146.6 L431.9 144.1 L430.9 142.9 L429.9 144.1 L427.4 145.5 L424.8 145.8 L422.5 144.4 L421.5 141.7 L421.5 139.4 L423.1 138.0 L426.5 136.5 L429.9 136.0 L431.6 134.3 L434.1 132.2 L436.7 130.0 L439.2 128.4 L441.8 127.2 L445.1 125.8 L449.4 125.1 L452.7 124.1 L456.6 123.6 L460.4 123.8 L465.4 125.0 L463.7 125.8 L468.8 126.7 L473.9 127.0 L480.7 129.2 L482.3 130.9 L480.7 131.9 L477.3 132.1 L472.2 131.4 L468.0 130.4 L470.5 132.2 L472.2 134.8 L476.4 135.6 L477.3 134.3 L480.7 134.6 L480.7 133.1 L484.0 131.6 L487.4 131.9 L487.4 130.6 L486.6 128.0 L490.8 128.5 L491.7 130.6 L494.2 129.5 L497.6 128.9 L502.6 127.8 L505.2 128.4 L509.4 127.8 L514.5 127.5 L515.3 125.8 L522.1 126.8 L526.3 128.0 L528.9 128.4 L526.3 125.5 L526.3 122.9 L529.7 120.6 L535.6 120.7 L535.6 123.8 L535.6 127.2 L536.5 129.7 L534.8 131.7 L537.3 130.9 L538.2 128.9 L538.2 124.6 L536.5 122.9 L539.9 121.2 L544.9 121.6 L548.3 122.1 L552.5 122.9 L553.4 124.6 L554.2 122.4 L550.0 119.5 L560.2 117.0 L568.6 115.7 L578.8 114.8 L589.4 112.4 L594.0 114.0 L602.4 114.5 L604.1 117.9 L599.1 118.7 L592.3 120.1 L603.3 119.0 L609.2 119.4 L616.0 120.4 L621.9 119.5 L627.8 119.5 L631.2 120.7 L632.9 123.8 L638.0 122.9 L643.0 122.9 L646.4 122.9 L649.8 121.2 L651.5 120.7 L659.9 121.6 L666.7 122.9 L670.1 124.1 L680.2 124.6 L685.3 126.3 L690.4 126.0 L697.2 125.8 L700.5 127.2 L702.2 125.5 L710.7 125.8 L717.5 127.2 L722.5 128.4 L725.9 129.7 L729.3 130.6 L732.7 130.9 L734.9 132.1 L732.7 133.1 L730.1 134.8 L728.4 135.1 L724.2 134.3 L720.8 133.1 L719.1 133.4 L717.5 133.9 L715.8 134.8 L713.2 134.4 L714.9 136.5 L716.1 138.5 L712.4 138.2 L708.1 139.4 L704.8 140.7 L701.0 142.6 L695.5 141.9 L692.1 142.4 L689.5 142.7 L688.7 144.9 L687.0 146.1 L688.7 148.8 L687.0 150.9 L683.6 151.7 L683.6 153.9 L681.4 154.3 L680.2 156.0 L678.0 157.6 L676.9 155.1 L676.2 150.9 L676.4 147.5 L678.5 145.8 L681.9 144.1 L685.3 141.6 L689.5 139.9 L691.2 138.2 L684.5 139.5 L678.5 139.9 L675.2 143.3 L668.4 143.3 L659.9 143.6 L654.9 143.6 L649.8 146.3 L646.4 148.3 L643.0 151.2 L645.6 152.6 L648.1 152.6 L651.5 153.8 L652.0 155.1 L650.6 158.5 L650.3 161.9 L647.3 165.3 L643.0 168.7 L636.3 171.0 L634.1 172.4 L632.4 173.9 L631.2 175.8 L628.7 177.1 L630.0 178.8 L631.9 181.4 L631.7 183.9 L631.2 184.6 L628.7 185.2 L626.8 185.6 L627.0 183.0 L627.1 180.5 L624.4 179.7 L624.9 177.5 L623.4 176.3 L619.4 178.0 L618.5 178.3 L619.4 175.4 L617.7 174.9 L614.3 177.6 L612.2 178.0 L613.4 179.7 L614.3 180.8 L617.7 180.3 L620.2 181.0 L616.8 182.9 L614.8 184.7 L616.5 186.4 L617.7 189.0 L619.0 191.5 L617.7 192.7 L619.4 193.5 L618.5 196.1 L616.0 199.1 L615.1 201.2 L612.6 202.7 L610.0 205.1 L606.2 206.2 L604.1 206.7 L600.7 207.8 L599.6 209.6 L598.5 207.8 L596.2 207.4 L593.5 209.0 L591.8 211.8 L593.1 214.0 L595.3 216.4 L597.4 219.4 L597.9 222.8 L597.0 224.9 L594.0 226.4 L593.1 227.9 L590.6 229.4 L590.3 227.1 L588.1 226.1 L586.4 223.7 L583.8 222.5 L583.7 221.1 L582.1 221.5 L582.0 224.5 L580.8 227.9 L582.5 229.6 L583.0 231.8 L585.2 233.0 L587.2 234.7 L588.1 237.2 L588.1 239.8 L589.2 241.6 L587.9 241.6 L584.3 239.3 L582.8 235.0 L581.6 233.0 L579.3 230.5 L579.6 227.1 L579.9 223.7 L578.8 220.3 L578.1 216.1 L576.7 215.4 L574.4 217.2 L572.5 216.9 L572.8 213.5 L571.1 210.5 L569.1 208.8 L568.3 206.2 L566.1 205.9 L563.5 207.1 L560.2 207.6 L559.8 209.3 L557.1 210.6 L554.2 213.5 L552.2 215.7 L550.0 217.2 L548.7 218.6 L548.7 222.0 L548.1 224.5 L547.1 226.6 L545.3 228.8 L544.1 230.3 L542.1 227.9 L540.7 224.5 L539.5 222.0 L538.2 218.6 L537.0 215.2 L536.1 211.8 L536.0 208.4 L535.1 207.9 L535.8 206.4 L533.1 208.8 L529.7 206.2 L531.4 205.1 L528.9 204.2 L526.8 202.5 L526.0 201.7 L522.1 201.3 L517.0 201.3 L511.1 200.7 L509.4 198.3 L508.2 197.9 L505.2 199.0 L501.8 197.4 L499.3 195.2 L497.9 193.2 L495.7 192.7 L494.2 194.1 L495.4 196.6 L497.6 198.8 L500.3 200.1 L499.6 202.3 L501.8 203.0 L505.2 202.9 L508.2 199.6 L508.6 202.5 L512.1 204.0 L514.1 205.9 L512.3 209.3 L510.8 211.8 L508.6 213.5 L506.0 215.2 L501.8 216.6 L497.6 218.6 L494.2 220.3 L489.1 222.3 L486.6 222.5 L485.7 220.3 L485.2 216.9 L483.2 212.7 L479.3 207.9 L477.6 203.7 L474.7 200.0 L472.2 196.6 L472.2 194.1 L471.0 196.9 L468.0 193.2 L468.5 195.7 L470.5 199.1 L473.0 203.4 L475.6 207.6 L476.1 211.0 L478.3 213.5 L479.8 217.6 L482.3 219.4 L485.7 222.8 L486.2 224.5 L489.1 226.2 L493.3 225.0 L499.6 223.9 L499.3 226.4 L496.7 231.3 L494.2 236.4 L490.8 240.1 L486.6 243.5 L484.0 245.7 L482.3 247.4 L480.7 249.9 L480.1 250.8 L479.0 254.2 L479.8 257.5 L480.7 261.8 L481.7 265.2 L481.8 269.4 L479.8 272.3 L475.6 274.5 L472.2 277.5 L472.7 281.3 L473.0 284.6 L468.8 287.2 L468.5 290.6 L467.1 293.1 L465.4 294.6 L462.1 298.2 L458.7 300.7 L456.5 301.6 L450.2 301.9 L446.8 302.9 L444.1 301.9 L443.4 299.0 L442.1 294.8 L440.7 292.4 L438.7 289.7 L437.5 284.6 L437.4 282.1 L435.3 277.9 L433.0 273.6 L433.3 270.2 L435.8 265.2 L435.5 259.2 L433.8 254.2 L433.0 251.6 L429.9 248.2 L428.2 245.2 L428.9 243.2 L429.2 239.8 L429.4 237.2 L427.4 236.4 L424.8 236.5 L422.3 235.5 L420.6 233.3 L418.8 233.2 L415.0 233.7 L411.3 235.2 L409.6 235.9 L407.1 235.4 L406.2 235.0 L402.9 235.9 L400.3 236.5 L397.8 235.2 L394.7 233.0 L391.9 231.3 L390.7 229.6 L390.2 227.4 L387.6 225.4 L385.9 223.7 L384.6 221.6 L383.4 219.1 L385.1 216.9 L385.6 213.5 L385.1 211.0 L384.2 208.4 L385.1 205.9 L385.9 203.7 L388.0 200.8 L388.5 199.5 L391.0 196.9 L393.5 195.7 L396.1 194.1 L396.6 192.4 L396.9 189.8 L400.1 187.1 L402.0 185.6 L403.0 183.4 L404.0 183.2 L406.2 184.4 L408.3 184.2 L410.5 184.4 L412.0 183.4 L415.5 182.2 L418.1 181.7 L422.3 181.7 L425.7 181.4 L429.6 180.8 L431.6 181.4 L430.8 182.5 L431.6 184.7 L430.3 186.4 L431.9 187.6 L435.3 188.3 L438.9 189.3 L440.9 191.2 L445.1 192.7 L446.8 191.5 L446.8 189.5 L449.4 188.3 L452.2 189.0 L453.6 189.8 L455.6 190.5 L459.5 191.2 L462.1 191.7 L463.7 191.2 L465.4 190.7 L467.6 191.0 L469.7 191.3 L471.0 190.8 L472.2 188.5 L473.0 186.6 L473.7 184.7 L473.6 183.7 L474.2 182.0 L473.0 182.0 L471.4 181.7 L469.7 182.9 L468.0 182.9 L464.9 181.7 L464.6 182.5 L462.4 182.5 L460.7 181.9 L459.3 181.4 L459.0 179.8 L458.3 179.0 L458.2 177.5 L457.3 177.1 L457.3 176.3 L458.3 175.6 L460.4 175.6 L462.9 175.1 L462.2 174.2 L466.3 174.2 L469.7 172.9 L472.4 172.9 L474.7 174.1 L477.3 174.6 L480.1 174.6 L483.2 173.7 L483.4 172.0 L482.3 171.2 L480.1 170.3 L477.3 168.8 L476.1 167.8 L474.9 167.3 L477.3 166.1 L479.5 164.3 L477.3 164.3 L474.7 164.9 L472.2 165.8 L473.0 167.3 L474.6 167.3 L472.7 168.0 L470.5 168.8 L469.5 168.5 L468.0 167.1 L469.8 166.1 L467.1 165.6 L465.4 165.1 L464.9 165.3 L463.2 167.3 L461.5 169.5 L460.4 170.7 L459.9 172.0 L460.4 172.9 L460.7 173.7 L462.1 174.2 L460.4 174.6 L459.2 175.1 L457.5 175.9 L457.0 175.1 L456.1 174.7 L454.3 174.7 L453.6 175.8 L452.9 176.4 L451.7 175.4 L451.4 176.6 L452.2 177.6 L451.7 178.3 L453.6 179.3 L453.6 180.2 L452.9 179.8 L451.9 179.8 L452.2 180.8 L452.1 182.2 L450.9 182.4 L449.7 181.7 L448.9 180.0 L449.4 179.2 L448.5 179.0 L448.0 178.1 L447.3 177.1 L446.0 175.8 L445.8 173.7 L445.1 172.7 L443.4 171.7 L440.6 170.3 L438.4 169.0 L437.5 167.5 L436.2 167.8 L436.0 166.8 L433.8 167.1 L433.8 168.7 L435.8 170.2 L437.0 172.2 L440.2 173.1 L440.1 173.9 L441.8 174.4 L444.3 176.1 L444.0 176.6 L441.8 175.4 L441.1 176.8 L441.9 178.0 L440.9 179.2 L440.1 179.8 L439.6 179.7 L440.1 178.5 L440.2 177.5 L439.4 176.3 L438.4 175.9 L437.9 175.3 L437.0 174.9 L435.0 174.2 L433.6 173.4 L431.6 172.2 L430.8 171.2 L430.4 170.3 L429.6 169.3 L428.1 168.8 L426.5 169.7 L425.3 170.0 L423.1 171.0 L422.0 170.7 L419.8 170.3 L418.2 171.0 L418.4 172.4 L416.7 173.9 L414.4 174.9 L412.5 177.1 L413.3 178.5 L412.2 179.2 L411.8 180.3 L409.8 181.5 L408.9 181.7 L405.6 181.9 L403.9 182.9Z M98.4 127.2 L113.6 128.4 L117.0 129.7 L120.4 130.6 L123.8 130.9 L126.0 132.1 L123.8 133.1 L121.2 134.8 L119.5 135.1 L115.3 134.3 L111.9 133.1 L110.2 133.4 L98.4 133.9Z M654.0 262.1 L655.7 265.2 L656.2 268.2 L658.8 269.4 L659.1 271.9 L660.5 275.8 L661.6 276.7 L664.2 278.2 L665.5 279.9 L667.9 282.1 L668.4 284.3 L671.6 286.8 L672.1 290.6 L672.8 292.4 L671.8 295.6 L670.9 298.5 L668.9 301.4 L667.9 303.6 L666.7 306.3 L666.5 307.5 L663.3 308.2 L660.5 310.2 L658.3 309.0 L658.1 308.2 L655.7 309.7 L652.3 309.0 L649.8 307.5 L649.3 305.0 L647.3 304.3 L647.3 302.9 L646.4 300.2 L646.1 299.2 L644.7 301.1 L643.0 302.9 L642.5 303.1 L641.3 301.1 L640.0 299.5 L638.8 298.4 L634.9 297.3 L631.2 297.7 L626.1 298.7 L622.7 299.9 L619.4 301.4 L616.0 301.4 L612.6 303.3 L609.2 303.1 L607.7 302.2 L608.7 300.4 L608.7 298.2 L607.5 295.6 L606.8 292.8 L605.8 290.6 L604.8 288.0 L605.8 287.2 L605.0 285.5 L605.5 282.3 L606.2 280.9 L608.4 280.1 L610.6 278.9 L613.6 278.4 L617.7 277.2 L619.7 274.5 L619.9 272.8 L621.9 273.3 L622.1 271.4 L623.6 270.2 L626.1 267.7 L627.8 267.7 L629.8 269.4 L632.0 269.2 L632.9 266.9 L634.2 265.2 L636.3 263.1 L637.3 263.3 L638.8 264.0 L641.7 264.7 L644.4 264.7 L643.0 266.9 L642.2 269.4 L644.7 271.1 L648.1 273.3 L651.1 273.6 L652.3 270.2 L652.5 266.9 L653.0 264.3Z M657.7 312.9 L660.8 313.6 L663.8 313.3 L663.8 315.5 L663.2 317.1 L661.3 317.8 L659.9 317.7 L658.8 316.0 L657.7 313.8Z M705.1 302.2 L707.8 303.8 L708.7 306.3 L710.5 307.7 L712.4 308.3 L714.9 307.8 L713.9 310.4 L712.4 310.9 L711.5 312.9 L709.5 314.4 L708.5 313.9 L709.3 312.1 L707.0 310.5 L708.3 309.7 L708.5 307.5 L707.6 305.5 L705.6 303.3Z M705.1 312.6 L707.8 313.8 L707.5 314.8 L705.6 317.0 L705.6 318.3 L702.7 319.0 L701.9 321.7 L700.0 322.9 L697.7 322.9 L694.8 322.1 L695.5 320.2 L697.7 318.5 L701.4 316.8 L702.7 315.5 L703.9 313.3Z M634.6 245.4 L637.1 244.7 L639.6 245.4 L640.0 248.2 L641.8 249.8 L643.9 247.7 L646.4 246.7 L651.0 248.2 L654.9 249.8 L657.4 250.6 L659.6 253.0 L661.6 254.2 L663.0 255.0 L661.6 255.5 L663.3 257.9 L665.9 259.7 L668.1 261.4 L666.7 261.9 L663.0 260.9 L661.6 260.1 L659.9 257.9 L657.4 257.0 L655.7 258.1 L654.9 259.4 L651.5 259.4 L649.0 257.7 L646.4 258.1 L647.8 255.9 L646.4 253.3 L643.0 251.8 L639.6 250.6 L638.0 250.8 L637.6 249.4 L636.3 248.7 L638.8 247.9 L636.3 247.4 L634.6 246.2Z M663.8 253.5 L666.7 252.5 L670.1 251.1 L670.6 252.5 L668.4 254.2 L665.0 254.5Z M597.4 241.5 L599.1 241.1 L601.3 239.8 L604.1 238.6 L605.8 236.4 L608.4 234.7 L610.6 232.3 L611.9 233.3 L613.1 234.7 L614.3 235.2 L612.6 236.7 L612.1 238.1 L612.6 240.3 L614.3 242.3 L612.1 242.6 L611.7 245.2 L610.0 246.5 L609.7 249.1 L609.2 250.8 L606.8 250.9 L605.8 249.6 L602.4 249.8 L600.7 249.1 L599.1 246.5 L597.7 244.8 L597.4 243.2Z M574.2 234.5 L577.9 235.2 L579.9 237.7 L583.0 240.6 L584.7 241.1 L587.2 242.6 L588.6 244.8 L589.8 246.5 L592.3 249.1 L592.0 253.8 L589.9 253.8 L586.0 250.8 L583.8 248.2 L582.6 245.7 L580.4 243.2 L579.6 241.0 L577.1 238.1 L574.5 235.5Z M590.9 255.5 L592.6 254.2 L595.7 254.7 L596.9 255.5 L599.9 255.7 L600.7 255.0 L603.6 255.7 L606.7 257.2 L606.5 258.7 L602.4 258.2 L599.1 257.7 L595.7 257.2 L593.1 256.5Z M615.6 242.6 L617.3 241.8 L621.0 242.5 L624.4 241.3 L623.6 243.2 L621.0 243.3 L617.7 243.2 L616.3 245.4 L618.5 245.7 L621.4 245.5 L619.4 247.0 L619.0 248.7 L620.7 250.8 L621.0 253.3 L619.4 252.1 L618.0 249.4 L617.2 248.7 L616.6 251.6 L616.6 253.3 L615.1 253.3 L615.1 249.9 L614.1 248.7 L615.1 245.7 L615.6 244.0Z M621.9 261.4 L624.4 259.2 L627.8 258.2 L627.0 259.2 L623.6 261.3Z M609.2 258.2 L613.4 258.1 L616.0 258.1 L621.0 258.1 L620.7 258.9 L616.0 258.9 L610.9 259.2 L609.2 259.1Z M628.7 240.6 L630.3 241.5 L630.3 244.0 L629.5 245.4 L629.0 242.6Z M629.5 249.1 L634.2 249.4 L632.9 250.3 L629.5 249.9Z M617.0 212.7 L619.7 212.7 L619.9 215.2 L618.7 217.2 L619.0 219.8 L621.5 220.6 L622.9 222.7 L621.5 222.0 L620.2 221.1 L617.7 220.8 L617.0 219.4 L616.0 217.8 L615.6 216.6 L616.6 215.9 L616.6 214.4Z M619.4 232.1 L621.5 229.4 L623.9 229.6 L625.3 227.6 L626.6 229.6 L627.0 233.0 L625.6 233.8 L625.1 234.5 L623.1 233.3 L622.7 231.6 L619.9 231.3Z M623.2 222.8 L624.9 222.8 L625.6 225.0 L624.8 226.7 L623.9 225.7 L623.4 224.5Z M619.4 224.0 L621.2 224.5 L621.9 226.2 L621.0 228.4 L620.2 227.1 L619.4 226.2Z M611.2 229.8 L613.4 227.9 L615.1 224.9 L614.8 226.2 L612.6 229.1Z M616.8 221.3 L618.3 221.5 L618.0 223.2 L617.3 222.8Z M618.7 201.3 L619.4 202.3 L618.3 205.1 L617.3 206.7 L616.1 205.1 L617.2 202.5 L618.0 201.5Z M596.9 211.5 L599.1 210.0 L600.7 210.8 L599.6 212.8 L597.7 213.0Z M652.0 173.9 L653.2 176.6 L652.3 179.2 L651.5 181.4 L651.1 183.6 L649.8 184.4 L649.5 183.7 L648.4 184.4 L647.8 185.2 L646.8 185.4 L644.7 185.4 L644.6 184.7 L643.9 185.6 L643.5 187.3 L642.7 187.3 L641.3 186.4 L641.7 185.4 L639.6 185.4 L638.0 185.9 L636.3 186.4 L634.6 186.4 L634.4 185.8 L636.3 184.7 L638.3 183.7 L641.7 183.6 L643.0 183.0 L644.2 181.4 L645.2 180.5 L644.7 181.7 L647.3 180.7 L649.0 178.8 L649.8 176.8 L649.8 175.1 L650.3 174.2 L651.5 174.1Z M650.0 173.7 L650.3 172.4 L650.6 170.7 L652.2 170.7 L652.7 168.7 L652.7 167.1 L654.9 168.7 L658.8 169.0 L659.3 170.7 L657.1 171.2 L655.4 172.9 L653.2 171.9 L651.5 172.4 L651.0 173.2Z M634.4 186.6 L635.8 187.1 L636.3 188.1 L635.2 190.8 L634.1 191.5 L633.2 191.0 L633.2 189.3 L632.4 187.8 L633.6 187.1Z M637.1 186.4 L639.6 185.9 L640.8 186.8 L640.0 187.6 L638.5 187.6 L637.6 188.5 L636.8 187.4Z M653.2 152.1 L654.9 153.4 L655.4 156.0 L655.9 159.3 L657.6 161.0 L654.9 160.7 L654.4 163.6 L655.7 165.3 L654.0 165.1 L653.2 166.1 L653.2 162.7 L653.5 159.3 L652.7 156.0 L653.2 153.4Z M548.3 227.6 L550.3 229.6 L551.4 231.6 L550.5 233.3 L548.8 233.8 L548.0 232.1 L548.0 229.9Z M496.4 264.3 L497.6 266.9 L498.2 270.2 L497.1 271.1 L496.6 274.5 L495.0 279.6 L493.3 284.6 L492.5 286.3 L490.0 287.2 L487.4 286.3 L486.2 282.1 L488.1 277.9 L487.4 274.5 L488.3 271.4 L491.3 270.6 L493.8 268.6 L495.4 266.0Z M403.4 159.2 L407.1 158.8 L410.5 158.2 L415.2 157.3 L415.7 154.8 L413.5 154.3 L413.0 153.2 L412.5 151.7 L410.5 150.5 L409.3 149.2 L407.4 149.2 L409.6 146.6 L406.2 146.5 L407.9 144.8 L404.5 144.8 L402.9 146.6 L403.7 148.3 L402.3 149.5 L404.5 150.0 L404.5 151.2 L407.1 151.0 L407.9 152.6 L407.6 153.6 L405.2 153.8 L405.7 155.1 L404.2 156.3 L407.1 156.8 L407.9 157.1 L405.4 157.6Z M402.9 155.6 L402.5 153.8 L403.5 151.6 L402.0 150.5 L399.5 150.5 L398.6 151.7 L396.1 152.2 L396.9 153.8 L396.1 155.4 L396.4 156.8 L399.1 156.3 L402.0 155.6Z M372.4 133.1 L374.9 131.6 L377.5 133.1 L382.6 131.9 L385.9 131.4 L388.3 131.9 L390.0 133.6 L388.0 135.1 L382.6 136.5 L378.3 136.3 L374.8 136.0 L375.8 134.8 L372.4 134.1 L375.8 133.6Z M431.6 109.4 L438.4 108.5 L446.8 108.0 L458.7 108.2 L453.6 109.7 L448.5 111.1 L445.1 112.8 L441.8 114.3 L436.7 112.8 L433.3 111.1Z M500.1 122.9 L502.6 120.4 L506.9 117.0 L514.5 115.0 L528.9 113.6 L524.6 115.3 L514.5 117.0 L510.3 119.5 L509.4 122.1 L510.3 124.3 L505.2 124.3 L501.0 123.4Z M575.4 110.2 L582.1 106.9 L590.6 110.2 L582.1 111.9Z M644.7 116.2 L653.2 115.3 L665.0 116.2 L658.3 117.3 L649.8 117.3Z M289.5 111.6 L298.0 108.5 L308.1 106.0 L328.4 104.3 L345.3 103.0 L362.3 102.6 L375.8 104.3 L379.2 106.0 L392.7 106.0 L384.2 108.5 L380.9 111.1 L382.6 114.5 L379.2 117.0 L380.9 119.5 L375.8 121.2 L375.8 124.6 L370.7 126.3 L365.6 128.4 L358.9 128.9 L353.8 131.4 L348.7 132.8 L345.3 133.9 L342.8 137.3 L340.3 141.6 L338.6 142.6 L335.2 141.2 L331.0 140.2 L328.4 137.3 L325.9 135.3 L323.4 132.2 L322.0 129.7 L326.7 127.2 L320.8 125.5 L320.0 122.9 L318.3 120.4 L314.9 116.2 L308.1 115.0 L298.0 115.3 L292.9 113.3Z M260.8 119.0 L269.2 119.0 L276.0 119.5 L282.8 120.9 L287.8 122.6 L294.6 124.6 L298.0 126.3 L300.5 128.9 L308.1 130.6 L309.0 131.7 L305.6 133.9 L303.1 132.6 L298.0 132.2 L304.8 136.5 L302.2 139.0 L298.0 138.2 L292.1 136.5 L289.5 134.8 L281.1 134.8 L287.8 132.2 L288.7 128.0 L281.1 125.5 L274.3 125.5 L267.5 124.6 L261.6 123.8 L262.5 121.2Z M211.7 122.9 L216.8 120.4 L226.9 120.4 L235.4 120.4 L241.3 122.9 L242.2 126.0 L235.4 127.5 L226.9 127.7 L218.5 126.7 L214.3 125.0Z M200.7 122.1 L203.3 118.2 L211.7 118.4 L216.8 120.4 L210.9 122.8 L205.0 123.4Z M260.8 114.5 L265.8 111.9 L260.8 107.7 L269.2 104.8 L286.1 103.5 L304.8 104.3 L301.4 106.9 L291.2 109.4 L284.5 111.1 L281.1 113.6 L274.3 114.8Z M257.4 114.5 L277.7 116.2 L276.8 117.5 L257.4 117.5Z M215.1 116.2 L226.9 114.8 L233.7 116.2 L233.7 117.3 L221.9 117.9Z M252.3 109.4 L259.1 106.9 L265.8 108.5 L260.8 111.4 L254.0 110.9Z M250.6 118.7 L260.8 118.7 L257.4 122.1 L251.5 122.1Z M240.5 119.5 L248.9 119.5 L248.9 122.9 L241.3 122.6Z M237.1 114.5 L247.2 114.5 L247.2 117.0 L238.8 117.0Z M265.8 133.1 L270.9 132.2 L276.0 134.8 L271.8 137.3 L265.8 136.1Z M318.8 156.8 L318.3 159.3 L322.5 161.9 L323.7 163.6 L322.5 164.9 L318.3 164.4 L312.7 163.2 L314.1 161.0 L316.6 158.0Z M196.0 158.2 L201.6 159.3 L204.3 162.0 L201.6 161.4Z M188.0 152.2 L190.2 152.6 L191.1 155.6 L188.9 154.3Z M151.7 146.6 L155.6 146.0 L154.6 147.5 L152.0 147.8Z M269.2 206.9 L273.5 204.9 L277.7 205.1 L282.8 207.6 L287.5 209.8 L281.9 210.3 L281.1 209.1 L276.8 207.1 L274.3 206.2 L270.9 207.1Z M287.2 212.8 L289.5 210.3 L294.6 210.5 L297.3 212.5 L293.8 213.2 L292.1 214.0 L290.4 213.2Z M280.6 213.0 L283.9 213.4 L282.8 213.9Z M299.3 212.8 L301.9 213.0 L300.5 213.5Z M434.1 179.7 L439.4 179.3 L438.5 181.9 L434.1 180.3Z M426.9 174.6 L429.4 174.6 L429.2 177.6 L427.4 178.0Z M427.5 172.0 L428.9 171.2 L429.1 173.7 L427.9 173.7Z M452.9 183.9 L457.5 184.4 L453.6 184.7Z M467.6 184.7 L471.4 183.7 L469.7 185.2Z M690.4 277.9 L692.9 279.2 L695.5 281.8 L692.9 280.6Z M149.1 209.8 L150.8 210.6 L149.8 211.8 L149.1 211.0Z M431.6 149.7 L434.1 149.2 L433.8 150.9 L431.9 150.5Z M443.8 147.5 L445.1 146.0 L444.8 147.1Z M320.8 125.1 L325.0 125.1 L323.4 126.7Z M244.7 126.3 L250.6 126.3 L250.6 127.8 L245.6 127.7Z M205.0 114.5 L213.4 113.1 L216.8 114.5 L208.3 115.7Z M235.4 110.2 L243.9 110.2 L245.6 112.3 L237.1 112.3Z M250.6 116.2 L255.7 116.2 L254.0 117.5 L250.6 117.3Z M303.9 159.5 L308.6 160.7 L305.6 160.5Z M304.2 164.8 L308.1 165.4 L306.4 166.1Z M308.5 225.9 L309.8 225.7 L309.8 226.9 L308.5 226.9Z M614.3 259.9 L617.3 260.8 L616.0 261.4Z M661.6 167.0 L664.7 167.0 L663.3 167.8Z M450.2 144.3 L451.9 144.3 L452.2 145.5 L449.9 145.5Z M96.2 302.2 L98.9 303.8 L99.8 306.3 L101.6 307.7 L103.5 308.3 L106.0 307.8 L105.0 310.4 L103.5 310.9 L102.6 312.9 L100.6 314.4 L99.6 313.9 L100.4 312.1 L98.1 310.5 L99.4 309.7 L99.6 307.5 L98.7 305.5 L96.7 303.3Z M96.7 376.1 L125.5 376.9 L142.4 376.1 L159.3 374.4 L176.2 371.8 L193.1 370.1 L210.0 369.3 L226.9 370.1 L243.9 366.8 L260.8 367.6 L277.7 367.6 L286.1 365.9 L294.6 360.8 L299.7 357.4 L304.8 354.1 L311.5 351.5 L316.6 351.2 L311.5 354.1 L308.1 357.4 L309.8 362.5 L309.8 365.9 L311.5 369.3 L308.1 371.0 L320.0 374.4 L328.4 375.7 L345.3 376.1 L353.8 375.7 L367.3 372.7 L379.2 368.5 L396.1 364.2 L413.0 362.5 L429.9 362.5 L446.8 362.5 L463.7 361.7 L472.2 360.8 L480.7 360.0 L489.1 358.3 L497.6 356.6 L506.0 355.8 L514.5 358.0 L522.9 358.3 L531.4 359.1 L534.8 361.7 L539.9 361.7 L544.9 359.6 L551.7 357.4 L561.8 356.9 L573.7 356.6 L582.1 355.8 L590.6 356.6 L599.1 355.8 L607.5 356.6 L616.0 357.1 L624.4 356.3 L632.9 355.8 L641.3 355.8 L649.8 356.9 L658.3 357.4 L666.7 360.0 L675.2 360.8 L683.6 362.5 L692.1 363.7 L701.4 365.1 L700.5 367.6 L695.5 371.0 L690.4 374.4 L695.5 375.7 L709.0 376.1 L725.9 376.1 L725.9 399.8 L96.7 399.8Z" fill="#cccccc" fill-opacity="0.2" stroke="#000" stroke-width="0.85" stroke-linejoin="round"/>
<path d="M495.9 165.3 L500.1 164.4 L502.6 164.9 L502.6 167.3 L499.8 167.5 L498.1 168.7 L499.3 170.9 L501.8 171.7 L502.1 173.7 L504.0 174.9 L503.0 177.1 L504.2 180.8 L501.0 181.7 L497.9 180.7 L495.9 179.2 L496.2 177.5 L497.2 175.4 L495.2 173.2 L493.3 171.2 L492.5 168.7 L493.8 166.8Z M511.9 165.1 L516.2 164.9 L517.0 167.0 L515.3 169.5 L511.9 170.0 L511.6 167.8Z M588.6 156.6 L591.4 156.0 L595.7 153.1 L598.5 149.7 L597.4 149.7 L594.0 153.1 L590.6 155.4Z M537.3 165.3 L541.5 164.8 L546.6 165.3 L541.5 165.8 L538.2 166.8Z M466.8 243.7 L470.5 243.5 L470.5 245.7 L469.7 247.9 L467.1 248.6 L466.6 245.7Z M462.4 249.8 L463.4 251.6 L465.1 258.1 L464.2 258.4 L462.7 254.2 L462.2 251.6Z M470.5 260.1 L471.9 263.5 L472.5 268.0 L471.5 268.2 L470.8 264.3 L470.3 260.9Z M257.4 164.9 L261.6 162.7 L264.2 161.4 L268.4 162.9 L269.7 165.1 L265.8 165.3 L263.3 164.1 L259.9 165.1Z M264.5 173.4 L265.8 166.8 L268.4 166.1 L269.6 166.6 L267.0 169.5 L267.0 172.5 L265.8 173.6Z M270.1 166.1 L275.2 166.1 L277.7 167.8 L276.3 168.7 L274.8 170.9 L273.5 171.2 L271.8 169.8 L272.1 167.5Z M271.9 173.4 L275.2 173.6 L279.4 171.7 L277.3 171.5 L274.3 172.4Z M278.0 170.7 L282.8 170.7 L284.1 169.5 L281.1 169.5 L278.9 169.8Z M245.6 152.9 L247.6 152.9 L250.1 157.6 L248.4 158.7 L246.4 156.0Z M201.6 131.9 L208.3 130.6 L213.4 131.4 L210.0 133.9 L205.0 133.6Z M215.1 140.7 L220.2 137.7 L227.8 137.7 L223.6 139.7 L218.5 140.9Z M224.4 144.1 L228.6 143.1 L233.7 143.6 L228.6 144.1Z M464.1 142.4 L468.5 141.9 L468.5 140.4 L465.1 139.7Z M471.4 140.7 L474.4 140.2 L473.0 137.8 L471.4 138.7Z M294.6 270.1 L296.0 270.4 L296.8 271.8 L295.4 271.4Z M435.5 221.1 L437.7 221.1 L437.5 222.5 L435.8 222.3Z M267.5 223.5 L269.2 224.0 L269.4 225.2 L268.2 224.9Z M473.9 236.4 L474.6 236.5 L474.9 239.6 L473.9 239.3Z M434.0 144.9 L436.3 143.6 L436.7 144.8 L435.0 145.3Z M541.9 172.0 L545.4 171.5 L545.4 172.5 L542.4 172.5Z" fill="#cccccc" fill-opacity="0.2" stroke="#000" stroke-width="0.6" stroke-linejoin="round"/>
<path d="M204.5 161.0 L252.0 161.0 L253.0 161.5 L257.4 162.2 L261.6 162.7 L263.5 162.2 L269.6 164.8 L270.1 165.3 L271.8 166.1 L273.5 167.3 L273.6 171.2 L272.4 172.5 L273.5 173.4 L279.4 171.5 L279.4 170.7 L279.4 170.2 L283.6 169.5 L286.1 167.8 L292.1 167.8 L293.2 167.1 L294.3 165.6 L296.0 163.7 L297.5 163.9 L298.3 164.4 L298.3 166.5 L299.0 167.5 L299.7 168.0 M174.5 126.2 L174.5 141.9 L177.9 142.2 L180.4 144.1 L182.3 143.3 L184.7 143.1 L187.2 144.9 L190.1 148.0 L193.1 149.2 L192.8 150.9 M214.9 189.0 L219.0 188.6 L225.3 191.0 L230.0 191.0 L230.0 190.2 L232.9 190.2 L236.2 193.7 L238.4 194.9 L239.6 193.5 L242.2 193.9 L244.7 197.4 L245.6 199.3 L248.6 200.1 M257.1 219.3 L257.4 218.3 L257.9 216.9 L259.9 216.9 L259.1 214.9 L259.1 213.9 L262.1 213.9 L262.1 216.9 L262.6 217.1 M262.1 213.9 L263.6 212.7 M260.6 220.6 L262.0 219.6 L263.6 217.4 M262.0 219.6 L263.3 220.3 L264.5 221.3 M265.3 222.0 L266.4 220.6 L269.2 219.1 L272.3 218.6 M268.0 225.2 L269.7 225.4 L271.4 225.5 M272.8 230.3 L272.8 227.9 L273.3 227.7 M282.1 229.3 L281.4 231.3 M291.7 213.0 L291.6 210.6 M292.4 224.0 L290.4 225.4 L289.5 228.4 L290.5 229.9 L291.2 231.8 L294.6 232.1 L298.8 233.5 L298.3 236.4 L299.2 238.4 L299.7 242.0 M299.7 242.0 L294.9 241.1 L295.4 242.8 L294.6 244.0 L295.6 246.2 L294.6 251.1 M294.6 251.1 L293.4 250.4 L289.9 248.1 L287.8 245.7 L285.6 244.2 L283.6 243.5 L281.9 242.8 L279.7 241.6 M285.6 244.2 L285.3 246.5 L283.3 248.4 L280.7 249.9 L279.4 252.5 L277.2 251.5 L277.2 249.8 M294.6 251.1 L289.9 252.8 L288.0 256.4 L289.5 259.6 L290.9 260.9 L293.6 260.6 L293.6 262.6 L295.3 262.6 M295.3 262.6 L296.8 265.2 L296.3 267.2 L295.8 269.4 L295.4 271.4 L295.4 273.6 L293.9 275.0 M295.3 262.6 L298.0 262.1 L302.6 260.6 L302.6 263.8 L304.1 265.2 L306.8 266.0 L309.8 266.9 L311.2 268.6 L311.2 271.4 L314.2 271.6 L314.4 273.3 L315.7 274.5 L314.9 277.5 L314.6 278.2 M295.4 273.6 L297.1 277.0 L297.1 279.6 L298.2 282.6 L299.3 282.6 M299.3 282.6 L301.0 280.9 L303.1 281.4 L304.2 282.6 L306.9 281.6 M306.9 281.6 L307.6 278.7 L308.5 277.2 L313.2 276.7 L314.6 278.2 M314.6 278.2 L315.1 281.4 L318.6 281.8 L319.3 284.6 L321.2 284.8 L320.6 287.3 M306.9 281.6 L309.8 284.3 L313.5 286.0 L315.6 287.0 L313.9 290.1 L317.8 290.4 L320.6 287.3 M320.6 287.3 L322.0 289.4 L322.0 290.1 L318.6 292.1 L315.6 295.1 M315.6 295.1 L318.3 296.2 L321.7 298.0 L322.7 299.4 L322.7 301.1 M315.6 295.1 L314.6 298.2 L314.2 301.6 M299.3 282.6 L297.1 285.5 L297.3 289.7 L295.1 293.1 L294.1 296.5 L294.6 300.4 L293.8 304.1 L292.6 307.5 L291.9 311.7 L291.4 316.0 L291.9 320.2 L290.7 324.4 L289.5 327.8 L290.7 330.4 L294.6 332.0 L297.3 332.7 M297.0 333.2 L297.0 337.0 M299.7 242.0 L302.2 242.6 L304.8 240.8 L304.2 237.2 L306.8 237.6 L309.8 236.4 L310.3 235.2 M310.3 235.2 L309.3 233.8 L311.7 229.9 M310.3 235.2 L311.7 236.4 L312.2 239.8 L313.5 241.8 L317.4 240.8 M316.3 234.0 L315.1 237.2 L317.4 240.8 M317.4 240.8 L320.8 240.1 M321.7 234.3 L320.8 240.1 L323.7 240.1 L325.6 237.2 M398.3 197.1 L390.7 197.1 M398.3 197.8 L398.3 200.0 L392.7 200.0 L392.7 204.2 L391.0 205.1 L391.0 207.9 L384.2 207.9 M409.3 184.6 L410.0 186.4 L411.0 189.3 L407.9 190.3 L406.7 191.8 L403.7 193.5 L398.3 195.4 L398.3 197.8 M398.3 197.8 L404.9 201.7 L414.7 208.4 L415.5 209.3 L418.4 210.6 L418.6 211.8 L420.1 211.5 L423.1 210.6 L433.3 204.2 M433.3 204.2 L429.9 202.5 L429.6 199.1 L429.7 196.1 L429.1 192.9 M429.1 192.9 L428.2 189.8 L425.7 187.3 L426.9 185.1 L427.0 182.2 L427.5 181.5 M429.1 192.9 L430.4 190.2 L432.5 189.0 L432.5 187.8 M455.3 190.5 L455.3 206.7 L455.3 210.1 L453.6 210.1 L453.6 211.0 M453.6 211.0 L440.1 204.2 L438.4 205.1 L437.0 205.7 L433.3 204.2 M455.3 206.7 L475.4 206.7 M404.9 201.7 L401.8 201.7 L403.7 216.1 L404.0 217.8 L397.3 217.8 L394.9 217.9 L393.5 217.6 L392.4 218.9 M392.4 218.9 L390.5 217.2 L388.8 215.9 L385.3 216.6 M392.4 218.9 L393.7 223.0 M393.7 223.0 L389.8 222.7 L384.8 223.0 M384.6 221.0 L387.6 220.6 L389.7 221.1 L387.6 221.5 L384.6 221.8 M389.8 222.7 L389.8 224.2 L387.6 225.4 M393.7 223.0 L397.3 223.2 L399.0 225.4 L399.6 226.7 M390.5 228.6 L393.5 227.1 L395.6 229.6 L397.1 231.5 L398.6 231.1 L399.6 226.7 M395.6 229.6 L393.5 232.3 M398.6 231.1 L400.3 236.5 M399.6 226.7 L403.7 226.4 L408.3 227.6 L407.6 235.4 M403.7 226.4 L405.7 222.5 L409.6 220.0 L413.3 218.6 L418.9 217.9 L420.1 215.6 L420.1 211.5 M413.3 218.6 L416.7 223.0 L419.1 224.2 M408.3 225.4 L413.0 225.4 L413.8 229.6 L415.0 233.7 M413.0 225.4 L414.5 225.4 L415.7 233.5 M414.5 225.4 L416.7 223.0 M419.1 224.2 L417.6 233.2 M419.1 224.2 L419.8 221.1 L424.8 222.0 L429.9 221.5 L436.0 220.8 M436.0 220.8 L439.2 215.4 L438.4 205.1 M436.0 220.8 L437.0 222.8 L435.3 227.1 L432.5 232.8 L429.1 233.2 L427.5 235.9 M437.0 222.8 L439.2 227.1 L438.9 231.3 M438.9 231.3 L437.5 234.7 L440.1 240.3 M440.1 240.3 L435.5 240.3 L432.1 240.3 L429.6 240.1 M432.1 240.3 L432.1 242.3 L429.1 242.3 M435.5 240.3 L437.4 241.8 L437.2 247.2 L434.1 247.9 L433.0 250.3 L431.8 250.6 M444.5 238.1 L443.1 244.8 L440.1 249.1 L438.9 251.3 L435.0 252.1 L433.6 253.8 M438.9 231.3 L444.5 230.5 L451.7 225.5 M440.1 240.3 L441.1 238.1 L444.5 238.1 L446.0 235.4 L450.9 237.1 L455.8 235.2 L459.3 235.4 M453.6 211.0 L453.6 217.4 L451.1 220.3 L450.7 222.0 L451.7 225.5 M451.7 225.5 L453.6 229.3 L459.3 235.4 M474.7 219.8 L474.1 222.5 L470.7 225.9 L470.7 229.8 L468.8 230.6 L473.7 236.2 M474.7 219.8 L475.6 215.2 L478.3 213.5 M474.7 219.8 L479.0 219.3 L484.7 222.8 M486.1 224.5 L484.0 225.4 L483.7 222.8 M485.6 225.4 L487.4 228.8 L492.5 230.5 L494.2 230.5 L489.1 235.5 L484.0 236.9 L482.3 237.4 M482.3 237.4 L479.0 238.1 L473.9 236.5 L473.7 236.2 M482.3 237.4 L482.3 244.0 L483.4 246.9 M470.5 236.9 L471.4 242.0 L470.5 244.0 L470.3 245.7 M470.3 245.7 L476.6 249.1 L479.3 252.0 M459.3 235.4 L462.9 236.4 L465.1 238.1 L470.5 236.9 L473.7 236.2 M465.1 238.1 L465.9 240.3 L463.2 244.0 L463.1 246.4 M463.1 246.4 L464.6 245.7 L470.3 245.7 M463.1 246.4 L465.1 248.1 L464.6 249.9 L463.7 251.5 L462.7 251.5 M462.1 248.6 L465.1 248.1 M462.7 251.5 L463.1 255.0 L465.1 258.1 M465.1 258.1 L461.9 258.4 L461.0 259.7 L461.4 264.3 L463.4 264.7 L463.4 266.7 L461.0 265.2 L459.0 264.0 L454.3 263.1 L453.6 262.5 L450.2 263.0 L450.2 266.0 M450.2 263.0 L449.9 257.5 L446.0 255.9 L442.6 257.7 L441.1 254.0 L435.8 254.0 L433.8 254.2 M450.2 266.0 L453.6 266.0 L453.6 273.6 L452.6 273.8 M433.0 273.3 L436.7 273.5 L444.3 273.5 L452.6 273.8 L455.8 274.1 M448.5 275.0 L448.5 281.3 L446.8 281.3 L446.8 286.0 L446.8 292.1 L442.6 292.8 L440.9 292.4 M452.6 273.8 L448.5 275.0 M446.8 286.0 L450.2 288.9 L451.9 286.8 L456.1 287.3 L458.7 284.1 L462.7 281.6 M462.7 281.6 L459.9 278.7 L455.8 274.1 M455.8 274.1 L458.7 274.3 L461.9 271.1 L464.4 270.6 M464.4 270.6 L468.8 272.3 L468.6 276.2 L468.0 280.1 L465.9 281.9 M462.7 281.6 L465.9 281.9 L467.1 285.5 L467.1 289.4 L468.6 289.5 M458.7 294.1 L460.4 292.6 L462.6 293.3 L462.2 295.1 L460.0 295.8 L458.7 294.1 M465.4 288.0 L467.1 288.0 L467.1 290.1 L465.4 290.1 L465.4 288.0 M465.1 258.1 L468.6 259.9 L470.5 260.1 M471.5 263.6 L473.7 269.2 L472.7 273.0 L471.0 271.6 L471.2 268.4 L469.2 267.7 L468.3 267.0 L469.3 265.0 L469.3 262.3 L468.6 259.9 M471.5 263.6 L476.4 263.8 L481.3 261.8 M464.4 270.6 L464.1 269.4 L469.2 267.7 M397.9 173.1 L399.1 172.9 L401.8 173.1 L402.5 173.6 L401.3 174.6 L401.2 176.8 L400.3 176.9 L401.2 179.3 L400.5 181.0 M410.0 170.5 L414.2 171.5 L418.4 172.2 M425.7 169.8 L424.8 169.0 L424.5 167.5 L424.8 166.3 L423.5 165.6 L425.7 163.6 L426.9 161.0 L423.8 160.2 L422.8 160.2 L420.1 159.3 L417.2 157.5 M418.8 157.0 L421.5 156.8 L422.8 157.3 L423.1 158.0 L423.1 156.3 L424.8 155.4 L425.2 153.8 M423.1 158.0 L423.8 160.2 M427.5 151.0 L429.7 151.2 M437.0 152.7 L437.5 155.1 L438.0 157.6 L433.6 158.8 L436.3 161.5 L435.0 163.4 L429.9 163.6 L429.2 163.6 L425.7 163.6 M429.2 163.6 L429.1 164.4 L430.6 164.6 M424.8 166.3 L427.4 165.6 L428.2 166.3 L430.6 165.1 L433.6 164.4 L436.2 165.3 L440.1 164.8 L441.8 162.7 L441.8 161.7 L438.4 161.0 L436.3 161.5 M438.0 157.6 L440.9 158.7 L444.8 160.2 L451.2 160.9 L453.6 158.3 L452.9 155.1 L452.7 152.6 M441.8 161.7 L444.8 160.2 M441.8 162.7 L444.8 163.1 L450.5 162.0 M446.3 151.9 L451.6 151.9 L452.7 152.6 M448.5 149.0 L455.3 148.7 L458.0 149.7 M448.5 150.4 L451.6 151.9 M454.3 146.0 L459.3 146.6 M460.5 143.4 L459.5 145.8 L460.4 148.3 L458.0 149.7 L456.1 152.2 L452.7 152.6 M452.9 156.6 L464.6 157.0 L466.8 155.8 M460.4 148.8 L465.4 150.9 L468.3 153.6 L466.8 155.8 L471.0 156.3 L473.0 158.7 L477.3 159.5 L480.7 160.0 L480.3 162.7 L477.6 164.3 M451.2 160.9 L450.5 162.0 L455.1 163.2 L458.0 162.2 L460.4 167.0 L463.2 167.3 M458.0 162.2 L462.4 162.7 L463.7 165.4 L460.7 167.0 M450.5 162.0 L450.2 163.1 L447.3 165.8 L449.4 168.1 L451.4 169.2 L456.1 170.0 L458.7 169.3 L461.4 170.0 M440.1 164.8 L440.9 165.4 L444.8 166.3 L447.3 165.8 M436.2 167.0 L439.2 167.0 L440.9 165.4 M444.8 166.3 L445.1 168.0 L445.8 170.3 L447.3 171.5 L447.8 173.1 L450.9 172.4 L451.7 174.1 M445.1 168.0 L440.1 167.5 L440.1 169.5 L442.8 171.2 L444.3 172.0 M445.8 173.1 L447.8 173.1 L448.5 174.7 L446.8 176.8 M450.9 172.4 L451.4 169.2 M448.5 174.7 L451.7 174.1 L454.4 173.7 L457.5 173.4 L460.4 172.9 M457.5 173.4 L457.0 174.9 M432.5 144.1 L434.1 140.7 L433.6 137.3 L436.7 134.8 L440.1 130.6 L443.4 128.0 L447.7 127.2 L452.7 129.0 L453.6 132.6 M447.7 127.2 L456.5 127.2 L457.0 125.5 L460.4 125.3 L462.1 127.0 L463.7 129.4 L462.9 132.2 L463.7 135.6 L466.3 137.5 L460.4 141.6 M462.1 127.0 L465.1 125.8 M399.1 151.7 L400.7 152.2 L402.3 152.4 M496.7 165.8 L492.5 162.7 L491.7 161.9 L492.5 159.7 L495.0 159.3 L499.3 156.6 L505.2 157.6 L512.8 158.2 L517.0 157.6 L514.5 156.0 L516.2 152.7 L522.9 151.7 L529.7 150.2 L533.1 152.2 L537.3 152.6 L542.9 152.1 L543.2 153.9 L548.3 158.0 L554.2 157.6 L557.1 160.0 L560.7 160.7 M560.7 160.7 L558.0 162.0 L557.6 164.4 L553.4 164.1 L552.2 167.0 L548.3 167.8 L549.5 171.0 L548.7 172.5 M548.7 172.5 L539.9 171.4 L537.3 171.2 L533.1 172.4 L528.0 174.6 L525.5 174.2 L524.6 171.2 L516.2 169.0 L512.1 166.8 L507.7 167.8 L507.7 174.1 L502.3 173.2 M507.7 174.1 L511.9 171.7 L514.5 172.5 L517.7 174.4 L521.2 178.1 L525.5 180.7 M504.2 180.8 L508.6 179.3 L511.9 180.2 L516.5 182.0 L516.5 183.7 L519.6 184.1 L522.1 182.4 L525.5 180.7 L528.0 181.4 L530.6 180.3 L532.2 179.2 L534.1 181.7 L539.7 181.0 M548.7 172.5 L542.4 175.4 L537.8 177.1 L539.7 181.0 M533.1 172.4 L532.2 174.9 L536.5 175.4 L537.8 177.1 L532.2 177.1 L528.0 176.3 L527.2 178.0 L528.0 181.4 M539.7 181.0 L533.4 183.0 L533.4 186.1 L530.4 187.3 L530.2 190.0 L525.3 191.7 L525.0 193.5 L518.7 194.2 L516.0 193.5 M516.0 193.5 L517.5 190.8 L515.5 187.3 L516.5 183.7 M516.0 193.5 L520.1 197.9 L517.2 201.3 M528.4 203.7 L533.1 202.3 L530.7 197.9 L534.8 196.3 L538.2 192.4 L539.0 188.5 L542.9 187.8 L544.6 183.9 L539.7 181.0 M544.6 183.9 L546.6 189.0 L550.0 192.9 L548.5 195.2 L555.1 197.4 L562.0 199.3 L562.0 196.8 L558.5 196.6 L550.0 192.9 M562.0 196.8 L563.5 197.8 L568.6 198.5 L568.8 196.9 L572.8 194.6 L577.6 196.3 M563.5 197.8 L564.4 196.3 L568.8 196.9 M577.6 196.3 L574.0 199.1 L572.3 203.4 L570.8 206.4 L569.6 207.9 M569.6 207.9 L569.1 203.9 L567.3 203.7 L569.3 201.7 L564.9 201.2 L564.9 199.6 L562.5 199.1 L562.0 202.5 L563.5 206.7 M577.6 196.3 L579.9 197.4 L579.9 200.8 L578.1 203.4 L580.8 206.6 L584.2 208.1 L582.3 209.5 L578.8 210.6 L577.7 212.7 L579.9 216.4 L579.1 218.6 L580.8 222.8 L579.8 227.1 M582.3 209.5 L583.0 211.0 L584.2 214.4 L585.7 213.2 L588.9 213.0 L590.3 216.1 L591.6 219.6 M584.2 208.1 L585.7 206.1 L588.7 208.8 L589.9 210.8 L590.9 212.3 L593.1 215.6 L594.8 218.6 L594.8 219.1 L594.8 223.2 L592.0 224.4 L592.3 225.5 L589.6 226.4 M591.6 219.6 L594.8 219.1 M591.6 219.6 L587.2 220.0 L586.2 221.1 L587.0 224.2 M585.7 206.1 L591.1 204.5 L593.5 205.4 L595.7 207.6 M582.3 233.2 L584.0 234.3 L585.7 233.5 M561.5 160.7 L566.9 167.5 L574.5 169.2 L576.1 171.7 L583.8 171.9 L590.6 173.6 L599.1 171.7 L602.4 169.8 L602.3 167.8 L608.5 167.1 L615.8 164.8 L612.2 165.3 L608.9 163.1 L610.4 159.7 M561.5 160.7 L568.6 158.0 L578.8 159.3 L579.3 156.0 L585.9 157.1 L587.2 158.8 L594.0 159.3 L605.8 159.0 L610.4 159.7 L615.1 159.3 L616.0 154.6 L617.7 153.8 L621.9 153.4 L626.1 154.6 L628.7 158.8 L633.7 161.2 L641.3 162.0 L638.3 167.6 L634.9 168.1 L634.6 171.2 L633.9 172.2 M633.9 172.2 L629.5 172.9 L627.6 173.2 L623.4 176.3 M627.3 179.8 L630.2 178.6 M474.1 183.0 L475.6 181.9 L484.5 181.0 L488.8 181.0 L488.1 177.3 L488.8 176.8 L486.6 174.4 L483.2 173.7 M480.7 170.5 L486.6 171.5 L491.5 173.1 L495.2 173.2 M486.6 174.4 L489.1 174.1 L491.5 173.1 M489.1 174.1 L491.7 178.1 M488.8 176.8 L491.7 178.1 L494.2 177.1 L495.7 179.0 M488.8 181.0 L490.8 183.6 L490.0 186.4 L491.1 188.1 L493.8 190.2 L495.0 193.2 M484.5 181.0 L482.7 185.2 L478.6 187.4 L479.3 189.5 L484.0 191.2 L488.6 194.6 L491.7 194.7 L493.7 193.0 L494.2 193.2 M491.7 194.7 L493.3 195.4 L495.0 195.7 M478.6 187.4 L475.2 189.3 L473.4 188.6 L472.2 194.1 M479.3 189.5 L475.6 190.7 L477.3 192.4 L476.4 193.2 L473.9 194.6 L472.2 194.2 M471.0 191.0 L472.0 194.1 M472.4 188.0 L473.4 188.6 L474.7 185.4 L473.9 185.4 M485.4 216.2 L486.2 214.4 L492.5 215.2 L501.0 211.8 L506.0 210.1 L507.2 206.7 L506.4 205.6 L502.0 205.2 L500.3 203.0 M501.0 211.8 L502.8 215.9 M498.9 202.2 L499.6 202.3 M506.4 205.6 L507.7 203.0 L508.4 201.8 M598.4 240.6 L599.9 242.5 L602.4 241.6 L605.8 241.6 L607.5 239.3 L608.9 236.7 L611.9 236.9 M605.8 236.2 L607.2 236.7 L608.0 235.5 M651.5 248.4 L651.5 259.4 M622.9 259.9 L624.6 259.6 L624.4 260.3 M534.8 131.7 L525.5 131.7 L522.8 133.3 L523.6 137.7 L528.9 141.1 L540.4 141.1 L552.5 145.5 L555.1 148.2 M525.5 138.2 L528.9 141.1 L527.7 143.3 M553.4 124.6 L559.3 129.7 L560.3 133.3 L561.3 137.7 L565.2 139.9 M561.0 132.9 L567.4 135.0 M592.3 120.1 L585.5 122.1 L581.5 122.8 M626.1 121.2 L622.6 122.8 L620.9 128.9 L622.6 134.1 L633.1 137.7 L638.3 136.8 M633.1 137.7 L622.6 139.4 L612.1 141.1 L603.3 143.4 M328.4 244.8 L325.9 246.5 L321.7 247.7 L316.6 248.7 L311.5 249.4 L306.4 250.4 L301.4 249.1 L296.3 250.4 L290.4 251.1" fill="none" stroke="#000" stroke-width="0.7" stroke-linejoin="round"/>
</g>
<rect x="100.5" y="97.5" width="620.0" height="299.0" fill="none" stroke="#000" stroke-width="1"/>
<text x="410" y="90" font-size="20.08" text-anchor="middle">Nequick-Galileo VTEC : 14 Hour of 240 DOY [2019/08/28]</text>
<defs><linearGradient id="jet" x1="0" x2="1" y1="0" y2="0"><stop offset="0.000" stop-color="#000080"/><stop offset="0.025" stop-color="#00009b"/><stop offset="0.050" stop-color="#0000b6"/><stop offset="0.075" stop-color="#0000d6"/><stop offset="0.100" stop-color="#0000f1"/><stop offset="0.125" stop-color="#0000ff"/><stop offset="0.150" stop-color="#0018ff"/><stop offset="0.175" stop-color="#0030ff"/><stop offset="0.200" stop-color="#004cff"/><stop offset="0.225" stop-color="#0064ff"/><stop offset="0.250" stop-color="#0080ff"/><stop offset="0.275" stop-color="#0098ff"/><stop offset="0.300" stop-color="#00b0ff"/><stop offset="0.325" stop-color="#00ccff"/><stop offset="0.350" stop-color="#00e4f8"/><stop offset="0.375" stop-color="#16ffe1"/><stop offset="0.400" stop-color="#29ffce"/><stop offset="0.425" stop-color="#3cffba"/><stop offset="0.450" stop-color="#53ffa4"/><stop offset="0.475" stop-color="#66ff90"/><stop offset="0.500" stop-color="#7dff7a"/><stop offset="0.525" stop-color="#90ff66"/><stop offset="0.550" stop-color="#a4ff53"/><stop offset="0.575" stop-color="#baff3c"/><stop offset="0.600" stop-color="#ceff29"/><stop offset="0.625" stop-color="#e4ff13"/><stop offset="0.650" stop-color="#f8f500"/><stop offset="0.675" stop-color="#ffde00"/><stop offset="0.700" stop-color="#ffc400"/><stop offset="0.725" stop-color="#ffae00"/><stop offset="0.750" stop-color="#ff9400"/><stop offset="0.775" stop-color="#ff7e00"/><stop offset="0.800" stop-color="#ff6800"/><stop offset="0.825" stop-color="#ff4e00"/><stop offset="0.850" stop-color="#ff3800"/><stop offset="0.875" stop-color="#ff1e00"/><stop offset="0.900" stop-color="#f10800"/><stop offset="0.925" stop-color="#d60000"/><stop offset="0.950" stop-color="#b60000"/><stop offset="0.975" stop-color="#9b0000"/><stop offset="1.000" stop-color="#800000"/></linearGradient></defs>
<rect x="100.5" y="468.5" width="620.0" height="31.0" fill="url(#jet)" stroke="#000" stroke-width="1"/>
<line x1="166.4" y1="499.5" x2="166.4" y2="494.0" stroke="#000" stroke-width="0.7"/>
<text x="166.4" y="518.6" font-size="16.67" text-anchor="middle">0.4</text>
<line x1="235.5" y1="499.5" x2="235.5" y2="494.0" stroke="#000" stroke-width="0.7"/>
<text x="235.5" y="518.6" font-size="16.67" text-anchor="middle">0.8</text>
<line x1="304.5" y1="499.5" x2="304.5" y2="494.0" stroke="#000" stroke-width="0.7"/>
<text x="304.5" y="518.6" font-size="16.67" text-anchor="middle">1.2</text>
<line x1="373.6" y1="499.5" x2="373.6" y2="494.0" stroke="#000" stroke-width="0.7"/>
<text x="373.6" y="518.6" font-size="16.67" text-anchor="middle">1.6</text>
<line x1="442.6" y1="499.5" x2="442.6" y2="494.0" stroke="#000" stroke-width="0.7"/>
<text x="442.6" y="518.6" font-size="16.67" text-anchor="middle">2.0</text>
<line x1="511.6" y1="499.5" x2="511.6" y2="494.0" stroke="#000" stroke-width="0.7"/>
<text x="511.6" y="518.6" font-size="16.67" text-anchor="middle">2.4</text>
<line x1="580.7" y1="499.5" x2="580.7" y2="494.0" stroke="#000" stroke-width="0.7"/>
<text x="580.7" y="518.6" font-size="16.67" text-anchor="middle">2.8</text>
<line x1="649.7" y1="499.5" x2="649.7" y2="494.0" stroke="#000" stroke-width="0.7"/>
<text x="649.7" y="518.6" font-size="16.67" text-anchor="middle">3.2</text>
<line x1="718.8" y1="499.5" x2="718.8" y2="494.0" stroke="#000" stroke-width="0.7"/>
<text x="718.8" y="518.6" font-size="16.67" text-anchor="middle">3.6</text>
<text x="409.8" y="543.8" font-size="16.67" text-anchor="middle">VTEC</text>
<text x="720" y="541" font-size="16.67" text-anchor="end">1e17</text>
</svg></body></html>
